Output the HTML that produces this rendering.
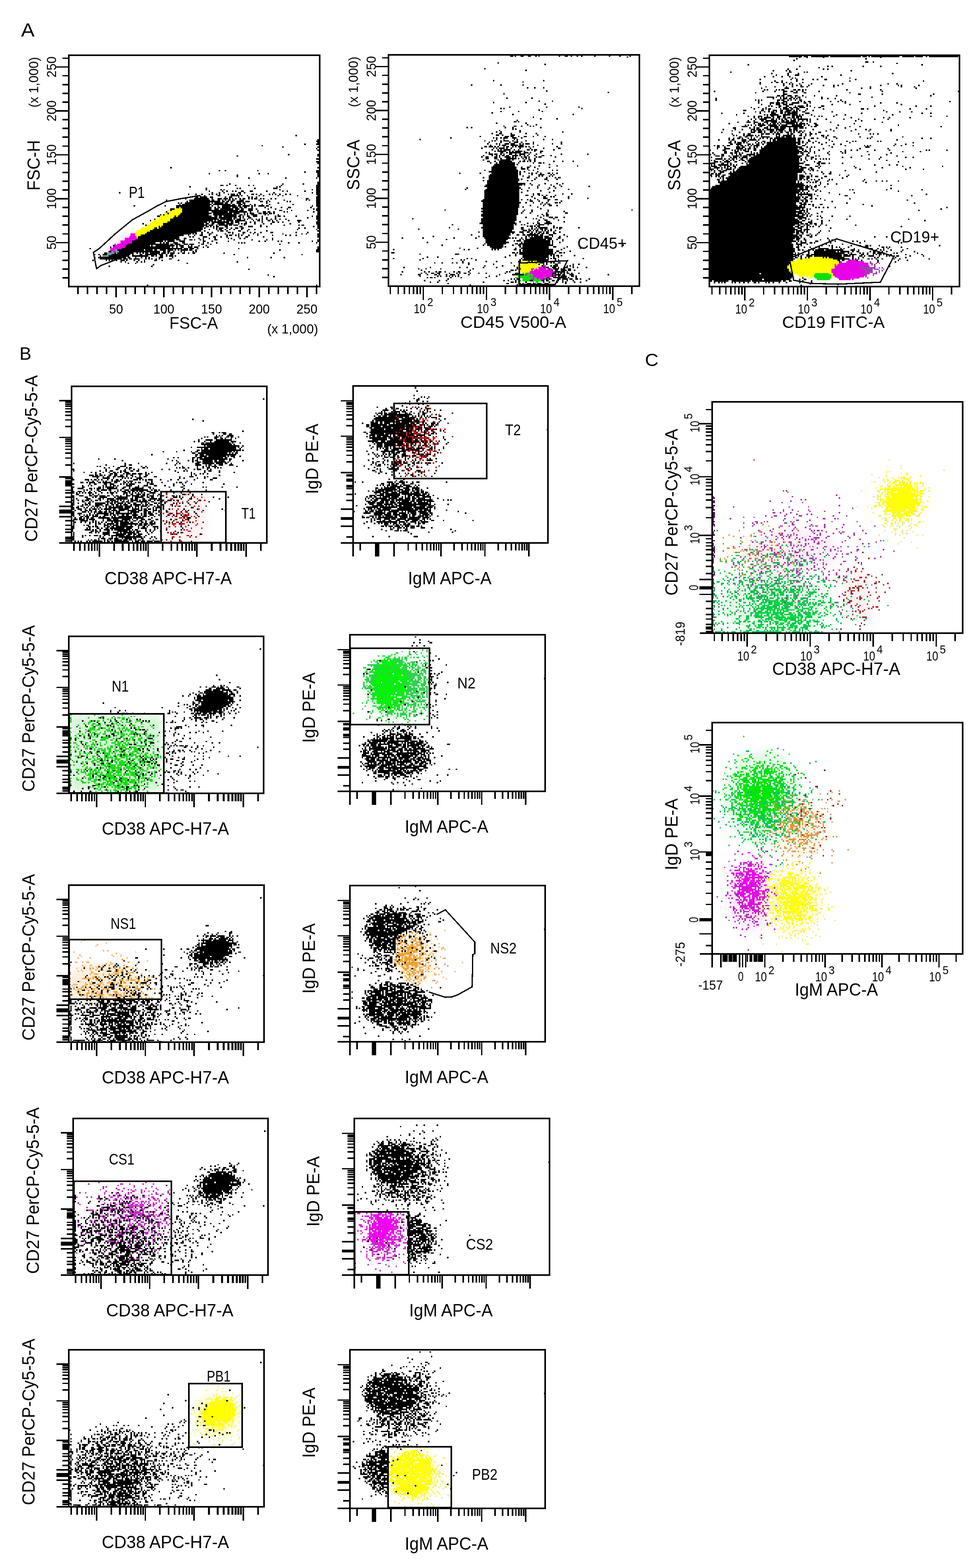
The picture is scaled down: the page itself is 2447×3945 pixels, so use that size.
<!DOCTYPE html>
<html><head><meta charset="utf-8"><style>
html,body{margin:0;padding:0;background:#fff;}
svg{display:block;}
text{font-family:'Liberation Sans', Arial, sans-serif;fill:#000;}
</style></head><body>
<svg width="2447" height="3945" viewBox="0 0 2447 3945" shape-rendering="crispEdges">
<defs><filter id="b6" x="-50%" y="-50%" width="200%" height="200%"><feGaussianBlur stdDeviation="6"/></filter><filter id="b8" x="-50%" y="-50%" width="200%" height="200%"><feGaussianBlur stdDeviation="8"/></filter><filter id="b10" x="-50%" y="-50%" width="200%" height="200%"><feGaussianBlur stdDeviation="10"/></filter></defs>
<rect width="2447" height="3945" fill="#fff"/>
<text x="53.0" y="92.0" font-size="48" textLength="34.0" lengthAdjust="spacingAndGlyphs">A</text>
<text x="49.0" y="905.0" font-size="45" textLength="30.0" lengthAdjust="spacingAndGlyphs">B</text>
<text x="1622.0" y="921.0" font-size="45" textLength="34.0" lengthAdjust="spacingAndGlyphs">C</text>
<ellipse cx="300" cy="610" rx="40" ry="14" fill="#fcecfc" opacity="1" filter="url(#b6)" transform="rotate(-35 300 610)"/>
<path transform="translate(173.00 140.85) scale(3.7)" d="M154 54h1m14 3h1m-2 1h2m-1 1h1m-10 1h1m7 0h2m-39 1h1m13 1h1m23 0h1m-2 1h1m0 1h1m-21 3h1m19 0h1m-56 1h1m54 0h1m-2 2h2m-2 2h2m-1 1h1m-101 3h1m99 0h1m-68 2h1m3 0h1m21 0h1m39 0h2m-10 1h1m7 0h2m-75 1h1m33 0h1m5 0h1m33 0h1m-56 1h1m54 0h1m-56 1h1m54 0h1m-48 1h1m24 0h1m20 0h1m0 3h1m-61 1h1m35 0h1m13 0h1m9 0h1m-67 1h2m2 0h1m5 0h1m8 0h1m2 0h1m18 0h1m23 0h2m-88 1h1m58 0h1m1 0h1m24 0h2m-77 1h1m20 0h1m1 0h1m9 0h1m12 0h3m26 0h2m-77 1h1m9 0h1m1 0h1m37 0h1m21 0h1m2 0h2m-75 1h1m8 0h1m2 0h1m3 0h1m1 0h1m3 0h2m4 0h2m9 0h1m10 0h1m2 0h1m11 0h1m7 0h2m-136 1h1m62 0h1m4 0h1m2 0h1m9 0h2m2 0h1m19 0h1m25 0h1m2 0h2m-89 1h1m4 0h1m3 0h1m4 0h1m1 0h1m2 0h1m1 0h1m5 0h1m1 0h3m1 0h1m1 0h1m7 0h2m1 0h1m2 0h1m5 0h1m1 0h1m1 0h1m2 0h1m3 0h1m2 0h1m17 0h2m-78 1h1m8 0h2m7 0h6m1 0h1m3 0h1m7 0h1m2 0h1m9 0h1m2 0h1m9 0h1m13 0h1m-84 1h2m1 0h5m2 0h2m8 0h1m2 0h2m4 0h1m6 0h1m1 0h1m2 0h1m40 0h2m-91 1h1m5 0h10m2 0h1m3 0h3m1 0h3m1 0h1m1 0h1m1 0h1m2 0h1m1 0h2m2 0h1m1 0h1m1 0h2m2 0h1m1 0h1m4 0h1m2 0h1m20 0h2m5 0h2m-104 1h1m15 0h14m1 0h2m2 0h2m1 0h1m1 0h1m1 0h2m1 0h2m3 0h3m10 0h1m5 0h1m10 0h1m14 0h1m1 0h1m4 0h2m-90 1h1m1 0h21m1 0h2m1 0h2m1 0h2m2 0h5m1 0h3m7 0h2m2 0h1m1 0h1m11 0h1m1 0h1m17 0h2m-96 1h1m1 0h1m2 0h17m1 0h1m1 0h6m1 0h2m2 0h1m3 0h3m1 0h2m14 0h1m7 0h1m25 0h2m-95 1h1m1 0h20m1 0h12m1 0h2m2 0h3m1 0h1m3 0h1m2 0h1m4 0h1m4 0h1m15 0h1m15 0h2m-126 1h1m20 0h1m7 0h23m1 0h1m3 0h1m2 0h10m1 0h2m1 0h5m1 0h1m1 0h1m2 0h4m1 0h2m29 0h1m2 0h2m-97 1h2m1 0h21m2 0h1m1 0h2m1 0h6m1 0h4m1 0h2m1 0h2m3 0h1m8 0h1m3 0h1m6 0h1m4 0h2m13 0h1m4 0h1m-101 1h3m5 0h20m2 0h3m1 0h9m1 0h3m1 0h2m3 0h3m2 0h1m7 0h1m4 0h1m7 0h1m17 0h1m1 0h2m-101 1h1m7 0h38m1 0h3m3 0h3m3 0h1m14 0h2m6 0h1m10 0h1m5 0h2m-104 1h1m10 0h18m2 0h11m1 0h12m2 0h1m4 0h1m3 0h2m1 0h2m2 0h1m6 0h1m1 0h1m17 0h1m2 0h1m-103 1h1m8 0h21m1 0h13m1 0h4m3 0h1m1 0h1m1 0h3m3 0h2m1 0h3m1 0h2m1 0h1m29 0h1m-108 1h1m1 0h1m10 0h20m3 0h16m2 0h2m1 0h1m1 0h1m2 0h4m5 0h1m1 0h1m6 0h1m26 0h1m-110 1h2m10 0h1m1 0h23m2 0h2m1 0h2m1 0h9m1 0h2m1 0h1m2 0h2m2 0h3m3 0h1m8 0h1m1 0h2m2 0h1m7 0h1m10 0h1m2 0h2m-99 1h30m1 0h9m1 0h2m2 0h1m1 0h1m3 0h2m7 0h1m2 0h1m5 0h1m21 0h1m5 0h2m-112 1h1m10 0h33m1 0h8m1 0h1m1 0h3m2 0h1m1 0h1m2 0h1m2 0h1m1 0h1m1 0h1m2 0h1m2 0h1m2 0h1m2 0h1m3 0h1m20 0h2m-115 1h1m13 0h29m1 0h1m1 0h3m1 0h1m1 0h5m1 0h7m5 0h1m2 0h2m1 0h1m3 0h2m1 0h1m2 0h1m7 0h1m5 0h3m11 0h1m-103 1h27m1 0h1m1 0h12m1 0h2m1 0h3m4 0h1m2 0h1m2 0h1m4 0h1m6 0h2m2 0h1m2 0h1m10 0h1m11 0h2m-120 1h1m13 0h28m1 0h2m2 0h2m2 0h5m1 0h5m3 0h1m1 0h1m1 0h2m5 0h1m5 0h1m4 0h1m12 0h1m17 0h2m-118 1h1m11 0h30m1 0h3m2 0h1m1 0h6m1 0h2m1 0h3m4 0h1m10 0h1m15 0h1m9 0h1m1 0h2m9 0h2m-110 1h1m1 0h29m1 0h2m1 0h1m1 0h1m1 0h2m4 0h2m8 0h2m4 0h3m5 0h1m3 0h1m31 0h1m2 0h1m-112 1h2m1 0h30m1 0h1m5 0h1m1 0h1m1 0h3m2 0h1m2 0h1m2 0h2m2 0h2m37 0h1m3 0h1m8 0h1m-113 1h34m4 0h1m4 0h1m1 0h2m2 0h1m2 0h1m2 0h1m4 0h1m4 0h1m3 0h1m28 0h1m12 0h1m-114 1h35m2 0h1m8 0h1m1 0h2m2 0h1m7 0h2m4 0h1m12 0h1m34 0h1m-117 1h34m3 0h1m3 0h1m2 0h1m10 0h2m1 0h1m6 0h2m3 0h1m2 0h1m3 0h1m6 0h2m15 0h1m7 0h1m-111 1h31m1 0h1m1 0h1m3 0h1m4 0h2m9 0h1m4 0h1m3 0h1m2 0h1m6 0h1m2 0h1m16 0h1m12 0h1m2 0h1m7 0h1m-121 1h29m3 0h1m3 0h1m3 0h2m4 0h1m4 0h1m6 0h1m1 0h2m2 0h1m1 0h1m1 0h1m4 0h1m5 0h1m9 0h1m8 0h1m2 0h1m3 0h1m14 0h1m-123 1h28m7 0h1m1 0h1m6 0h3m4 0h2m3 0h1m3 0h1m7 0h1m4 0h2m10 0h1m36 0h1m-123 1h28m3 0h2m8 0h1m2 0h1m3 0h1m3 0h1m8 0h1m1 0h1m5 0h1m2 0h1m18 0h1m-94 1h27m1 0h3m2 0h1m3 0h2m1 0h1m3 0h1m1 0h1m7 0h2m11 0h1m11 0h1m9 0h1m3 0h1m30 0h1m-127 1h21m1 0h1m1 0h5m3 0h4m12 0h2m4 0h1m10 0h1m20 0h1m3 0h1m8 0h1m1 0h1m20 0h1m3 0h1m-127 1h16m3 0h1m1 0h1m1 0h2m3 0h3m3 0h2m9 0h1m2 0h1m2 0h1m5 0h1m14 0h1m1 0h1m1 0h1m29 0h1m6 0h1m11 0h1m-129 1h28m1 0h2m1 0h4m2 0h3m1 0h3m5 0h2m4 0h1m46 0h1m-114 1h1m8 0h16m1 0h1m2 0h13m1 0h1m1 0h3m3 0h1m1 0h1m4 0h1m4 0h1m-66 1h1m9 0h31m1 0h1m2 0h1m2 0h2m3 0h3m1 0h3m3 0h1m2 0h1m74 0h1m-156 1h1m21 0h41m1 0h3m1 0h3m2 0h1m27 0h1m53 0h1m-137 1h18m1 0h5m1 0h2m2 0h4m1 0h4m1 0h1m1 0h1m1 0h5m1 0h2m2 0h1m56 0h1m24 0h2m-143 1h2m5 0h28m2 0h2m1 0h2m2 0h1m4 0h1m1 0h1m5 0h1m1 0h1m81 0h2m-146 1h2m5 0h1m1 0h11m2 0h1m1 0h1m1 0h1m1 0h2m1 0h7m1 0h3m1 0h1m1 0h3m2 0h1m2 0h2m2 0h1m2 0h2m19 0h1m33 0h1m-123 1h1m2 0h1m2 0h3m3 0h13m1 0h1m4 0h2m2 0h8m1 0h3m2 0h1m2 0h2m41 0h1m45 0h1m-138 1h1m5 0h14m2 0h11m2 0h2m1 0h1m2 0h2m2 0h1m1 0h3m1 0h1m-56 1h1m2 0h19m1 0h2m3 0h1m3 0h1m2 0h1m1 0h1m6 0h3m6 0h1m50 0h1m15 0h1m8 0h1m-126 1h15m1 0h3m1 0h2m1 0h4m4 0h1m1 0h1m1 0h1m2 0h1m1 0h1m6 0h2m-54 1h1m8 0h1m1 0h1m1 0h1m2 0h1m2 0h3m1 0h1m4 0h1m2 0h1m3 0h1m6 0h2m3 0h1m10 0h1m-40 1h1m2 0h1m7 0h1m2 0h1m1 0h1m62 0h1m-75 1h1m4 0h1m34 0h1m-24 1h1m-31 1h1m28 0h1m65 2h1m12 4h1m3 1h1m-87 6h1m114 0h1" stroke="#000" stroke-width="1" fill="none"/>
<path transform="translate(173.00 140.85) scale(3.7)" d="M75 103h1m-4 1h5m-10 1h2m1 0h7m-9 1h9m-12 1h2m1 0h8m-11 1h10m-13 1h10m1 0h1m-13 1h10m-11 1h9m-12 1h12m-13 1h11m-12 1h9m-11 1h11m-12 1h9m1 0h1m-14 1h9m2 0h1m-13 1h9m-11 1h9m-10 1h8m-8 1h7m-7 1h4m-3 1h1" stroke="#ffff00" stroke-width="1" fill="none"/>
<path transform="translate(173.00 140.85) scale(3.7)" d="M42 121h3m-3 1h3m-4 1h5m-8 1h9m-9 1h7m-10 1h8m-8 1h8m-12 1h1m1 0h7m-9 1h8m-9 1h8m-10 1h8m-8 1h3m-1 1h2" stroke="#e800e8" stroke-width="1" fill="none"/>
<path transform="translate(173.00 140.85) scale(3.7)" d="M31 132h2m-4 1h1m2 0h2m-8 1h5m1 0h1m-7 1h3m-6 1h4" stroke="#70a0a0" stroke-width="1" fill="none"/>
<rect x="173.0" y="139.0" width="631.0" height="582.0" fill="none" stroke="#000" stroke-width="3.7"/>
<path d="M173.0 698.9h-16.0M173.0 676.8h-16.0M173.0 654.7h-16.0M173.0 632.6h-16.0M173.0 588.4h-16.0M173.0 566.3h-16.0M173.0 544.2h-16.0M173.0 522.1h-16.0M173.0 477.9h-16.0M173.0 455.8h-16.0M173.0 433.7h-16.0M173.0 411.6h-16.0M173.0 367.4h-16.0M173.0 345.3h-16.0M173.0 323.2h-16.0M173.0 301.1h-16.0M173.0 256.9h-16.0M173.0 234.8h-16.0M173.0 212.7h-16.0M173.0 190.6h-16.0M173.0 146.4h-16.0" stroke="#000" stroke-width="3.7"/>
<path d="M173.0 610.5h-33.0M173.0 500.0h-33.0M173.0 389.5h-33.0M173.0 279.0h-33.0M173.0 168.5h-33.0" stroke="#000" stroke-width="3.7"/>
<text x="141.0" y="610.5" font-size="34" textLength="35.0" lengthAdjust="spacingAndGlyphs" transform="rotate(-90 141.0 610.5)" text-anchor="middle">50</text>
<text x="141.0" y="500.0" font-size="34" textLength="53.0" lengthAdjust="spacingAndGlyphs" transform="rotate(-90 141.0 500.0)" text-anchor="middle">100</text>
<text x="141.0" y="389.5" font-size="34" textLength="53.0" lengthAdjust="spacingAndGlyphs" transform="rotate(-90 141.0 389.5)" text-anchor="middle">150</text>
<text x="141.0" y="279.0" font-size="34" textLength="53.0" lengthAdjust="spacingAndGlyphs" transform="rotate(-90 141.0 279.0)" text-anchor="middle">200</text>
<text x="141.0" y="168.5" font-size="34" textLength="53.0" lengthAdjust="spacingAndGlyphs" transform="rotate(-90 141.0 168.5)" text-anchor="middle">250</text>
<text x="96.0" y="207.0" font-size="33" textLength="127.0" lengthAdjust="spacingAndGlyphs" transform="rotate(-90 96.0 207.0)" text-anchor="middle">(x 1,000)</text>
<text x="100.0" y="416.0" font-size="44" textLength="127.0" lengthAdjust="spacingAndGlyphs" transform="rotate(-90 100.0 416.0)" text-anchor="middle">FSC-H</text>
<path d="M196.0 721.0v19.0M220.0 721.0v19.0M244.0 721.0v19.0M268.0 721.0v19.0M316.0 721.0v19.0M340.0 721.0v19.0M364.0 721.0v19.0M388.0 721.0v19.0M436.0 721.0v19.0M460.0 721.0v19.0M484.0 721.0v19.0M508.0 721.0v19.0M556.0 721.0v19.0M580.0 721.0v19.0M604.0 721.0v19.0M628.0 721.0v19.0M676.0 721.0v19.0M700.0 721.0v19.0M724.0 721.0v19.0M748.0 721.0v19.0M796.0 721.0v19.0" stroke="#000" stroke-width="3.7"/>
<path d="M292.0 721.0v27.0M412.0 721.0v27.0M532.0 721.0v27.0M652.0 721.0v27.0M772.0 721.0v27.0" stroke="#000" stroke-width="3.7"/>
<text x="292.0" y="789.0" font-size="34" textLength="35.0" lengthAdjust="spacingAndGlyphs" text-anchor="middle">50</text>
<text x="412.0" y="789.0" font-size="34" textLength="53.0" lengthAdjust="spacingAndGlyphs" text-anchor="middle">100</text>
<text x="532.0" y="789.0" font-size="34" textLength="53.0" lengthAdjust="spacingAndGlyphs" text-anchor="middle">150</text>
<text x="652.0" y="789.0" font-size="34" textLength="53.0" lengthAdjust="spacingAndGlyphs" text-anchor="middle">200</text>
<text x="772.0" y="789.0" font-size="34" textLength="53.0" lengthAdjust="spacingAndGlyphs" text-anchor="middle">250</text>
<text x="426.0" y="827.0" font-size="42" textLength="122.0" lengthAdjust="spacingAndGlyphs">FSC-A</text>
<text x="672.0" y="839.0" font-size="33" textLength="128.0" lengthAdjust="spacingAndGlyphs">(x 1,000)</text>
<polygon points="235.0,635.0 250.0,625.0 289.0,589.0 333.0,553.0 373.0,531.0 395.0,518.0 418.0,507.0 434.0,504.0 454.0,500.0 478.0,496.0 502.0,492.0 510.0,499.0 470.0,560.0 300.0,650.0 254.0,668.0 243.0,676.0 241.0,667.0" fill="none" stroke="#000" stroke-width="3.2" stroke-linejoin="miter"/>
<text x="324.0" y="498.0" font-size="40" textLength="40.0" lengthAdjust="spacingAndGlyphs">P1</text>
<path transform="translate(977.00 139.85) scale(3.7)" d="M162 1h1m-89 4h1m31 1h1m-42 3h1m27 1h1m-23 7h1m33 0h1m-15 1h1m-36 2h1m19 0h1m14 0h1m2 2h1m4 0h1m5 0h1m1 2h1m41 1h1m-72 1h1m1 3h1m16 0h1m4 2h1m8 0h1m-41 1h1m21 0h1m12 1h1m-25 2h1m24 0h1m21 0h1m-54 1h1m1 0h1m52 0h1m-30 1h1m-27 1h1m11 0h1m15 0h1m-35 1h1m13 1h1m40 0h1m-28 2h1m4 1h1m10 0h1m-28 1h1m-3 1h2m1 0h1m-16 1h1m19 0h1m0 1h1m5 0h1m-23 1h1m6 0h2m3 0h1m5 0h1m1 0h1m-46 1h1m2 0h1m22 0h1m4 0h1m18 0h1m-20 1h1m1 0h1m-12 1h1m13 0h1m-17 1h1m2 0h1m12 0h1m28 0h1m-49 1h1m4 0h2m6 0h1m9 0h1m6 0h1m-28 1h2m2 0h1m5 0h3m15 0h1m-40 1h1m16 0h3m1 0h2m3 0h1m3 0h2m4 0h1m7 0h1m-65 1h1m28 0h1m1 0h1m2 0h1m1 0h3m3 0h3m3 0h1m-70 1h1m51 0h1m4 0h1m6 0h1m1 0h1m17 0h1m5 0h1m-47 1h1m4 0h1m1 0h1m3 0h1m1 0h4m2 0h1m2 0h1m5 0h1m-26 1h1m7 0h1m5 0h1m2 0h3m2 0h1m7 0h1m18 0h1m-51 1h1m5 0h1m1 0h1m3 0h3m1 0h3m3 0h1m1 0h1m1 0h3m2 0h1m12 0h1m5 0h1m-49 1h1m5 0h1m1 0h3m3 0h5m1 0h3m9 0h1m-37 1h2m1 0h3m1 0h1m1 0h1m3 0h1m1 0h2m2 0h1m1 0h1m1 0h4m1 0h1m1 0h1m2 0h1m15 0h1m-52 1h1m7 0h1m1 0h1m1 0h4m1 0h1m2 0h1m5 0h1m6 0h1m8 0h1m9 0h2m-47 1h1m3 0h1m1 0h1m1 0h5m2 0h1m2 0h1m5 0h2m1 0h1m1 0h2m11 0h1m-41 1h1m1 0h6m2 0h1m1 0h1m1 0h5m1 0h1m6 0h1m3 0h2m-39 1h1m1 0h1m7 0h2m2 0h1m1 0h8m2 0h3m1 0h1m6 0h1m-36 1h3m1 0h2m2 0h1m1 0h1m3 0h2m2 0h1m2 0h4m2 0h1m4 0h1m16 0h1m17 0h1m-72 1h1m5 0h1m2 0h1m1 0h1m1 0h2m1 0h2m2 0h4m1 0h1m2 0h1m1 0h1m4 0h1m4 0h2m4 0h1m-48 1h1m2 0h2m4 0h2m1 0h1m3 0h4m1 0h1m1 0h1m3 0h1m1 0h2m1 0h1m4 0h1m1 0h2m9 0h1m-48 1h2m4 0h2m2 0h1m3 0h7m1 0h1m2 0h1m1 0h1m1 0h1m3 0h1m-36 1h1m9 0h1m1 0h7m1 0h1m7 0h1m2 0h2m2 0h1m-33 1h2m3 0h1m2 0h9m5 0h1m1 0h2m1 0h1m1 0h1m2 0h1m12 0h1m5 0h1m6 0h1m-57 1h1m3 0h1m1 0h11m2 0h1m9 0h1m3 0h2m1 0h1m-34 1h14m1 0h1m21 0h1m-39 1h15m10 0h1m5 0h1m11 0h1m13 0h1m-59 1h17m3 0h1m3 0h2m3 0h1m9 0h1m-40 1h17m3 0h3m1 0h1m6 0h1m-37 1h1m4 0h18m7 0h1m2 0h1m12 0h1m2 0h1m-47 1h20m1 0h1m2 0h1m8 0h1m-54 1h1m13 0h1m7 0h18m1 0h1m5 0h1m1 0h1m2 0h1m2 0h1m4 0h2m1 0h1m2 0h1m-46 1h19m1 0h1m7 0h1m4 0h4m4 0h1m1 0h1m-45 1h20m3 0h1m3 0h1m6 0h1m1 0h1m4 0h1m1 0h1m-48 1h1m3 0h20m6 0h2m4 0h1m6 0h1m5 0h1m1 0h2m-49 1h21m1 0h1m8 0h1m6 0h2m6 0h1m-51 1h1m2 0h22m5 0h1m2 0h1m10 0h1m-42 1h21m-21 1h26m3 0h1m9 0h1m7 0h1m3 0h1m-53 1h25m1 0h1m4 0h1m4 0h1m7 0h1m5 0h1m-52 1h24m12 0h1m10 0h1m4 0h1m18 0h1m-84 1h1m13 0h23m5 0h1m5 0h1m7 0h1m3 0h1m-62 1h1m13 0h23m1 0h1m17 0h1m13 0h1m-58 1h24m5 0h1m8 0h1m8 0h1m-48 1h24m1 0h1m18 0h1m-45 1h24m9 0h1m2 0h2m15 0h1m5 0h1m-60 1h24m4 0h2m3 0h1m3 0h1m1 0h1m2 0h1m5 0h1m-49 1h24m8 0h1m7 0h2m3 0h1m1 0h1m9 0h1m-58 1h24m10 0h1m5 0h3m14 0h1m12 0h1m-72 1h25m1 0h1m3 0h1m1 0h1m4 0h1m6 0h2m3 0h2m-52 1h26m7 0h2m4 0h1m5 0h1m8 0h1m-54 1h26m3 0h1m4 0h1m5 0h1m2 0h1m5 0h2m1 0h1m-53 1h25m14 0h1m2 0h1m1 0h2m-46 1h25m7 0h1m8 0h1m3 0h2m3 0h1m-51 1h25m2 0h1m9 0h1m-39 1h25m15 0h1m-66 1h1m25 0h24m4 0h1m4 0h1m10 0h1m56 0h1m-103 1h25m3 0h1m5 0h1m10 0h1m10 0h1m-56 1h24m2 0h1m5 0h1m10 0h1m12 0h2m-59 1h25m16 0h1m2 0h2m-46 1h24m14 0h1m3 0h1m1 0h2m-45 1h23m6 0h1m9 0h1m5 0h3m1 0h2m4 0h1m-104 1h1m46 0h24m11 0h1m1 0h1m4 0h1m6 0h1m-50 1h24m15 0h1m3 0h2m7 0h1m-53 1h23m3 0h1m11 0h1m5 0h3m9 0h1m-58 1h25m7 0h1m3 0h1m2 0h2m3 0h5m-68 1h1m20 0h21m1 0h1m3 0h1m1 0h1m7 0h1m1 0h4m2 0h1m-45 1h21m9 0h1m1 0h2m1 0h1m1 0h2m9 0h1m-72 1h1m21 0h22m5 0h2m5 0h1m2 0h1m1 0h6m4 0h1m1 0h1m1 0h2m11 0h1m-110 1h1m26 0h1m16 0h21m5 0h2m3 0h1m1 0h1m1 0h1m1 0h1m1 0h2m1 0h2m2 0h1m5 0h1m-53 1h20m7 0h3m1 0h2m1 0h1m1 0h2m2 0h1m1 0h1m1 0h1m1 0h1m2 0h1m-53 1h1m2 0h22m3 0h3m2 0h2m1 0h1m2 0h1m1 0h2m1 0h1m1 0h2m3 0h1m3 0h1m-53 1h19m1 0h1m6 0h1m4 0h2m1 0h1m1 0h2m1 0h2m1 0h2m3 0h2m-58 1h1m7 0h19m4 0h2m2 0h2m1 0h8m1 0h2m4 0h3m7 0h1m-90 1h1m30 0h1m2 0h18m11 0h1m1 0h1m1 0h1m1 0h6m1 0h3m2 0h1m4 0h1m4 0h1m-113 1h1m13 0h1m20 0h1m14 0h1m5 0h18m1 0h1m1 0h1m3 0h1m2 0h1m2 0h9m1 0h5m4 0h2m-78 1h1m26 0h15m8 0h1m1 0h1m1 0h14m1 0h3m3 0h1m3 0h1m-53 1h14m5 0h1m1 0h3m2 0h18m1 0h1m6 0h1m-93 1h1m39 0h16m8 0h1m1 0h18m1 0h1m4 0h1m-52 1h1m1 0h13m6 0h2m1 0h21m1 0h1m-76 1h1m27 0h1m2 0h11m6 0h1m3 0h2m1 0h21m47 0h1m-91 1h9m1 0h1m9 0h1m1 0h18m3 0h2m7 0h1m-74 1h1m11 0h1m9 0h7m9 0h1m3 0h19m10 0h1m10 0h1m-128 1h1m47 0h1m2 0h1m15 0h1m1 0h1m1 0h1m10 0h2m2 0h1m1 0h21m5 0h1m-29 1h1m1 0h21m2 0h2m7 0h1m-122 1h2m80 0h2m1 0h1m1 0h23m1 0h1m2 0h2m1 0h1m-99 1h1m23 0h3m38 0h1m2 0h24m-31 1h1m3 0h1m4 0h18m1 0h1m1 0h1m1 0h2m1 0h1m8 0h1m-101 1h1m6 0h1m45 0h1m11 0h18m3 0h1m2 0h1m-113 1h1m19 0h1m19 0h1m9 0h1m2 0h1m33 0h1m1 0h15m1 0h1m1 0h1m1 0h2m18 0h1m-112 1h1m27 0h1m1 0h1m7 0h1m29 0h1m1 0h18m4 0h1m1 0h1m-66 1h1m15 0h1m6 0h1m14 0h2m5 0h1m1 0h1m3 0h7m3 0h2m-82 1h1m4 0h1m6 0h1m2 0h1m3 0h1m3 0h1m28 0h1m5 0h2m9 0h1m2 0h3m1 0h1m2 0h1m1 0h1m2 0h2m-63 1h1m16 0h1m30 0h1m2 0h1m1 0h1m5 0h2m10 0h1m3 0h1m-65 1h1m11 0h1m7 0h1m18 0h1m5 0h1m1 0h3m6 0h1m1 0h1m1 0h1m-116 1h1m17 0h1m19 0h1m4 0h1m10 0h1m8 0h1m13 0h1m17 0h1m1 0h2m2 0h3m1 0h1m3 0h3m3 0h1m2 0h1m5 0h1m-115 1h1m4 0h1m9 0h1m21 0h1m29 0h1m1 0h1m19 0h1m2 0h4m1 0h1m1 0h1m2 0h2m-102 1h1m32 0h1m27 0h2m1 0h1m24 0h1m1 0h2m2 0h4m1 0h2m2 0h1m-118 1h1m14 0h1m2 0h1m4 0h1m1 0h2m2 0h1m5 0h1m2 0h2m5 0h1m25 0h1m1 0h1m30 0h4m1 0h2m1 0h1m-100 1h1m2 0h1m3 0h2m2 0h2m6 0h1m4 0h1m1 0h1m2 0h2m2 0h1m5 0h1m4 0h1m12 0h1m6 0h2m23 0h3m1 0h1m1 0h1m1 0h1m1 0h2m1 0h1m4 0h1m-122 1h1m11 0h2m4 0h1m4 0h2m1 0h1m4 0h1m2 0h3m2 0h1m6 0h1m20 0h1m8 0h4m1 0h3m19 0h1m1 0h4m1 0h2m3 0h3m23 0h1m-129 1h1m11 0h1m1 0h1m3 0h1m1 0h1m1 0h1m1 0h1m1 0h1m20 0h1m4 0h1m37 0h1m1 0h1m1 0h1m1 0h4m3 0h2m1 0h1m-102 1h1m1 0h2m1 0h1m10 0h1m6 0h1m16 0h1m41 0h1m3 0h3m1 0h5m1 0h1m4 0h1m-88 1h1m42 0h1m1 0h1m1 0h2m16 0h1m1 0h1m1 0h1m5 0h2m1 0h4m1 0h2m2 0h2m1 0h1m5 0h1m-113 1h1m9 0h1m4 0h1m38 0h1m2 0h1m4 0h1m1 0h1m7 0h2m6 0h2m1 0h2m2 0h2m2 0h1m2 0h1m2 0h1m3 0h1m8 0h1m-107 1h1m4 0h1m30 0h1m18 0h2m1 0h1m6 0h1m11 0h1m3 0h1m4 0h1m3 0h1m1 0h1m5 0h1m3 0h1m-91 1h1m39 0h2m6 0h2m1 0h1m2 0h3m1 0h2m1 0h3m2 0h3m11 0h1m-66 1h1m31 0h1m5 0h2m2 0h1m2 0h1m2 0h1m3 0h1m2 0h1" stroke="#000" stroke-width="1" fill="none"/>
<path transform="translate(977.00 139.85) scale(3.7)" d="M90 140h1m2 0h2m1 0h1m1 0h3m-9 1h8m1 0h2m-14 1h1m1 0h11m2 0h1m-17 1h13m1 0h1m-15 1h14m-14 1h1m1 0h7m2 0h1m1 0h1m-14 1h9m1 0h1m-9 1h6m-4 1h1" stroke="#ffff00" stroke-width="1" fill="none"/>
<path transform="translate(977.00 139.85) scale(3.7)" d="M88 148h1m2 0h1m1 0h1m1 0h1m-8 1h1m3 0h1m1 0h4m-10 1h8m1 0h1m-12 1h2m1 0h9m1 0h1m5 0h2m-16 1h6m2 0h2m1 0h1m5 0h1m-20 1h1m1 0h5m2 0h6m-16 1h1m9 0h1m1 0h2" stroke="#10dd10" stroke-width="1" fill="none"/>
<path transform="translate(977.00 139.85) scale(3.7)" d="M105 143h2m-5 1h3m1 0h1m-10 1h2m1 0h1m1 0h5m1 0h1m1 0h1m-14 1h1m1 0h12m-15 1h17m-19 1h1m1 0h15m-18 1h1m4 0h13m1 0h1m-17 1h1m1 0h13m1 0h1m-15 1h1m1 0h5m2 0h1m1 0h1m-13 1h2m2 0h1m1 0h2m1 0h1m3 0h1" stroke="#e800e8" stroke-width="1" fill="none"/>
<rect x="977.0" y="138.0" width="631.0" height="582.0" fill="none" stroke="#000" stroke-width="3.7"/>
<path d="M977.0 697.9h-16.0M977.0 675.8h-16.0M977.0 653.7h-16.0M977.0 631.6h-16.0M977.0 587.4h-16.0M977.0 565.3h-16.0M977.0 543.2h-16.0M977.0 521.1h-16.0M977.0 476.9h-16.0M977.0 454.8h-16.0M977.0 432.7h-16.0M977.0 410.6h-16.0M977.0 366.4h-16.0M977.0 344.3h-16.0M977.0 322.2h-16.0M977.0 300.1h-16.0M977.0 255.9h-16.0M977.0 233.8h-16.0M977.0 211.7h-16.0M977.0 189.6h-16.0M977.0 145.4h-16.0" stroke="#000" stroke-width="3.7"/>
<path d="M977.0 609.5h-33.0M977.0 499.0h-33.0M977.0 388.5h-33.0M977.0 278.0h-33.0M977.0 167.5h-33.0" stroke="#000" stroke-width="3.7"/>
<text x="945.0" y="609.5" font-size="34" textLength="35.0" lengthAdjust="spacingAndGlyphs" transform="rotate(-90 945.0 609.5)" text-anchor="middle">50</text>
<text x="945.0" y="499.0" font-size="34" textLength="53.0" lengthAdjust="spacingAndGlyphs" transform="rotate(-90 945.0 499.0)" text-anchor="middle">100</text>
<text x="945.0" y="388.5" font-size="34" textLength="53.0" lengthAdjust="spacingAndGlyphs" transform="rotate(-90 945.0 388.5)" text-anchor="middle">150</text>
<text x="945.0" y="278.0" font-size="34" textLength="53.0" lengthAdjust="spacingAndGlyphs" transform="rotate(-90 945.0 278.0)" text-anchor="middle">200</text>
<text x="945.0" y="167.5" font-size="34" textLength="53.0" lengthAdjust="spacingAndGlyphs" transform="rotate(-90 945.0 167.5)" text-anchor="middle">250</text>
<text x="900.0" y="206.0" font-size="33" textLength="127.0" lengthAdjust="spacingAndGlyphs" transform="rotate(-90 900.0 206.0)" text-anchor="middle">(x 1,000)</text>
<text x="904.0" y="415.0" font-size="44" textLength="127.0" lengthAdjust="spacingAndGlyphs" transform="rotate(-90 904.0 415.0)" text-anchor="middle">SSC-A</text>
<path d="M981.6 720.0v20.0M1001.4 720.0v20.0M1016.8 720.0v20.0M1029.4 720.0v20.0M1040.0 720.0v20.0M1049.2 720.0v20.0M1057.3 720.0v20.0M1112.4 720.0v20.0M1140.4 720.0v20.0M1160.2 720.0v20.0M1175.6 720.0v20.0M1188.2 720.0v20.0M1198.8 720.0v20.0M1208.0 720.0v20.0M1216.1 720.0v20.0M1271.2 720.0v20.0M1299.2 720.0v20.0M1319.0 720.0v20.0M1334.4 720.0v20.0M1347.0 720.0v20.0M1357.6 720.0v20.0M1366.8 720.0v20.0M1374.9 720.0v20.0M1430.0 720.0v20.0M1458.0 720.0v20.0M1477.8 720.0v20.0M1493.2 720.0v20.0M1505.8 720.0v20.0M1516.4 720.0v20.0M1525.6 720.0v20.0M1533.7 720.0v20.0M1588.8 720.0v20.0" stroke="#000" stroke-width="3.7"/>
<path d="M1064.6 720.0v35.0M1223.4 720.0v35.0M1382.2 720.0v35.0M1541.0 720.0v35.0" stroke="#000" stroke-width="3.7"/>
<text x="1040.6" y="788.0" font-size="34" textLength="30.0" lengthAdjust="spacingAndGlyphs">10</text>
<text x="1074.6" y="770.0" font-size="30" textLength="15.0" lengthAdjust="spacingAndGlyphs">2</text>
<text x="1199.4" y="788.0" font-size="34" textLength="30.0" lengthAdjust="spacingAndGlyphs">10</text>
<text x="1233.4" y="770.0" font-size="30" textLength="15.0" lengthAdjust="spacingAndGlyphs">3</text>
<text x="1358.2" y="788.0" font-size="34" textLength="30.0" lengthAdjust="spacingAndGlyphs">10</text>
<text x="1392.2" y="770.0" font-size="30" textLength="15.0" lengthAdjust="spacingAndGlyphs">4</text>
<text x="1517.0" y="788.0" font-size="34" textLength="30.0" lengthAdjust="spacingAndGlyphs">10</text>
<text x="1551.0" y="770.0" font-size="30" textLength="15.0" lengthAdjust="spacingAndGlyphs">5</text>
<path d="M1283.3 141.2h7.4M1294.4 141.2h3.7M1309.2 141.2h7.4M1327.7 141.2h7.4M1346.2 141.2h3.7M1353.6 141.2h3.7M1405.4 141.2h3.7M1420.2 141.2h7.4M1435.0 141.2h3.7M1449.8 141.2h3.7M1460.9 141.2h3.7M1494.2 141.2h3.7M1531.2 141.2h3.7M1557.1 141.2h3.7M1583.0 141.2h3.7" stroke="#000" stroke-width="3.5"/>
<text x="1158.0" y="825.0" font-size="43" textLength="266.0" lengthAdjust="spacingAndGlyphs">CD45 V500-A</text>
<polygon points="1306.0,662.0 1427.0,656.0 1396.0,716.0 1306.0,716.0" fill="none" stroke="#000" stroke-width="3.2" stroke-linejoin="miter"/>
<text x="1452.0" y="626.0" font-size="40" textLength="124.0" lengthAdjust="spacingAndGlyphs">CD45+</text>
<path transform="translate(1784.00 140.85) scale(3.7)" d="M61 0h1m-1 1h1m4 0h1m10 0h1m38 0h1m-58 1h1m46 0h1m-50 1h1m48 1h2m3 0h1m15 1h1m-102 1h1m117 0h1m-84 1h1m18 0h1m2 0h1m20 0h1m11 0h1m-43 1h1m-22 1h1m5 0h1m17 0h1m2 0h1m-38 1h1m8 0h1m1 0h1m41 0h1m-83 1h1m39 0h2m8 0h1m1 0h1m-25 1h1m10 0h1m6 0h1m63 0h1m-80 1h1m7 0h1m4 0h3m28 0h1m-53 1h1m5 0h1m5 0h1m4 0h1m21 0h1m-21 1h1m1 0h1m36 0h1m-62 1h1m20 0h1m3 0h1m3 0h1m6 0h1m2 0h1m4 0h2m19 0h1m-56 1h1m4 0h1m9 0h1m35 0h1m49 0h1m-112 1h1m7 0h1m2 0h2m2 0h1m2 0h1m2 0h1m7 0h1m-30 1h1m15 0h1m3 0h1m1 0h1m4 0h1m7 0h1m20 0h1m30 0h1m5 0h1m-78 1h1m5 0h1m2 0h1m2 0h1m4 0h1m9 0h1m6 0h1m2 0h1m28 0h1m11 0h1m1 0h1m11 0h1m-105 1h1m5 0h1m7 0h1m3 0h1m5 0h2m2 0h1m17 0h1m24 0h1m20 0h1m8 0h1m-105 1h1m15 0h3m49 0h1m5 0h1m30 0h1m-104 1h1m1 0h1m5 0h1m1 0h1m1 0h2m6 0h2m1 0h2m1 0h1m1 0h1m27 0h1m22 0h1m-114 1h1m32 0h1m7 0h1m5 0h3m2 0h2m2 0h1m3 0h1m10 0h1m42 0h1m51 0h1m-139 1h1m18 0h1m6 0h3m4 0h2m29 0h1m-46 1h3m48 0h2m14 0h1m34 0h1m-107 1h2m1 0h2m2 0h3m2 0h2m3 0h1m7 0h1m14 0h1m63 0h1m-112 1h5m1 0h1m2 0h1m1 0h1m1 0h1m2 0h2m1 0h1m1 0h2m3 0h1m10 0h1m33 0h1m-107 1h1m38 0h1m4 0h1m1 0h3m1 0h2m1 0h1m1 0h1m1 0h1m14 0h1m3 0h1m4 0h1m-82 1h1m26 0h1m1 0h1m1 0h1m10 0h2m1 0h2m2 0h1m1 0h1m2 0h1m2 0h2m26 0h1m-57 1h1m12 0h1m3 0h3m7 0h1m1 0h1m1 0h1m2 0h2m13 0h1m4 0h1m2 0h1m1 0h1m9 0h1m60 0h1m-131 1h1m7 0h3m1 0h3m1 0h2m1 0h1m3 0h5m3 0h2m2 0h1m23 0h1m23 0h1m10 0h1m-93 1h1m5 0h1m3 0h3m2 0h3m1 0h3m9 0h1m16 0h1m11 0h1m34 0h1m-91 1h1m1 0h1m4 0h2m3 0h2m4 0h1m1 0h4m2 0h1m1 0h1m7 0h2m34 0h1m27 0h1m9 0h1m-123 1h1m4 0h1m4 0h1m6 0h1m1 0h1m2 0h3m1 0h2m1 0h3m1 0h4m6 0h1m2 0h2m-46 1h1m5 0h1m1 0h1m1 0h2m6 0h1m1 0h4m1 0h2m2 0h2m5 0h1m10 0h1m25 0h2m2 0h1m28 0h1m10 0h1m-125 1h2m10 0h2m3 0h1m2 0h3m2 0h2m2 0h4m1 0h1m1 0h1m1 0h1m3 0h1m4 0h1m47 0h1m-88 1h1m2 0h1m2 0h1m2 0h1m1 0h2m1 0h1m2 0h2m1 0h4m1 0h4m3 0h2m18 0h1m36 0h1m8 0h1m7 0h1m-130 1h1m14 0h1m10 0h1m7 0h3m3 0h2m1 0h1m1 0h7m5 0h3m35 0h1m40 0h1m5 0h1m-133 1h1m18 0h1m1 0h1m1 0h6m3 0h5m1 0h4m1 0h1m1 0h1m5 0h1m16 0h1m5 0h1m31 0h1m-99 1h1m3 0h1m2 0h3m3 0h1m2 0h2m2 0h3m1 0h2m4 0h2m1 0h4m8 0h1m2 0h1m1 0h1m7 0h1m65 0h1m10 0h1m-132 1h1m2 0h1m1 0h1m1 0h5m1 0h1m2 0h2m2 0h2m1 0h2m1 0h2m1 0h2m1 0h1m33 0h1m21 0h1m3 0h1m13 0h1m-109 1h1m2 0h1m2 0h5m3 0h2m1 0h1m1 0h1m1 0h1m1 0h2m2 0h1m1 0h2m1 0h7m1 0h1m4 0h1m5 0h1m11 0h1m9 0h1m10 0h1m8 0h1m-96 1h1m3 0h1m4 0h2m1 0h8m3 0h2m1 0h2m1 0h4m1 0h1m2 0h1m2 0h1m1 0h1m30 0h1m3 0h1m-85 1h1m5 0h3m2 0h3m4 0h3m2 0h4m1 0h1m1 0h11m2 0h1m5 0h1m13 0h1m34 0h1m-105 1h1m16 0h1m2 0h2m1 0h1m2 0h1m1 0h1m1 0h2m1 0h1m1 0h1m3 0h6m1 0h1m1 0h4m1 0h1m4 0h2m25 0h1m-75 1h1m1 0h1m1 0h1m2 0h1m1 0h5m2 0h6m1 0h1m1 0h4m3 0h7m1 0h1m2 0h1m4 0h2m13 0h1m40 0h1m-107 1h4m4 0h1m3 0h2m3 0h1m1 0h6m1 0h16m5 0h1m1 0h2m22 0h1m6 0h1m54 0h1m-142 1h2m9 0h1m2 0h1m1 0h2m3 0h3m1 0h1m2 0h3m1 0h4m2 0h1m2 0h3m1 0h3m1 0h1m20 0h1m5 0h1m-84 1h1m7 0h1m4 0h1m5 0h3m1 0h3m1 0h1m2 0h5m1 0h6m3 0h2m1 0h3m10 0h1m11 0h1m16 0h1m6 0h1m2 0h1m13 0h1m-109 1h1m12 0h1m1 0h2m1 0h3m1 0h1m3 0h3m1 0h1m1 0h3m1 0h1m2 0h2m1 0h1m1 0h1m1 0h2m1 0h1m14 0h1m4 0h1m11 0h1m11 0h1m14 0h1m-116 1h1m11 0h1m7 0h3m2 0h3m1 0h1m3 0h2m1 0h1m1 0h1m1 0h2m2 0h2m1 0h1m1 0h1m2 0h2m1 0h1m4 0h1m5 0h2m-61 1h1m7 0h1m2 0h2m7 0h2m1 0h3m2 0h1m1 0h3m5 0h1m1 0h2m5 0h1m2 0h1m2 0h2m2 0h1m28 0h1m7 0h1m1 0h1m2 0h1m-99 1h1m1 0h1m4 0h1m1 0h5m1 0h1m1 0h1m1 0h1m9 0h1m1 0h1m2 0h6m1 0h1m3 0h2m2 0h1m2 0h1m7 0h2m2 0h1m-61 1h2m2 0h2m2 0h1m3 0h1m2 0h6m4 0h3m1 0h2m1 0h4m1 0h1m6 0h1m12 0h1m1 0h1m4 0h2m16 0h1m7 0h1m20 0h1m-119 1h1m2 0h1m2 0h2m1 0h1m3 0h1m1 0h1m1 0h1m3 0h1m1 0h1m2 0h1m1 0h2m1 0h15m1 0h3m1 0h1m4 0h2m2 0h1m5 0h1m6 0h1m20 0h1m1 0h1m34 0h1m5 0h1m-145 1h1m6 0h1m1 0h2m5 0h3m2 0h5m1 0h1m7 0h1m1 0h2m1 0h13m1 0h2m5 0h1m13 0h1m45 0h1m-114 1h1m2 0h1m4 0h3m1 0h1m5 0h1m3 0h2m3 0h1m1 0h16m1 0h2m1 0h1m3 0h2m3 0h1m10 0h1m9 0h1m3 0h1m1 0h1m14 0h1m1 0h1m-104 1h2m2 0h1m1 0h3m1 0h1m1 0h1m5 0h1m1 0h1m1 0h1m1 0h1m1 0h23m1 0h1m2 0h1m3 0h1m3 0h1m4 0h1m15 0h1m42 0h1m-125 1h2m2 0h4m4 0h2m1 0h1m2 0h2m2 0h1m2 0h20m1 0h2m3 0h1m10 0h1m7 0h1m4 0h1m36 0h1m6 0h1m-131 1h1m1 0h2m2 0h1m2 0h2m5 0h1m1 0h2m1 0h1m1 0h1m1 0h1m1 0h4m4 0h22m3 0h2m16 0h1m10 0h1m12 0h1m1 0h1m1 0h1m15 0h1m4 0h1m7 0h1m-134 1h2m3 0h1m7 0h3m1 0h2m3 0h1m2 0h1m1 0h1m2 0h1m1 0h26m3 0h1m2 0h1m1 0h1m11 0h1m22 0h3m-104 1h1m4 0h4m4 0h5m1 0h1m1 0h2m2 0h2m3 0h25m1 0h3m4 0h1m8 0h1m24 0h1m18 0h1m-122 1h1m8 0h2m4 0h1m1 0h1m1 0h1m1 0h1m1 0h2m1 0h1m3 0h2m2 0h27m2 0h1m1 0h1m2 0h1m5 0h1m17 0h1m3 0h1m3 0h1m11 0h1m9 0h1m24 0h1m1 0h1m11 0h1m-152 1h2m5 0h3m4 0h3m1 0h1m5 0h29m1 0h3m1 0h1m2 0h1m9 0h1m7 0h1m2 0h1m14 0h1m23 0h1m11 0h1m-142 1h1m7 0h2m2 0h2m1 0h2m1 0h1m1 0h1m5 0h1m1 0h1m1 0h1m1 0h27m1 0h2m3 0h1m3 0h1m8 0h1m9 0h1m1 0h1m30 0h1m-124 1h1m2 0h1m4 0h2m5 0h1m2 0h1m1 0h2m3 0h6m1 0h28m3 0h1m2 0h1m14 0h1m26 0h1m11 0h1m-117 1h3m1 0h2m3 0h1m2 0h4m1 0h1m1 0h3m1 0h1m2 0h33m3 0h2m4 0h1m1 0h1m28 0h1m23 0h1m-127 1h1m6 0h1m5 0h1m1 0h3m1 0h1m1 0h4m2 0h34m3 0h1m3 0h2m19 0h1m5 0h1m19 0h1m16 0h1m4 0h1m-135 1h5m1 0h1m2 0h1m1 0h2m1 0h1m2 0h2m2 0h1m1 0h34m1 0h1m2 0h1m3 0h1m2 0h1m2 0h1m1 0h1m1 0h1m1 0h1m26 0h1m6 0h1m-115 1h1m1 0h1m5 0h1m1 0h2m1 0h1m1 0h1m3 0h1m1 0h2m2 0h35m1 0h1m3 0h1m53 0h1m-118 1h3m1 0h1m2 0h4m3 0h2m5 0h1m1 0h35m3 0h1m6 0h1m2 0h2m52 0h1m-129 1h4m4 0h2m2 0h1m1 0h1m7 0h1m2 0h1m1 0h37m9 0h2m1 0h3m2 0h1m8 0h1m-90 1h1m1 0h1m2 0h7m1 0h1m1 0h1m1 0h1m6 0h36m4 0h3m6 0h1m37 0h1m9 0h1m4 0h1m-127 1h4m2 0h1m2 0h1m1 0h2m2 0h2m3 0h42m9 0h2m1 0h1m22 0h1m32 0h1m26 0h1m-159 1h1m2 0h4m1 0h1m1 0h1m1 0h1m1 0h1m2 0h1m2 0h41m1 0h4m2 0h2m4 0h1m24 0h1m17 0h1m18 0h1m-137 1h3m2 0h1m2 0h1m2 0h4m1 0h1m2 0h45m3 0h1m1 0h2m31 0h1m30 0h1m11 0h1m-145 1h1m1 0h1m2 0h2m1 0h3m4 0h1m1 0h46m4 0h1m1 0h1m2 0h1m18 0h1m-90 1h1m3 0h3m4 0h1m1 0h47m1 0h1m11 0h1m5 0h1m30 0h1m-113 1h2m1 0h1m1 0h2m5 0h47m5 0h1m2 0h1m8 0h1m3 0h2m-83 1h2m2 0h3m2 0h2m3 0h46m1 0h3m5 0h1m18 0h1m5 0h1m-94 1h1m2 0h1m1 0h1m1 0h2m3 0h47m1 0h4m1 0h2m1 0h1m2 0h2m4 0h2m13 0h1m-87 1h1m1 0h1m1 0h49m1 0h3m2 0h2m8 0h1m13 0h1m-86 1h2m2 0h1m2 0h48m1 0h2m1 0h1m1 0h1m2 0h1m1 0h1m2 0h1m6 0h1m1 0h1m21 0h1m-100 1h1m1 0h51m1 0h1m6 0h1m4 0h2m6 0h1m23 0h1m8 0h1m3 0h1m2 0h1m7 0h1m-123 1h53m1 0h1m1 0h1m3 0h1m1 0h1m1 0h1m1 0h1m2 0h1m30 0h1m-100 1h57m11 0h1m4 0h1m5 0h1m-83 1h61m1 0h1m1 0h1m3 0h1m1 0h1m48 0h1m-122 1h62m1 0h3m1 0h1m1 0h2m5 0h1m-78 1h59m1 0h3m1 0h2m2 0h1m53 0h1m-124 1h67m3 0h1m2 0h1m21 0h1m1 0h1m22 0h1m23 0h1m-145 1h62m1 0h1m3 0h1m4 0h1m2 0h1m52 0h1m-129 1h61m1 0h1m1 0h1m1 0h1m14 0h1m16 0h1m-99 1h59m1 0h10m1 0h1m16 0h1m58 0h1m-148 1h59m1 0h1m1 0h1m4 0h3m3 0h1m18 0h2m43 0h1m-138 1h62m1 0h1m1 0h2m2 0h1m-70 1h62m2 0h2m2 0h2m2 0h1m2 0h1m19 0h1m-96 1h61m1 0h2m1 0h2m11 0h1m55 0h1m-135 1h61m2 0h1m1 0h2m2 0h1m13 0h1m-84 1h59m2 0h2m1 0h2m27 0h1m45 0h1m-140 1h59m3 0h4m1 0h2m1 0h1m4 0h2m27 0h1m-105 1h60m1 0h2m1 0h1m5 0h1m39 0h1m-111 1h65m7 0h1m1 0h1m2 0h1m2 0h1m4 0h1m75 0h1m-162 1h62m1 0h1m2 0h1m1 0h1m88 0h1m-158 1h59m2 0h4m1 0h1m75 0h1m-143 1h63m1 0h1m1 0h1m9 0h1m-77 1h59m1 0h4m1 0h1m1 0h1m5 0h1m-74 1h61m2 0h2m1 0h1m2 0h1m-70 1h64m2 0h1m1 0h1m4 0h1m1 0h1m7 0h1m11 0h1m-96 1h58m2 0h6m10 0h1m-77 1h60m1 0h2m2 0h1m1 0h1m5 0h1m19 0h1m41 0h1m-136 1h61m2 0h2m4 0h1m6 0h1m4 0h1m64 0h1m-147 1h63m4 0h3m6 0h1m-77 1h61m1 0h2m1 0h2m1 0h2m1 0h2m3 0h1m-77 1h58m2 0h2m2 0h1m1 0h2m4 0h1m2 0h1m3 0h1m19 0h1m-100 1h57m1 0h3m1 0h2m2 0h1m1 0h1m1 0h1m3 0h1m55 0h1m-131 1h58m2 0h3m3 0h1m15 0h1m-83 1h60m2 0h1m1 0h4m-68 1h58m1 0h4m1 0h1m1 0h1m8 0h1m5 0h1m-82 1h58m1 0h2m1 0h2m2 0h1m7 0h1m-75 1h57m2 0h2m2 0h1m4 0h1m4 0h1m-74 1h60m1 0h2m3 0h2m1 0h1m2 0h1m-73 1h61m1 0h1m5 0h2m42 0h1m7 0h1m-121 1h58m1 0h3m2 0h1m15 0h1m-81 1h57m2 0h2m3 0h2m9 0h1m5 0h1m1 0h1m-84 1h59m1 0h1m1 0h1m2 0h1m6 0h2m7 0h1m3 0h1m11 0h1m2 0h1m4 0h1m-106 1h56m3 0h1m2 0h4m2 0h2m1 0h1m10 0h1m19 0h1m25 0h1m1 0h1m-131 1h57m2 0h4m3 0h1m12 0h1m10 0h1m-91 1h57m3 0h1m1 0h1m13 0h1m4 0h1m1 0h1m12 0h1m5 0h1m3 0h2m1 0h1m5 0h1m40 0h1m-157 1h57m2 0h2m3 0h1m3 0h1m3 0h1m1 0h1m8 0h1m2 0h1m1 0h1m5 0h1m10 0h3m9 0h2m1 0h1m1 0h1m7 0h1m-131 1h58m2 0h1m8 0h3m2 0h7m2 0h1m5 0h1m1 0h1m6 0h1m10 0h2m3 0h1m3 0h1m2 0h1m12 0h1m-135 1h58m2 0h2m1 0h1m3 0h1m2 0h1m1 0h6m1 0h12m5 0h3m2 0h1m11 0h1m2 0h1m1 0h1m4 0h1m7 0h1m-132 1h58m6 0h1m2 0h1m3 0h15m1 0h1m1 0h6m2 0h1m2 0h2m7 0h1m1 0h2m4 0h1m2 0h1m9 0h1m8 0h1m-140 1h57m1 0h1m1 0h1m6 0h1m3 0h21m2 0h1m1 0h1m5 0h1m1 0h1m2 0h1m3 0h2m1 0h3m1 0h1m6 0h1m1 0h1m13 0h1m-142 1h59m1 0h1m2 0h1m2 0h2m1 0h21m1 0h3m1 0h5m3 0h2m2 0h1m3 0h1m1 0h1m1 0h2m1 0h1m1 0h1m2 0h1m9 0h1m10 0h1m-145 1h57m1 0h1m1 0h1m1 0h1m3 0h4m1 0h19m1 0h5m1 0h1m4 0h2m1 0h1m2 0h4m3 0h1m4 0h1m1 0h1m2 0h1m1 0h2m7 0h1m8 0h1m-146 1h57m1 0h2m2 0h1m2 0h1m1 0h1m9 0h1m1 0h1m1 0h11m5 0h1m3 0h1m2 0h1m7 0h1m1 0h1m11 0h1m6 0h1m-134 1h58m4 0h1m21 0h11m2 0h1m1 0h1m1 0h1m6 0h1m1 0h1m2 0h1m3 0h1m7 0h1m3 0h1m19 0h1m-150 1h57m30 0h2m1 0h2m3 0h1m4 0h1m2 0h1m10 0h1m13 0h1m5 0h1m-135 1h55m33 0h1m25 0h1m11 0h1m-127 1h55m-55 1h54m-54 1h53m69 0h1m-123 1h53m-53 1h54m-54 1h54m-54 1h55m-55 1h34m1 0h21m-56 1h57m-57 1h57m-57 1h56m7 0h1m-64 1h36m1 0h18m6 0h1m2 0h2m-66 1h2m1 0h10m2 0h13m1 0h20m1 0h2m2 0h2m5 0h1m1 0h1m5 0h1m-67 1h1m2 0h1m1 0h1m1 0h1m4 0h1m1 0h1m2 0h1m2 0h1m2 0h1m3 0h2m1 0h1m4 0h1m1 0h1m2 0h1m3 0h1m4 0h1m8 0h1m7 0h1m-2 1h1m8 0h1m-16 1h1" stroke="#000" stroke-width="1" fill="none"/>
<path transform="translate(1784.00 140.85) scale(3.7)" d="M68 137h2m1 0h6m1 0h1m1 0h1m-21 1h2m1 0h21m-25 1h28m-32 1h33m-33 1h33m-34 1h31m1 0h1m-34 1h32m-32 1h32m-31 1h29m-29 1h29m-28 1h28m-27 1h16m9 0h3m-24 1h11m12 0h1m-23 1h3m1 0h2m1 0h3m12 0h1m-17 1h1m1 0h1" stroke="#ffff00" stroke-width="1" fill="none"/>
<path transform="translate(1784.00 140.85) scale(3.7)" d="M94 139h1m1 0h4m-11 1h1m3 0h12m-17 1h19m-22 1h1m1 0h21m-23 1h18m2 0h3m-23 1h16m1 0h1m-20 1h19m1 0h1m-21 1h23m-23 1h22m2 0h1m-24 1h17m1 0h3m1 0h1m1 0h1m-25 1h23m-22 1h20m-18 1h15m-14 1h8m1 0h1" stroke="#e800e8" stroke-width="1" fill="none"/>
<path transform="translate(1784.00 140.85) scale(3.7)" d="M107 138h1m1 2h1m-3 1h1m1 0h2m2 0h1m1 0h1m-6 1h1m1 0h1m-10 1h2m3 0h1m3 0h1m-12 1h1m1 0h10m2 0h1m1 0h1m-16 1h1m1 0h7m1 0h3m3 0h1m-13 1h5m4 0h1m1 0h1m-13 1h2m1 0h3m2 0h1m1 0h1m-15 1h1m3 0h1m1 0h1m3 0h3m-3 1h1m-6 1h1m0 1h1" stroke="#a040b0" stroke-width="1" fill="none"/>
<path transform="translate(1784.00 140.85) scale(3.7)" d="M72 148h9m-10 1h12m-12 1h12m-11 1h11m-10 1h9" stroke="#10dd10" stroke-width="1" fill="none"/>
<rect x="1784.0" y="139.0" width="629.0" height="582.0" fill="none" stroke="#000" stroke-width="3.7"/>
<path d="M1784.0 698.9h-16.0M1784.0 676.8h-16.0M1784.0 654.7h-16.0M1784.0 632.6h-16.0M1784.0 588.4h-16.0M1784.0 566.3h-16.0M1784.0 544.2h-16.0M1784.0 522.1h-16.0M1784.0 477.9h-16.0M1784.0 455.8h-16.0M1784.0 433.7h-16.0M1784.0 411.6h-16.0M1784.0 367.4h-16.0M1784.0 345.3h-16.0M1784.0 323.2h-16.0M1784.0 301.1h-16.0M1784.0 256.9h-16.0M1784.0 234.8h-16.0M1784.0 212.7h-16.0M1784.0 190.6h-16.0M1784.0 146.4h-16.0" stroke="#000" stroke-width="3.7"/>
<path d="M1784.0 610.5h-33.0M1784.0 500.0h-33.0M1784.0 389.5h-33.0M1784.0 279.0h-33.0M1784.0 168.5h-33.0" stroke="#000" stroke-width="3.7"/>
<text x="1752.0" y="610.5" font-size="34" textLength="35.0" lengthAdjust="spacingAndGlyphs" transform="rotate(-90 1752.0 610.5)" text-anchor="middle">50</text>
<text x="1752.0" y="500.0" font-size="34" textLength="53.0" lengthAdjust="spacingAndGlyphs" transform="rotate(-90 1752.0 500.0)" text-anchor="middle">100</text>
<text x="1752.0" y="389.5" font-size="34" textLength="53.0" lengthAdjust="spacingAndGlyphs" transform="rotate(-90 1752.0 389.5)" text-anchor="middle">150</text>
<text x="1752.0" y="279.0" font-size="34" textLength="53.0" lengthAdjust="spacingAndGlyphs" transform="rotate(-90 1752.0 279.0)" text-anchor="middle">200</text>
<text x="1752.0" y="168.5" font-size="34" textLength="53.0" lengthAdjust="spacingAndGlyphs" transform="rotate(-90 1752.0 168.5)" text-anchor="middle">250</text>
<text x="1707.0" y="207.0" font-size="33" textLength="127.0" lengthAdjust="spacingAndGlyphs" transform="rotate(-90 1707.0 207.0)" text-anchor="middle">(x 1,000)</text>
<text x="1711.0" y="416.0" font-size="44" textLength="127.0" lengthAdjust="spacingAndGlyphs" transform="rotate(-90 1711.0 416.0)" text-anchor="middle">SSC-A</text>
<path d="M1790.6 721.0v20.0M1810.3 721.0v20.0M1825.6 721.0v20.0M1838.1 721.0v20.0M1848.6 721.0v20.0M1857.7 721.0v20.0M1865.8 721.0v20.0M1920.4 721.0v20.0M1948.1 721.0v20.0M1967.8 721.0v20.0M1983.1 721.0v20.0M1995.6 721.0v20.0M2006.1 721.0v20.0M2015.2 721.0v20.0M2023.3 721.0v20.0M2077.9 721.0v20.0M2105.6 721.0v20.0M2125.3 721.0v20.0M2140.6 721.0v20.0M2153.1 721.0v20.0M2163.6 721.0v20.0M2172.7 721.0v20.0M2180.8 721.0v20.0M2235.4 721.0v20.0M2263.1 721.0v20.0M2282.8 721.0v20.0M2298.1 721.0v20.0M2310.6 721.0v20.0M2321.1 721.0v20.0M2330.2 721.0v20.0M2338.3 721.0v20.0M2392.9 721.0v20.0" stroke="#000" stroke-width="3.7"/>
<path d="M1873.0 721.0v35.0M2030.5 721.0v35.0M2188.0 721.0v35.0M2345.5 721.0v35.0" stroke="#000" stroke-width="3.7"/>
<text x="1849.0" y="789.0" font-size="34" textLength="30.0" lengthAdjust="spacingAndGlyphs">10</text>
<text x="1883.0" y="771.0" font-size="30" textLength="15.0" lengthAdjust="spacingAndGlyphs">2</text>
<text x="2006.5" y="789.0" font-size="34" textLength="30.0" lengthAdjust="spacingAndGlyphs">10</text>
<text x="2040.5" y="771.0" font-size="30" textLength="15.0" lengthAdjust="spacingAndGlyphs">3</text>
<text x="2164.0" y="789.0" font-size="34" textLength="30.0" lengthAdjust="spacingAndGlyphs">10</text>
<text x="2198.0" y="771.0" font-size="30" textLength="15.0" lengthAdjust="spacingAndGlyphs">4</text>
<text x="2321.5" y="789.0" font-size="34" textLength="30.0" lengthAdjust="spacingAndGlyphs">10</text>
<text x="2355.5" y="771.0" font-size="30" textLength="15.0" lengthAdjust="spacingAndGlyphs">5</text>
<path d="M1984.0 142.2h33.3M2021.0 142.2h11.1M2039.5 142.2h44.4M2087.6 142.2h77.7M2169.0 142.2h11.1M2183.8 142.2h3.7M2191.2 142.2h70.3M2268.9 142.2h29.6M2302.2 142.2h18.5M2328.1 142.2h3.7M2335.5 142.2h74.0" stroke="#000" stroke-width="3.5"/>
<text x="1967.0" y="825.0" font-size="43" textLength="258.0" lengthAdjust="spacingAndGlyphs">CD19 FITC-A</text>
<polygon points="1985.0,650.0 2104.0,601.0 2248.0,645.0 2214.0,710.0 2108.0,715.0 2040.0,713.0 1996.0,705.0" fill="none" stroke="#000" stroke-width="3.2" stroke-linejoin="miter"/>
<text x="2239.0" y="610.0" font-size="40" textLength="123.0" lengthAdjust="spacingAndGlyphs">CD19+</text>
<rect x="410" y="1245" width="110" height="115" fill="#fef3f3" opacity="1" filter="url(#b8)"/>
<path transform="translate(180.00 973.85) scale(3.7)" d="M82 22h1m6 1h1m26 7h1m-22 1h2m3 0h1m1 0h3m-9 1h1m6 0h2m2 0h2m-11 1h1m1 0h1m1 0h1m3 0h4m-20 1h1m1 0h1m4 0h3m1 0h1m3 0h2m1 0h2m3 0h1m-26 1h1m8 0h2m2 0h2m1 0h1m3 0h1m2 0h1m-26 1h1m4 0h5m2 0h11m-26 1h1m2 0h1m3 0h1m3 0h1m2 0h10m1 0h4m-24 1h2m1 0h17m1 0h1m4 0h1m-27 1h21m1 0h1m-21 1h1m1 0h22m2 0h1m-36 1h1m3 0h27m1 0h1m1 0h1m-28 1h1m1 0h3m1 0h18m2 0h1m-39 1h1m8 0h2m1 0h27m1 0h1m-55 1h1m8 0h1m9 0h1m2 0h2m2 0h21m1 0h1m1 0h1m-31 1h2m2 0h20m1 0h1m1 0h1m1 0h2m-59 1h1m29 0h2m1 0h3m1 0h21m-28 1h1m2 0h5m1 0h12m1 0h1m1 0h3m3 0h1m-46 1h1m2 0h1m9 0h2m1 0h4m1 0h13m1 0h2m4 0h1m-93 1h1m10 0h1m35 0h1m16 0h1m2 0h1m1 0h19m1 0h2m-75 1h1m33 0h1m2 0h1m7 0h1m2 0h1m1 0h2m3 0h7m1 0h2m1 0h4m3 0h1m8 0h1m-45 1h1m9 0h1m2 0h3m1 0h7m1 0h8m1 0h1m-106 1h1m34 0h1m8 0h1m18 0h1m6 0h1m1 0h1m10 0h3m2 0h8m1 0h5m1 0h2m2 0h1m-86 1h1m12 0h1m2 0h2m29 0h1m13 0h4m3 0h1m1 0h2m2 0h1m2 0h3m4 0h3m-93 1h1m1 0h1m8 0h1m4 0h4m10 0h1m2 0h1m24 0h1m9 0h1m3 0h1m1 0h1m1 0h1m1 0h4m13 0h1m-91 1h1m2 0h1m5 0h2m4 0h1m1 0h2m7 0h2m1 0h1m19 0h1m1 0h1m1 0h2m2 0h1m5 0h1m3 0h1m2 0h2m3 0h1m1 0h1m1 0h1m-102 1h2m21 0h1m6 0h2m4 0h1m2 0h1m2 0h1m2 0h1m15 0h1m4 0h1m10 0h1m5 0h1m1 0h3m4 0h1m1 0h1m-94 1h1m17 0h1m3 0h1m2 0h2m5 0h1m1 0h2m3 0h2m2 0h2m24 0h1m5 0h1m1 0h1m11 0h1m2 0h2m5 0h1m-93 1h1m4 0h1m2 0h1m4 0h1m3 0h1m2 0h2m1 0h1m1 0h1m2 0h3m11 0h1m3 0h1m17 0h1m8 0h1m8 0h1m9 0h1m9 0h1m-95 1h1m2 0h1m6 0h2m1 0h2m4 0h1m1 0h3m1 0h3m1 0h3m2 0h1m1 0h1m28 0h1m1 0h1m3 0h1m1 0h1m2 0h1m-81 1h3m1 0h2m1 0h2m1 0h1m2 0h2m2 0h2m2 0h2m2 0h1m2 0h2m4 0h1m3 0h2m29 0h1m2 0h1m15 0h1m-87 1h5m2 0h1m2 0h2m2 0h2m1 0h5m1 0h1m3 0h1m1 0h1m2 0h1m2 0h2m5 0h2m15 0h1m6 0h3m7 0h1m1 0h1m-93 1h1m16 0h1m3 0h5m2 0h1m5 0h1m1 0h1m1 0h1m1 0h1m3 0h4m25 0h1m2 0h1m8 0h1m4 0h1m5 0h3m-99 1h2m7 0h3m1 0h1m1 0h2m1 0h1m1 0h1m3 0h1m2 0h1m2 0h2m1 0h1m8 0h3m1 0h1m1 0h1m1 0h1m1 0h3m5 0h1m6 0h1m4 0h1m10 0h1m10 0h2m-85 1h1m2 0h1m2 0h1m3 0h1m1 0h1m3 0h1m1 0h4m2 0h1m1 0h1m1 0h3m8 0h1m3 0h1m10 0h1m12 0h1m-73 1h2m2 0h1m1 0h4m2 0h2m1 0h6m2 0h2m4 0h2m1 0h1m1 0h1m2 0h1m1 0h2m4 0h2m1 0h1m6 0h1m9 0h1m1 0h2m2 0h1m11 0h1m-90 1h2m10 0h1m2 0h2m5 0h2m2 0h3m4 0h1m1 0h1m1 0h1m1 0h4m8 0h1m1 0h3m13 0h1m5 0h1m5 0h1m21 0h1m-97 1h1m3 0h1m1 0h1m7 0h1m1 0h1m2 0h1m1 0h2m1 0h1m5 0h4m4 0h1m3 0h3m4 0h2m5 0h1m5 0h1m6 0h1m-77 1h2m5 0h2m9 0h2m1 0h1m1 0h6m1 0h1m4 0h2m2 0h1m3 0h3m2 0h1m3 0h2m12 0h1m7 0h2m13 0h1m1 0h1m10 0h1m9 0h1m-113 1h1m3 0h4m4 0h2m1 0h1m1 0h3m1 0h1m2 0h7m3 0h2m3 0h1m1 0h8m4 0h1m1 0h1m20 0h1m-77 1h1m7 0h1m1 0h1m2 0h1m3 0h2m1 0h4m1 0h2m4 0h1m1 0h1m2 0h3m1 0h12m2 0h1m1 0h2m1 0h1m7 0h1m7 0h1m3 0h1m11 0h1m-92 1h2m2 0h3m1 0h1m3 0h1m2 0h1m2 0h2m6 0h1m2 0h1m1 0h1m2 0h3m1 0h2m1 0h2m1 0h1m1 0h3m2 0h3m2 0h3m5 0h1m1 0h2m9 0h1m-78 1h2m1 0h1m1 0h1m1 0h1m1 0h1m1 0h3m2 0h1m3 0h1m3 0h1m1 0h3m1 0h1m4 0h3m1 0h1m1 0h1m1 0h1m1 0h1m1 0h1m1 0h1m3 0h4m7 0h1m4 0h1m4 0h1m-72 1h2m7 0h1m1 0h1m3 0h1m8 0h1m7 0h1m1 0h1m2 0h2m2 0h3m1 0h2m1 0h2m2 0h1m3 0h1m15 0h2m2 0h1m2 0h1m5 0h1m-89 1h2m3 0h3m4 0h2m1 0h3m1 0h4m1 0h2m2 0h1m1 0h2m1 0h1m3 0h3m1 0h5m1 0h3m1 0h1m1 0h3m2 0h1m1 0h3m5 0h2m1 0h1m1 0h1m8 0h1m-83 1h2m7 0h2m3 0h1m1 0h1m2 0h5m5 0h1m1 0h7m3 0h1m1 0h6m2 0h2m1 0h2m4 0h1m3 0h1m4 0h3m1 0h1m1 0h1m5 0h1m14 0h1m9 0h1m-106 1h1m1 0h1m6 0h3m5 0h2m1 0h1m2 0h5m1 0h8m2 0h2m1 0h2m3 0h2m3 0h5m1 0h2m13 0h1m5 0h2m18 0h1m-101 1h2m2 0h1m2 0h1m1 0h3m1 0h1m2 0h2m1 0h1m4 0h1m1 0h4m1 0h1m1 0h1m1 0h1m2 0h1m1 0h5m1 0h1m1 0h3m1 0h2m2 0h1m1 0h2m1 0h2m2 0h3m1 0h1m2 0h1m14 0h1m-87 1h1m5 0h2m3 0h1m1 0h1m8 0h3m1 0h1m1 0h3m2 0h2m1 0h2m1 0h2m2 0h8m2 0h2m4 0h2m2 0h1m13 0h1m4 0h1m9 0h1m-94 1h2m2 0h1m4 0h1m1 0h2m3 0h7m1 0h1m1 0h2m1 0h1m1 0h4m1 0h1m1 0h2m2 0h2m3 0h1m2 0h1m1 0h1m3 0h2m1 0h1m3 0h1m5 0h1m1 0h1m3 0h1m3 0h1m4 0h1m-85 1h2m5 0h1m1 0h2m1 0h1m3 0h5m2 0h2m2 0h2m1 0h2m1 0h1m1 0h3m2 0h1m1 0h5m1 0h1m1 0h2m1 0h2m3 0h1m2 0h2m5 0h1m-69 1h1m3 0h1m1 0h2m3 0h1m2 0h1m1 0h3m2 0h1m1 0h1m1 0h2m1 0h1m1 0h5m1 0h5m2 0h3m1 0h4m1 0h1m3 0h1m1 0h2m2 0h1m5 0h1m1 0h1m2 0h1m17 0h1m-92 1h2m1 0h2m3 0h1m1 0h1m2 0h1m1 0h1m1 0h1m1 0h1m3 0h1m1 0h10m1 0h4m1 0h1m1 0h1m1 0h1m1 0h1m3 0h1m3 0h1m1 0h4m1 0h1m18 0h2m-83 1h2m2 0h3m2 0h1m2 0h1m1 0h3m1 0h1m1 0h1m1 0h5m1 0h2m2 0h7m2 0h5m1 0h1m1 0h2m1 0h2m1 0h1m1 0h1m2 0h1m1 0h1m3 0h1m9 0h1m8 0h1m16 0h1m-101 1h1m3 0h1m2 0h2m1 0h2m2 0h1m2 0h1m3 0h1m1 0h1m1 0h4m1 0h4m2 0h6m1 0h3m1 0h3m3 0h3m1 0h1m4 0h1m6 0h1m7 0h1m9 0h1m14 0h1m-105 1h2m5 0h3m1 0h1m1 0h1m1 0h2m1 0h3m1 0h2m1 0h2m1 0h1m1 0h3m5 0h1m1 0h6m3 0h2m1 0h2m1 0h1m3 0h1m4 0h1m9 0h1m3 0h1m4 0h1m-84 1h2m2 0h3m5 0h1m2 0h1m1 0h8m1 0h3m1 0h11m1 0h2m3 0h1m1 0h2m1 0h3m2 0h1m2 0h1m6 0h1m3 0h1m12 0h1m-85 1h2m3 0h1m2 0h1m1 0h1m1 0h1m1 0h1m1 0h2m4 0h3m1 0h1m1 0h2m1 0h1m2 0h2m1 0h2m2 0h4m2 0h1m1 0h2m2 0h3m3 0h1m5 0h1m3 0h1m4 0h1m2 0h1m-77 1h1m4 0h2m1 0h3m2 0h4m1 0h1m1 0h2m4 0h1m1 0h1m2 0h9m1 0h2m1 0h2m1 0h3m1 0h1m3 0h1m14 0h1m3 0h1m10 0h1m-85 1h1m2 0h2m1 0h1m1 0h2m1 0h2m3 0h8m1 0h14m1 0h7m5 0h1m21 0h1m2 0h2m-80 1h3m1 0h4m1 0h1m1 0h4m5 0h1m2 0h3m1 0h4m2 0h6m1 0h1m2 0h1m2 0h3m2 0h2m3 0h2m8 0h1m3 0h1m7 0h1m-80 1h2m4 0h5m3 0h1m1 0h1m4 0h1m2 0h11m1 0h2m1 0h1m2 0h2m2 0h2m2 0h1m3 0h2m6 0h1m6 0h1m5 0h1m-75 1h2m3 0h1m2 0h1m2 0h1m1 0h1m1 0h1m1 0h1m1 0h1m2 0h1m3 0h1m1 0h3m1 0h6m1 0h2m3 0h1m1 0h2m1 0h1m2 0h2m1 0h1m7 0h1m1 0h1m1 0h1m5 0h1m5 0h1m-80 1h1m10 0h1m3 0h1m1 0h2m2 0h1m1 0h5m1 0h2m1 0h12m1 0h2m1 0h3m1 0h4m16 0h1m-73 1h1m6 0h1m1 0h2m4 0h1m5 0h3m1 0h1m1 0h4m1 0h5m2 0h1m2 0h1m1 0h3m1 0h2m1 0h1m1 0h1m24 0h1m-80 1h2m9 0h2m1 0h1m1 0h2m4 0h1m1 0h2m1 0h2m1 0h12m3 0h1m2 0h2m1 0h1m3 0h4m7 0h1m7 0h1m-75 1h2m8 0h1m1 0h1m4 0h2m1 0h1m2 0h2m1 0h10m1 0h4m4 0h1m1 0h4m5 0h1m1 0h1m16 0h1m-76 1h1m8 0h4m1 0h1m1 0h1m2 0h1m2 0h4m1 0h1m1 0h11m1 0h1m1 0h2m5 0h1m2 0h1m2 0h1m7 0h1m9 0h1m-75 1h1m12 0h2m1 0h2m1 0h1m4 0h2m5 0h7m1 0h2m1 0h1m1 0h3m3 0h1m2 0h1m1 0h1m4 0h1m9 0h1m-70 1h1m10 0h2m2 0h1m1 0h1m2 0h5m2 0h4m1 0h1m1 0h8m1 0h2m5 0h1m2 0h1m10 0h1m6 0h1m1 0h1m-74 1h1m19 0h5m4 0h7m1 0h3m1 0h2m1 0h3m4 0h1m15 0h1m2 0h1m15 0h1m-87 1h1m5 0h1m1 0h1m2 0h1m2 0h3m1 0h1m2 0h1m2 0h1m1 0h9m1 0h3m2 0h1m1 0h3m3 0h1m30 0h1m-82 1h2m5 0h1m11 0h1m1 0h1m5 0h1m2 0h1m1 0h16m1 0h1m4 0h1m1 0h1m-57 1h2m16 0h1m1 0h3m2 0h3m1 0h3m2 0h1m1 0h5m1 0h2m3 0h2m4 0h1m3 0h1m10 0h1m-69 1h2m9 0h1m1 0h1m1 0h2m1 0h1m3 0h1m1 0h1m1 0h1m2 0h5m1 0h3m1 0h2m2 0h1m1 0h2m1 0h1m6 0h1m5 0h1m2 0h1m8 0h1m-72 1h1m1 0h1m1 0h1m3 0h1m1 0h1m1 0h7m1 0h1m1 0h2m1 0h1m1 0h10m2 0h1m1 0h3m1 0h3m1 0h4m1 0h4m21 0h1" stroke="#000" stroke-width="1" fill="none"/>
<path transform="translate(180.00 973.85) scale(3.7)" d="M80 72h1m-17 1h1m12 0h1m5 2h1m4 0h1m-22 1h2m16 0h1m-15 1h1m7 0h1m6 0h1m3 0h1m-28 1h1m8 0h1m2 0h1m9 0h1m-13 1h1m-7 1h1m3 0h1m8 0h1m-9 1h1m4 0h1m5 0h1m2 0h1m-19 2h1m3 0h1m13 0h1m-12 1h1m1 0h1m-13 1h1m5 0h1m5 0h1m10 0h1m-27 1h1m3 0h1m1 0h1m3 0h2m1 0h1m3 0h1m-14 1h1m4 0h1m4 0h1m1 0h2m5 0h1m-22 1h1m3 0h1m1 0h1m5 0h3m2 0h1m1 0h1m-11 1h2m3 0h1m5 0h1m-15 1h1m4 0h1m1 0h2m-15 1h1m11 0h1m2 0h1m4 0h1m-14 1h2m5 0h1m3 0h1m6 0h1m-27 1h1m2 0h1m1 0h3m3 0h3m8 0h1m-17 1h1m4 0h1m9 0h1m-15 1h1m6 0h1m-14 1h1m16 0h1m6 0h1m-13 1h1m1 0h1m0 1h2m-14 1h1m1 0h1m5 0h1m-9 1h1m1 0h2m17 0h1m-11 1h2m-12 1h2m3 0h1m6 0h1m3 0h1m-18 3h1m5 0h2" stroke="#cc1414" stroke-width="1" fill="none"/>
<rect x="180.0" y="972.0" width="491.0" height="394.0" fill="none" stroke="#000" stroke-width="3.7"/>
<path d="M180.0 1012.2h-16.0M180.0 1017.0h-16.0M180.0 1022.3h-16.0M180.0 1028.5h-16.0M180.0 1035.8h-16.0M180.0 1044.8h-16.0M180.0 1056.4h-16.0M180.0 1072.7h-16.0M180.0 1170.0h-16.0M180.0 1152.5h-16.0M180.0 1140.1h-16.0M180.0 1130.5h-16.0M180.0 1122.6h-16.0M180.0 1115.9h-16.0M180.0 1110.1h-16.0M180.0 1105.1h-16.0M180.0 1202.0h-16.0M180.0 1204.0h-16.0M180.0 1210.0h-16.0M180.0 1212.0h-16.0M180.0 1214.0h-16.0M180.0 1218.0h-16.0M180.0 1222.0h-16.0M180.0 1233.6h-16.0M180.0 1240.0h-16.0M180.0 1251.0h-16.0M180.0 1263.0h-16.0M180.0 1310.0h-16.0M180.0 1321.5h-16.0M180.0 1332.0h-16.0M180.0 1339.0h-16.0M180.0 1352.0h-16.0M180.0 1354.0h-16.0M180.0 1356.0h-16.0M180.0 1361.0h-16.0" stroke="#000" stroke-width="3.7"/>
<path d="M180.0 1008.0h-31.0M180.0 1100.5h-31.0M180.0 1200.0h-31.0M180.0 1274.0h-31.0M180.0 1284.0h-31.0M180.0 1287.0h-31.0M180.0 1290.0h-31.0M180.0 1300.0h-31.0" stroke="#000" stroke-width="3.7"/>
<line x1="149.0" y1="1366.0" x2="672.9" y2="1366.0" stroke="#000" stroke-width="3.7"/>
<path d="M185.7 1366.0v19.5M201.1 1366.0v19.5M213.0 1366.0v19.5M222.7 1366.0v19.5M230.9 1366.0v19.5M238.1 1366.0v19.5M244.4 1366.0v19.5M286.5 1366.0v19.5M287.0 1366.0v19.5M308.2 1366.0v19.5M308.7 1366.0v19.5M323.6 1366.0v19.5M324.1 1366.0v19.5M335.5 1366.0v19.5M336.0 1366.0v19.5M345.2 1366.0v19.5M345.7 1366.0v19.5M353.4 1366.0v19.5M353.9 1366.0v19.5M360.6 1366.0v19.5M361.1 1366.0v19.5M366.9 1366.0v19.5M367.4 1366.0v19.5M409.0 1366.0v19.5M409.5 1366.0v19.5M430.7 1366.0v19.5M431.2 1366.0v19.5M446.1 1366.0v19.5M446.6 1366.0v19.5M458.0 1366.0v19.5M458.5 1366.0v19.5M467.7 1366.0v19.5M468.2 1366.0v19.5M475.9 1366.0v19.5M476.4 1366.0v19.5M483.1 1366.0v19.5M483.6 1366.0v19.5M489.4 1366.0v19.5M489.9 1366.0v19.5M532.0 1366.0v19.5M533.0 1366.0v19.5M553.7 1366.0v19.5M554.7 1366.0v19.5M569.1 1366.0v19.5M570.1 1366.0v19.5M581.0 1366.0v19.5M582.0 1366.0v19.5M590.7 1366.0v19.5M591.7 1366.0v19.5M598.9 1366.0v19.5M599.9 1366.0v19.5M606.1 1366.0v19.5M607.1 1366.0v19.5M612.4 1366.0v19.5M613.4 1366.0v19.5M656.0 1366.0v19.5" stroke="#000" stroke-width="3.7"/>
<path d="M250.0 1366.0v34.5M372.5 1366.0v34.5M495.0 1366.0v34.5M619.0 1366.0v34.5" stroke="#000" stroke-width="3.7"/>
<text x="263.0" y="1470.0" font-size="44" textLength="320.0" lengthAdjust="spacingAndGlyphs">CD38 APC-H7-A</text>
<rect x="661.0" y="1002.0" width="3.7" height="3.7" fill="#000"/>
<text x="94.0" y="1153.5" font-size="45" textLength="419.0" lengthAdjust="spacingAndGlyphs" transform="rotate(-90 94.0 1153.5)" text-anchor="middle">CD27 PerCP-Cy5-5-A</text>
<rect x="405.0" y="1237.0" width="163.0" height="128.0" fill="none" stroke="#000" stroke-width="3.4"/>
<text x="607.0" y="1305.0" font-size="38" textLength="36.0" lengthAdjust="spacingAndGlyphs">T1</text>
<path transform="translate(888.00 972.85) scale(3.7)" d="M42 0h1m-1 1h1m0 2h1m-3 3h1m4 1h1m1 0h1m2 0h1m-11 1h1m2 0h1m5 0h1m-8 1h2m-7 1h1m4 0h1m3 0h1m2 0h1m-16 1h1m2 1h1m5 0h1m2 0h1m-15 1h1m16 0h1m-35 1h1m8 0h2m9 0h1m5 0h1m1 0h1m4 0h1m-28 1h1m3 0h1m2 0h2m8 0h1m3 0h1m2 0h1m3 0h2m-32 1h4m3 0h2m3 0h1m1 0h1m1 0h1m11 0h1m1 0h1m4 0h1m3 0h1m-41 1h1m1 0h1m4 0h1m1 0h4m1 0h3m3 0h1m5 0h1m1 0h1m2 0h1m1 0h1m-38 1h1m1 0h3m1 0h2m1 0h6m1 0h1m3 0h2m1 0h1m2 0h1m2 0h1m2 0h3m17 0h1m-52 1h1m2 0h1m1 0h19m4 0h1m2 0h2m7 0h1m-43 1h1m2 0h2m1 0h3m1 0h5m1 0h8m2 0h1m1 0h1m1 0h1m1 0h1m1 0h1m1 0h1m1 0h1m5 0h2m-45 1h15m1 0h3m1 0h3m1 0h3m4 0h1m2 0h1m1 0h1m1 0h4m-43 1h17m2 0h9m1 0h1m1 0h1m12 0h1m3 0h1m-50 1h1m1 0h13m1 0h11m1 0h4m3 0h1m10 0h1m-48 1h2m1 0h2m1 0h2m1 0h7m1 0h3m1 0h8m1 0h3m2 0h1m6 0h1m3 0h1m-53 1h1m5 0h5m1 0h2m1 0h4m2 0h1m1 0h9m1 0h3m1 0h2m2 0h1m1 0h1m3 0h3m1 0h1m-49 1h2m1 0h11m1 0h11m1 0h4m1 0h2m2 0h2m1 0h1m1 0h1m2 0h2m1 0h1m-48 1h2m1 0h7m1 0h15m1 0h5m1 0h1m1 0h1m3 0h1m2 0h3m1 0h1m-45 1h2m1 0h12m1 0h8m1 0h2m1 0h2m3 0h3m1 0h3m1 0h1m-41 1h9m1 0h10m1 0h5m1 0h2m2 0h2m1 0h1m2 0h3m2 0h1m1 0h1m-45 1h22m2 0h4m2 0h1m1 0h1m1 0h1m1 0h1m1 0h1m2 0h1m5 0h1m1 0h1m-55 1h2m2 0h18m1 0h1m1 0h4m1 0h1m1 0h1m3 0h1m4 0h2m1 0h1m2 0h2m-47 1h1m2 0h9m1 0h14m1 0h1m1 0h2m1 0h1m5 0h1m4 0h2m1 0h1m-46 1h4m1 0h8m1 0h1m1 0h1m2 0h6m1 0h4m2 0h6m2 0h2m-44 1h1m1 0h1m1 0h2m1 0h3m1 0h6m1 0h3m1 0h1m1 0h4m1 0h1m2 0h3m2 0h1m1 0h1m12 0h1m-51 1h12m1 0h3m1 0h4m1 0h2m1 0h4m1 0h1m2 0h1m5 0h1m10 0h1m-49 1h10m2 0h6m2 0h1m1 0h5m2 0h2m2 0h1m1 0h1m13 0h1m-53 1h7m2 0h3m1 0h11m1 0h5m1 0h4m1 0h2m1 0h1m2 0h2m4 0h1m-46 1h1m1 0h19m3 0h6m2 0h1m1 0h1m1 0h1m2 0h1m1 0h1m9 0h1m-51 1h1m1 0h4m1 0h8m1 0h4m2 0h1m2 0h2m1 0h1m2 0h1m2 0h2m5 0h1m1 0h1m5 0h1m-53 1h1m4 0h4m1 0h8m1 0h3m1 0h1m1 0h1m2 0h1m1 0h1m3 0h1m1 0h1m1 0h1m2 0h1m-40 1h1m2 0h4m1 0h3m1 0h1m1 0h2m4 0h1m2 0h1m3 0h1m3 0h1m1 0h1m4 0h1m1 0h1m1 0h1m5 0h1m-50 1h1m3 0h1m1 0h1m1 0h1m1 0h2m1 0h1m1 0h8m2 0h3m1 0h1m1 0h4m5 0h2m1 0h1m5 0h1m-46 1h1m4 0h3m2 0h5m2 0h2m1 0h2m1 0h6m2 0h1m3 0h1m1 0h1m4 0h1m-50 1h1m9 0h9m2 0h6m8 0h1m1 0h1m8 0h1m-43 1h1m6 0h2m2 0h1m1 0h2m1 0h3m2 0h1m5 0h2m2 0h1m3 0h1m8 0h1m-48 1h1m3 0h1m1 0h1m3 0h1m1 0h1m1 0h2m1 0h3m3 0h3m8 0h1m1 0h2m2 0h3m2 0h1m-41 1h1m1 0h1m1 0h1m1 0h1m2 0h1m2 0h2m1 0h1m2 0h4m3 0h3m3 0h1m1 0h1m1 0h1m-35 1h1m4 0h3m1 0h3m2 0h1m2 0h1m1 0h1m2 0h1m4 0h1m5 0h1m-37 1h1m6 0h1m6 0h2m6 0h1m1 0h1m7 0h1m6 0h1m3 0h1m-47 1h1m10 0h1m1 0h1m5 0h1m1 0h1m3 0h1m4 0h1m1 0h1m7 0h4m-41 1h1m2 0h2m2 0h1m2 0h1m2 0h1m1 0h1m1 0h3m1 0h1m6 0h1m2 0h1m11 0h1m-44 1h1m1 0h1m4 0h1m5 0h1m1 0h2m1 0h2m1 0h3m3 0h2m1 0h2m1 0h1m2 0h1m1 0h2m7 0h1m-49 1h1m2 0h1m1 0h2m2 0h1m1 0h1m2 0h2m1 0h2m2 0h1m3 0h2m2 0h1m8 0h1m-44 1h1m8 0h3m6 0h1m1 0h3m1 0h1m5 0h1m2 0h1m17 0h1m-45 1h1m8 0h1m2 0h2m2 0h1m4 0h1m2 0h1m4 0h1m2 0h1m-37 1h1m5 0h1m1 0h1m5 0h7m5 0h1m2 0h1m-27 1h2m3 0h1m8 0h3m3 0h1m3 0h1m5 0h3m10 0h1m-42 1h1m2 0h2m6 0h1m15 0h1m1 0h1m1 0h1m1 0h1m-32 1h1m4 0h1m8 0h1m3 0h1m1 0h1m8 0h1m8 0h1m-30 1h1m12 0h2m3 0h1m3 0h1m-21 1h1m3 0h1m2 0h1m4 0h1m1 0h1m10 0h1m-30 2h1m9 0h1m-6 1h1m2 0h2m-33 1h1m4 0h1m16 0h4m1 0h1m2 0h4m1 0h1m3 0h1m2 0h2m18 0h1m-45 1h2m3 0h1m1 0h2m1 0h2m2 0h2m4 0h2m-25 1h1m1 0h1m1 0h1m2 0h2m1 0h4m2 0h1m1 0h5m3 0h1m1 0h1m-24 1h1m1 0h1m1 0h9m2 0h4m1 0h1m1 0h1m-29 1h2m2 0h1m1 0h8m1 0h2m2 0h4m2 0h5m5 0h1m-36 1h1m1 0h13m1 0h3m1 0h4m1 0h1m1 0h3m1 0h1m-37 1h1m2 0h1m1 0h6m1 0h5m1 0h1m1 0h2m1 0h5m2 0h2m1 0h2m1 0h2m-34 1h5m1 0h4m2 0h4m1 0h7m1 0h1m1 0h4m1 0h2m1 0h2m-50 1h1m13 0h1m2 0h3m1 0h10m1 0h13m1 0h3m1 0h1m-41 1h4m1 0h5m1 0h10m3 0h1m1 0h3m1 0h8m1 0h2m2 0h1m-46 1h1m1 0h2m1 0h2m2 0h1m1 0h5m1 0h5m2 0h1m1 0h1m1 0h2m1 0h2m1 0h2m2 0h6m-45 1h1m1 0h1m2 0h1m1 0h8m1 0h6m1 0h3m1 0h4m1 0h3m1 0h5m3 0h1m4 0h1m-50 1h1m3 0h1m1 0h3m2 0h6m1 0h2m1 0h10m1 0h2m1 0h11m7 0h1m2 0h1m1 0h1m-58 1h3m1 0h3m2 0h3m1 0h2m1 0h3m1 0h1m1 0h1m1 0h5m1 0h3m1 0h4m1 0h1m1 0h5m-45 1h5m1 0h5m1 0h2m1 0h4m1 0h10m1 0h2m1 0h7m1 0h1m-45 1h1m2 0h3m2 0h4m1 0h6m1 0h2m1 0h22m2 0h1m8 0h1m-63 1h1m10 0h8m1 0h1m1 0h1m1 0h2m1 0h4m1 0h9m2 0h5m1 0h4m-46 1h8m1 0h12m1 0h9m1 0h8m1 0h4m1 0h1m-49 1h1m2 0h3m1 0h1m1 0h3m1 0h6m4 0h11m1 0h9m1 0h1m2 0h1m-48 1h1m1 0h1m1 0h2m1 0h1m1 0h8m1 0h18m1 0h2m1 0h5m10 0h1m-64 1h1m7 0h2m1 0h3m1 0h5m1 0h1m2 0h7m2 0h1m1 0h1m1 0h6m1 0h6m1 0h2m18 0h1m-65 1h5m2 0h8m1 0h3m1 0h3m1 0h5m1 0h1m1 0h4m2 0h6m1 0h2m22 0h1m-63 1h6m1 0h5m1 0h5m1 0h4m1 0h1m1 0h3m2 0h1m1 0h5m1 0h1m-48 1h1m4 0h3m1 0h1m1 0h2m1 0h1m1 0h5m1 0h2m1 0h6m1 0h1m1 0h2m2 0h4m1 0h2m1 0h1m4 0h1m-52 1h2m1 0h2m2 0h1m1 0h1m1 0h13m2 0h5m1 0h8m1 0h5m-40 1h1m1 0h1m1 0h3m2 0h4m1 0h3m1 0h6m1 0h8m2 0h2m1 0h1m1 0h1m-41 1h1m1 0h1m3 0h1m1 0h2m2 0h2m3 0h3m3 0h3m2 0h4m1 0h2m1 0h1m4 0h2m6 0h1m19 0h1m-73 1h1m2 0h1m3 0h14m1 0h4m1 0h1m2 0h4m1 0h1m1 0h5m-44 1h1m6 0h1m2 0h1m1 0h1m1 0h3m1 0h1m1 0h3m1 0h1m2 0h2m1 0h2m3 0h1m1 0h2m1 0h2m-28 1h3m3 0h1m1 0h2m1 0h1m1 0h5m5 0h1m-26 1h2m1 0h1m1 0h3m1 0h4m1 0h1m1 0h3m1 0h3m1 0h2m1 0h1m-37 1h1m14 0h1m1 0h1m2 0h3m1 0h1m1 0h1m2 0h3m4 0h3m4 0h1m-35 1h1m5 0h2m3 0h1m4 0h2m29 0h1m-45 1h1m5 0h3m1 0h1m1 0h3m32 0h1m-33 1h1m13 0h1m15 0h1m-29 1h1m-27 2h1m10 0h1m16 0h3m-15 4h1" stroke="#000" stroke-width="1" fill="none"/>
<path transform="translate(888.00 972.85) scale(3.7)" d="M51 13h1m-12 1h1m8 1h1m2 0h1m-8 1h1m7 3h1m4 0h1m-30 1h1m0 1h1m7 0h1m3 0h1m2 0h1m1 1h1m1 0h1m6 0h1m-10 1h1m2 0h1m-23 1h1m12 0h1m3 0h2m1 0h1m6 0h1m8 1h1m-30 1h1m4 0h1m6 0h1m9 0h1m-23 1h1m5 0h1m1 0h1m1 0h2m-9 1h1m3 0h2m7 0h1m-20 1h1m5 0h1m3 0h1m2 0h1m6 0h2m1 0h1m3 0h1m2 0h1m-23 1h2m7 0h1m4 0h1m-26 1h1m1 0h1m4 0h1m1 0h1m2 0h2m3 0h2m14 0h1m-27 1h1m1 0h1m2 0h1m1 0h3m3 0h3m-24 1h1m7 0h1m4 0h1m-12 1h1m1 0h1m4 0h1m1 0h2m4 0h1m3 0h1m4 0h1m1 0h1m10 0h1m-33 1h1m4 0h1m1 0h2m1 0h5m1 0h1m2 0h2m-25 1h2m1 0h1m5 0h1m4 0h1m3 0h1m1 0h2m1 0h1m-21 1h1m5 0h1m7 0h1m1 0h1m5 0h1m-22 1h2m6 0h2m3 0h1m1 0h1m6 0h1m-24 1h1m2 0h1m13 0h1m2 0h1m1 0h1m-28 1h1m3 0h1m1 0h1m1 0h1m4 0h1m1 0h1m3 0h1m1 0h1m4 0h1m-25 1h1m2 0h1m2 0h1m1 0h1m9 0h2m-15 1h1m3 0h1m6 0h2m-14 1h1m2 0h1m11 0h1m1 0h1m2 0h1m-19 1h2m1 0h1m1 0h2m1 0h1m3 0h1m2 0h1m1 0h1m1 0h1m-22 1h1m6 0h1m7 0h1m1 0h1m6 0h1m-19 1h1m1 0h1m1 0h1m3 0h1m-13 1h2m6 0h1m1 0h1m1 0h1m4 0h2m-25 1h1m8 0h1m3 0h1m1 0h3m-19 1h1m11 0h1m3 0h1m3 0h1m-19 1h1m12 0h1m1 0h1m-19 1h1m6 0h1m2 0h1m-10 1h1m19 0h1m3 0h1m-27 1h1m3 0h1m-1 1h1m2 0h1m7 0h1m0 1h1m11 0h1m-20 1h1m-4 1h1m3 0h1m9 0h1m2 0h1m-7 1h1m1 0h1m-8 1h1m-5 1h1m4 1h1m4 0h1m2 0h1" stroke="#cc1414" stroke-width="1" fill="none"/>
<rect x="888.0" y="971.0" width="490.0" height="395.0" fill="none" stroke="#000" stroke-width="3.7"/>
<path d="M888.0 1070.8h-17.0M888.0 1055.1h-17.0M888.0 1044.0h-17.0M888.0 1035.4h-17.0M888.0 1028.3h-17.0M888.0 1022.4h-17.0M888.0 1017.2h-17.0M888.0 1012.7h-17.0M888.0 1161.7h-17.0M888.0 1145.5h-17.0M888.0 1134.1h-17.0M888.0 1125.2h-17.0M888.0 1117.9h-17.0M888.0 1111.8h-17.0M888.0 1106.5h-17.0M888.0 1101.8h-17.0M888.0 1195.0h-17.0M888.0 1197.0h-17.0M888.0 1206.0h-17.0M888.0 1208.0h-17.0M888.0 1210.0h-17.0M888.0 1222.0h-17.0M888.0 1225.0h-17.0M888.0 1229.5h-17.0M888.0 1244.0h-17.0M888.0 1259.0h-17.0M888.0 1351.0h-17.0" stroke="#000" stroke-width="3.7"/>
<path d="M888.0 1008.6h-31.0M888.0 1097.6h-31.0M888.0 1189.3h-31.0M888.0 1281.0h-31.0M888.0 1302.5h-31.0M888.0 1304.5h-31.0M888.0 1306.5h-31.0M888.0 1324.0h-31.0" stroke="#000" stroke-width="3.7"/>
<line x1="857.0" y1="1366.0" x2="1379.8" y2="1366.0" stroke="#000" stroke-width="3.7"/>
<path d="M906.0 1366.0v19.0M1026.5 1366.0v19.0M1047.3 1366.0v19.0M1062.0 1366.0v19.0M1073.5 1366.0v19.0M1082.8 1366.0v19.0M1090.7 1366.0v19.0M1097.6 1366.0v19.0M1103.6 1366.0v19.0M1142.3 1366.0v19.0M1161.7 1366.0v19.0M1175.5 1366.0v19.0M1186.2 1366.0v19.0M1195.0 1366.0v19.0M1202.4 1366.0v19.0M1208.8 1366.0v19.0M1214.4 1366.0v19.0M1252.8 1366.0v19.0M1272.2 1366.0v19.0M1286.0 1366.0v19.0M1296.7 1366.0v19.0M1305.5 1366.0v19.0M1312.9 1366.0v19.0M1319.3 1366.0v19.0M1324.9 1366.0v19.0" stroke="#000" stroke-width="3.7"/>
<path d="M888.0 1366.0v34.0M945.0 1366.0v34.0M948.5 1366.0v34.0M952.0 1366.0v34.0M991.0 1366.0v34.0M1109.0 1366.0v34.0M1219.5 1366.0v34.0M1330.0 1366.0v34.0" stroke="#000" stroke-width="3.7"/>
<text x="1026.0" y="1470.0" font-size="44" textLength="210.0" lengthAdjust="spacingAndGlyphs">IgM APC-A</text>
<rect x="1375.0" y="1079.0" width="4" height="3.7" fill="#000"/>
<text x="800.0" y="1154.5" font-size="45" textLength="177.0" lengthAdjust="spacingAndGlyphs" transform="rotate(-90 800.0 1154.5)" text-anchor="middle">IgD PE-A</text>
<rect x="991.0" y="1015.0" width="233.0" height="189.0" fill="none" stroke="#000" stroke-width="3.4"/>
<text x="1270.0" y="1095.0" font-size="38" textLength="40.0" lengthAdjust="spacingAndGlyphs">T2</text>
<rect x="180" y="1803" width="225" height="187" fill="#d8f6d8" opacity="1" filter="url(#b6)"/>
<path transform="translate(173.00 1602.85) scale(3.7)" d="M100 26h1m1 3h1m6 2h1m-12 2h1m4 0h1m1 0h1m-17 1h1m3 0h1m3 0h3m1 0h1m1 0h2m2 0h1m6 0h2m-21 1h2m3 0h6m2 0h1m7 0h1m-24 1h4m1 0h5m1 0h6m2 0h2m-26 1h1m3 0h13m2 0h1m1 0h2m3 0h1m-31 1h1m4 0h2m1 0h16m2 0h2m2 0h1m-33 1h1m3 0h1m1 0h1m2 0h1m1 0h15m1 0h4m-36 1h1m3 0h1m5 0h3m1 0h19m2 0h1m3 0h1m-32 1h1m1 0h25m-27 1h1m1 0h25m-26 1h4m1 0h17m1 0h3m4 0h1m-33 1h1m3 0h25m-90 1h1m50 0h1m9 0h2m2 0h1m1 0h20m1 0h1m-34 1h1m1 0h1m3 0h1m1 0h2m2 0h19m1 0h1m3 0h1m-41 1h1m7 0h1m3 0h1m1 0h19m1 0h2m-79 1h1m31 0h1m16 0h1m3 0h2m1 0h18m2 0h1m3 0h1m4 0h1m-35 1h2m1 0h19m1 0h1m1 0h1m5 0h1m-86 1h1m5 0h1m3 0h1m29 0h1m14 0h1m1 0h16m1 0h2m1 0h1m4 0h1m1 0h1m-85 1h1m4 0h1m34 0h1m1 0h1m1 0h1m5 0h1m6 0h1m1 0h1m1 0h8m1 0h7m3 0h1m6 0h1m-83 1h1m2 0h2m1 0h1m3 0h1m7 0h1m15 0h2m4 0h1m9 0h2m1 0h4m1 0h3m1 0h5m2 0h2m1 0h1m3 0h1m3 0h1m-29 1h2m1 0h1m1 0h3m1 0h1m1 0h1m1 0h1m4 0h1m1 0h1m-34 1h1m11 0h1m1 0h1m7 0h1m1 0h1m3 0h2m1 0h1m-83 1h1m1 0h1m54 0h1m3 0h1m2 0h5m2 0h3m1 0h1m3 0h1m4 0h1m6 0h1m-82 1h1m7 0h1m6 0h1m1 0h1m29 0h1m4 0h1m2 0h1m2 0h2m2 0h1m10 0h1m-96 1h1m5 0h1m1 0h1m10 0h1m3 0h1m8 0h1m8 0h1m1 0h1m1 0h1m15 0h1m6 0h1m8 0h1m4 0h1m5 0h2m-80 1h1m4 0h1m8 0h1m15 0h1m16 0h1m2 0h2m1 0h1m17 0h1m2 0h1m6 0h1m-81 1h1m8 0h1m12 0h1m-32 1h1m14 0h1m1 0h1m7 0h1m4 0h1m15 0h1m21 0h1m6 0h1m3 0h2m18 0h1m-106 1h1m6 0h1m4 0h1m12 0h1m42 0h4m4 0h1m9 0h1m-70 1h1m19 0h1m1 0h1m24 0h1m2 0h3m1 0h1m-48 1h1m15 0h1m2 0h1m1 0h2m20 0h1m-73 1h1m6 0h1m5 0h1m17 0h1m3 0h1m16 0h1m12 0h1m2 0h1m19 0h1m5 0h1m9 0h1m-70 1h1m9 0h1m5 0h1m9 0h1m10 0h1m9 0h1m3 0h1m4 0h1m-92 1h1m12 0h1m3 0h1m11 0h2m13 0h1m1 0h1m4 0h1m19 0h1m2 0h1m-75 1h1m6 0h1m5 0h1m5 0h1m5 0h1m1 0h1m2 0h1m17 0h1m6 0h1m1 0h1m7 0h1m5 0h1m6 0h1m-69 1h1m3 0h1m7 0h1m4 0h1m7 0h1m60 0h1m-97 1h2m2 0h1m9 0h1m19 0h1m4 0h1m14 0h3m20 0h1m4 0h1m-83 1h1m3 0h1m27 0h1m11 0h1m7 0h1m20 0h1m-74 1h1m7 0h1m9 0h1m17 0h1m14 0h1m12 0h1m7 0h1m2 0h2m16 0h1m-94 1h1m7 0h1m40 0h1m5 0h3m8 0h1m3 0h1m14 0h1m11 0h1m4 0h1m-94 1h1m1 0h1m7 0h1m21 0h2m1 0h2m6 0h1m12 0h1m1 0h1m4 0h1m-73 1h1m53 0h1m14 0h1m1 0h1m1 0h1m1 0h3m1 0h2m6 0h1m3 0h1m-92 1h1m31 0h1m8 0h1m26 0h1m9 0h2m3 0h1m3 0h1m10 0h1m29 0h1m-129 1h1m13 0h2m19 0h1m11 0h1m2 0h1m2 0h1m6 0h1m6 0h1m18 0h1m3 0h1m-83 1h1m28 0h1m10 0h1m5 0h1m5 0h1m3 0h1m6 0h1m2 0h2m1 0h1m4 0h1m13 0h1m-97 1h1m3 0h1m5 0h1m3 0h1m4 0h2m9 0h1m5 0h1m13 0h1m17 0h1m1 0h2m3 0h1m2 0h1m4 0h1m1 0h1m7 0h1m8 0h1m-88 1h1m7 0h1m40 0h1m1 0h2m2 0h1m1 0h1m15 0h1m2 0h1m-92 1h2m17 0h1m15 0h1m1 0h1m3 0h1m18 0h1m3 0h1m3 0h1m-61 1h2m10 0h1m4 0h1m5 0h1m3 0h1m12 0h1m1 0h1m19 0h1m14 0h1m5 0h1m16 0h1m7 0h1m-117 1h1m5 0h1m5 0h1m36 0h1m6 0h1m8 0h1m8 0h1m3 0h1m16 0h1m-96 1h1m21 0h1m18 0h1m8 0h1m1 0h1m2 0h1m1 0h1m1 0h1m6 0h1m2 0h2m6 0h2m8 0h1m3 0h1m-71 1h2m3 0h1m2 0h1m13 0h1m6 0h1m5 0h1m9 0h1m6 0h2m10 0h1m-81 1h1m23 0h1m10 0h1m7 0h1m2 0h1m1 0h2m4 0h1m6 0h1m10 0h1m5 0h1m-76 1h1m3 0h1m4 0h1m4 0h2m3 0h1m13 0h1m14 0h1m1 0h1m10 0h1m6 0h1m-77 1h1m16 0h1m20 0h1m6 0h1m3 0h1m1 0h1m8 0h2m10 0h2m3 0h1m6 0h1m5 0h1m-91 1h1m26 0h1m16 0h1m31 0h1m-77 1h1m18 0h1m1 0h1m26 0h1m8 0h1m6 0h1m4 0h1m19 0h1m-90 1h1m10 0h1m3 0h1m19 0h1m39 0h1m6 0h1m3 0h1m-86 1h1m10 0h1m17 0h1m8 0h1m5 0h1m15 0h1m4 0h1m4 0h2m1 0h1m19 0h1m-95 1h2m3 0h1m20 0h1m11 0h1m8 0h1m6 0h1m4 0h1m4 0h2m1 0h2m2 0h1m2 0h1m1 0h1m7 0h1m2 0h1m-70 1h1m26 0h1m4 0h1m5 0h1m16 0h1m2 0h1m8 0h1m15 0h1m-102 1h1m2 0h1m12 0h1m6 0h1m22 0h1m3 0h1m4 0h1m6 0h1m11 0h1m4 0h1m2 0h1m8 0h1m-76 1h1m4 0h1m2 0h1m6 0h1m15 0h1m21 0h1m12 0h1m-74 1h1m13 0h1m3 0h1m7 0h1m11 0h1m4 0h1m11 0h1m5 0h1m10 0h1m-82 1h1m19 0h1m13 0h1m5 0h1m12 0h1m13 0h1m3 0h1m-72 1h1m31 0h1m2 0h1m37 0h1m8 0h1m2 0h1m-86 1h1m29 0h1m14 0h1m13 0h1m11 0h1m-72 1h1m19 0h1m30 0h1m11 0h1m-64 1h2m14 0h2m15 0h1m10 0h1m1 0h1m17 0h1m2 0h1m-68 1h1m12 0h1m10 0h1m11 0h1m2 0h2m6 0h1m23 0h1m10 0h1m5 0h1m-80 1h1m3 0h1m3 0h1m21 0h1m11 0h1m20 0h1m-48 1h1m13 0h1m7 0h1m19 0h1m5 0h1m2 0h2m-75 1h1m4 0h1m5 0h1m18 0h1m7 0h1m3 0h2m32 0h1m-77 1h1m2 0h1m4 0h1m6 0h3m2 0h2m3 0h2m2 0h3m1 0h4m7 0h1m1 0h2m2 0h1m12 0h1m13 0h2" stroke="#000" stroke-width="1" fill="none"/>
<path transform="translate(173.00 1602.85) scale(3.7)" d="M17 53h1m18 0h1m-15 1h2m6 0h1m11 0h1m1 0h1m-32 1h1m6 0h1m1 0h1m8 0h1m1 0h2m1 0h2m2 0h1m-18 1h1m2 0h1m1 0h1m7 0h2m3 0h1m-28 1h1m1 0h1m2 0h2m2 0h1m7 0h1m3 0h1m3 0h1m2 0h1m3 0h3m-36 1h2m12 0h1m1 0h1m6 0h1m2 0h3m3 0h1m7 0h2m-45 1h1m2 0h1m2 0h2m3 0h1m2 0h1m5 0h1m1 0h1m1 0h1m-29 1h1m8 0h2m1 0h4m3 0h1m1 0h1m2 0h1m2 0h1m1 0h1m2 0h1m4 0h2m10 0h1m-45 1h1m4 0h1m4 0h1m4 0h1m1 0h2m7 0h1m4 0h1m1 0h1m2 0h1m1 0h2m5 0h1m-50 1h1m6 0h4m2 0h2m1 0h2m2 0h1m5 0h2m1 0h2m1 0h1m5 0h1m1 0h1m9 0h1m-47 1h1m1 0h5m1 0h2m4 0h3m3 0h1m2 0h1m1 0h1m1 0h4m4 0h2m1 0h1m3 0h1m-42 1h1m1 0h1m3 0h1m5 0h1m1 0h4m7 0h2m4 0h1m-37 1h1m3 0h1m2 0h1m1 0h2m3 0h1m2 0h1m3 0h1m2 0h3m8 0h3m7 0h1m-47 1h1m2 0h1m8 0h3m2 0h2m8 0h1m1 0h3m1 0h1m1 0h3m3 0h1m4 0h1m2 0h1m-52 1h1m3 0h1m1 0h1m3 0h2m1 0h1m8 0h1m4 0h2m2 0h3m8 0h1m7 0h1m1 0h1m3 0h1m-56 1h1m10 0h1m1 0h1m4 0h3m2 0h1m13 0h3m4 0h1m3 0h2m2 0h1m-52 1h1m3 0h1m2 0h1m8 0h5m3 0h1m2 0h1m3 0h2m2 0h1m5 0h1m5 0h1m-38 1h1m5 0h3m3 0h2m7 0h1m1 0h1m3 0h1m4 0h1m2 0h1m5 0h1m-51 1h1m1 0h1m4 0h1m16 0h1m3 0h1m8 0h1m3 0h2m2 0h1m1 0h3m3 0h1m-58 1h2m6 0h2m5 0h1m2 0h1m8 0h2m1 0h2m2 0h1m6 0h1m1 0h1m4 0h2m-48 1h1m9 0h3m3 0h1m2 0h1m8 0h1m5 0h2m14 0h1m-55 1h1m4 0h1m3 0h1m1 0h2m1 0h1m1 0h1m3 0h2m5 0h2m3 0h2m1 0h2m1 0h1m6 0h1m1 0h4m-51 1h1m1 0h1m1 0h1m4 0h1m1 0h1m2 0h2m9 0h1m1 0h1m5 0h5m4 0h3m2 0h1m2 0h1m3 0h1m7 0h1m-58 1h1m4 0h2m4 0h1m2 0h3m1 0h1m1 0h1m1 0h1m7 0h1m2 0h2m1 0h1m1 0h1m1 0h1m1 0h1m8 0h1m-54 1h1m12 0h1m1 0h2m1 0h1m1 0h1m8 0h1m13 0h1m5 0h1m-47 1h1m7 0h1m7 0h1m4 0h1m8 0h1m2 0h1m2 0h4m14 0h1m-55 1h1m3 0h1m1 0h2m3 0h2m1 0h1m2 0h1m1 0h2m1 0h1m8 0h1m2 0h1m1 0h1m2 0h1m5 0h2m3 0h1m-51 1h1m4 0h1m12 0h1m8 0h1m4 0h1m3 0h3m2 0h1m6 0h1m2 0h1m-55 1h3m5 0h1m3 0h2m8 0h1m3 0h1m1 0h1m3 0h1m6 0h1m8 0h2m2 0h1m1 0h1m1 0h1m1 0h1m-56 1h2m7 0h1m7 0h2m1 0h2m3 0h1m3 0h2m3 0h1m3 0h2m1 0h1m2 0h1m2 0h1m7 0h1m-52 1h1m1 0h1m5 0h3m2 0h1m1 0h1m2 0h1m10 0h1m6 0h2m2 0h1m-50 1h1m2 0h1m11 0h1m5 0h1m1 0h1m7 0h1m1 0h2m10 0h2m4 0h1m1 0h1m2 0h1m-56 1h1m5 0h1m1 0h1m3 0h1m3 0h2m2 0h1m4 0h1m13 0h1m6 0h2m-42 1h1m6 0h1m8 0h2m1 0h1m5 0h2m1 0h1m4 0h3m3 0h1m5 0h1m-45 1h1m9 0h1m2 0h1m2 0h1m7 0h1m4 0h1m4 0h1m8 0h1m4 0h1m-50 1h1m2 0h1m8 0h1m4 0h1m2 0h2m8 0h1m1 0h1m8 0h1m3 0h2m1 0h2m2 0h1m-51 1h2m1 0h1m3 0h1m3 0h2m1 0h1m2 0h1m1 0h2m2 0h2m4 0h1m3 0h1m2 0h1m5 0h1m1 0h2m2 0h1m-55 1h2m1 0h1m1 0h1m2 0h1m6 0h1m3 0h1m4 0h1m1 0h1m2 0h1m2 0h1m2 0h1m3 0h1m4 0h2m2 0h1m8 0h1m-57 1h1m1 0h1m1 0h1m5 0h2m6 0h1m15 0h1m7 0h1m1 0h1m1 0h1m5 0h1m-51 1h4m2 0h1m4 0h2m7 0h1m14 0h2m4 0h1m8 0h1m-53 1h1m4 0h1m2 0h2m5 0h1m4 0h1m3 0h1m17 0h2m2 0h1m5 0h1m-47 1h3m5 0h3m3 0h2m1 0h1m4 0h1m4 0h1m8 0h1m2 0h2m5 0h1m-49 1h1m3 0h1m3 0h1m4 0h1m1 0h1m8 0h1m21 0h1m-52 1h1m5 0h1m1 0h1m1 0h2m1 0h1m2 0h1m2 0h1m9 0h1m4 0h1m1 0h1m7 0h2m2 0h2m6 0h1m-57 1h2m1 0h1m4 0h2m2 0h1m1 0h1m1 0h1m1 0h1m1 0h1m1 0h1m2 0h1m6 0h1m1 0h1m6 0h1m7 0h1m-47 1h1m6 0h1m2 0h1m8 0h1m1 0h1m1 0h1m9 0h1m1 0h1m3 0h1m1 0h1m1 0h1m3 0h1m-47 1h1m1 0h1m1 0h1m12 0h1m6 0h1m9 0h2m4 0h1m3 0h1m-35 1h1m3 0h1m4 0h2m7 0h2m5 0h2m-24 1h1m4 0h1m8 0h1m2 0h1m5 0h1m-32 1h1m1 0h1m3 0h1m5 0h1m7 0h1m7 0h1m2 0h1m6 0h2m-33 1h1m3 0h1m12 0h1m2 0h2m4 0h1m-27 1h1m2 0h1m1 0h1m1 0h1m6 0h3m2 0h1m-26 1h1m2 0h1m3 0h1m9 0h1m-6 1h1" stroke="#28d428" stroke-width="1" fill="none"/>
<path transform="translate(173.00 1602.85) scale(3.7)" d="M29 55h1m2 3h1m16 1h1m-20 3h1m9 2h1m1 0h1m-13 1h1m5 0h1m-22 1h1m29 0h1m2 0h1m1 0h1m-11 1h1m3 0h1m7 0h1m-34 1h1m6 0h1m9 0h1m-5 1h1m10 0h1m4 0h2m-33 1h1m3 0h1m18 0h2m5 0h1m-23 1h1m6 0h2m5 0h1m-24 1h1m8 0h1m3 0h1m5 0h1m2 0h1m1 0h1m-10 1h2m1 0h1m1 0h1m1 0h1m-8 1h1m15 0h1m4 0h1m4 0h1m-44 1h1m3 0h1m10 0h1m12 0h1m6 0h1m-23 1h1m3 0h1m2 0h1m3 0h1m6 0h1m-23 1h1m3 0h2m2 0h2m2 0h2m1 0h1m2 0h1m2 0h3m3 0h1m-27 1h1m2 0h1m4 0h1m1 0h2m21 0h1m-48 1h1m14 0h1m5 0h1m3 0h1m1 0h1m4 0h1m4 0h1m1 0h1m-26 1h1m1 0h2m3 0h1m1 0h1m2 0h1m1 0h1m3 0h1m8 0h2m6 0h1m-50 1h1m13 0h1m3 0h1m5 0h1m2 0h4m1 0h1m2 0h3m-29 1h1m1 0h1m4 0h1m2 0h1m1 0h1m3 0h1m3 0h1m12 0h2m1 0h1m3 0h2m-47 1h1m2 0h1m13 0h4m4 0h1m3 0h2m-29 1h1m1 0h1m5 0h1m5 0h2m7 0h1m2 0h1m6 0h1m1 0h1m-40 1h1m3 0h1m5 0h1m3 0h1m4 0h2m1 0h5m2 0h1m2 0h1m7 0h1m2 0h1m1 0h1m-37 1h1m10 0h1m3 0h1m2 0h2m4 0h2m3 0h2m7 0h1m-57 1h1m15 0h1m2 0h1m1 0h1m2 0h5m1 0h1m1 0h3m3 0h2m3 0h1m7 0h1m-31 1h2m2 0h1m2 0h1m1 0h1m1 0h1m2 0h1m1 0h1m2 0h1m2 0h2m-21 1h1m1 0h1m2 0h2m3 0h1m1 0h1m1 0h3m1 0h1m3 0h1m-36 1h1m2 0h2m2 0h1m4 0h2m2 0h1m2 0h1m4 0h1m3 0h2m2 0h1m1 0h1m-35 1h1m3 0h1m1 0h1m4 0h3m1 0h1m1 0h5m5 0h1m9 0h1m-36 1h1m1 0h1m3 0h1m4 0h1m1 0h1m2 0h4m5 0h2m2 0h2m6 0h1m2 0h1m-44 1h1m2 0h2m1 0h1m2 0h1m2 0h1m1 0h2m2 0h1m1 0h1m1 0h1m1 0h4m1 0h3m1 0h1m-28 1h1m4 0h2m2 0h1m1 0h1m1 0h2m1 0h1m1 0h1m2 0h1m1 0h4m1 0h1m-28 1h1m5 0h5m5 0h1m4 0h1m2 0h2m2 0h1m1 0h1m7 0h1m-45 1h1m10 0h1m2 0h5m3 0h3m6 0h1m5 0h1m-34 1h1m5 0h1m3 0h1m2 0h2m2 0h2m1 0h1m3 0h3m2 0h1m3 0h1m3 0h2m-48 1h1m6 0h2m3 0h1m3 0h2m1 0h1m4 0h1m2 0h1m1 0h3m1 0h1m1 0h2m4 0h1m5 0h1m-47 1h1m6 0h1m5 0h2m3 0h2m5 0h5m1 0h2m4 0h1m-30 1h1m2 0h2m2 0h3m2 0h1m2 0h3m3 0h2m5 0h1m6 0h1m-36 1h3m4 0h1m2 0h1m1 0h3m1 0h1m3 0h1m8 0h1m1 0h2m9 0h1m-39 1h2m5 0h1m1 0h3m1 0h1m1 0h1m5 0h2m-27 1h2m11 0h1m1 0h2m2 0h1m2 0h1m3 0h2m-26 1h1m9 0h3m12 0h1m4 0h1m-25 1h1m1 0h1m2 0h1m3 0h1m2 0h2m4 0h1m8 0h1m-14 1h2" stroke="#10e010" stroke-width="1" fill="none"/>
<path transform="translate(173.00 1602.85) scale(3.7)" d="M1 53h1m-2 2h2m-1 1h1m-2 1h2m-1 1h1m-2 4h2m-1 3h1m-2 3h2m-1 2h1m-1 2h1m-2 1h1m-1 4h2m-1 2h1m-1 2h1m-1 2h1m-2 1h1m-1 2h1m0 1h1m-1 3h1m-2 1h1m-1 2h1m0 1h1m-2 2h2m-1 2h1m-1 2h1m-2 3h1" stroke="#20cc20" stroke-width="1" fill="none"/>
<rect x="173.0" y="1601.0" width="490.0" height="395.0" fill="none" stroke="#000" stroke-width="3.7"/>
<path d="M173.0 1641.2h-16.0M173.0 1646.0h-16.0M173.0 1651.3h-16.0M173.0 1657.5h-16.0M173.0 1664.8h-16.0M173.0 1673.8h-16.0M173.0 1685.4h-16.0M173.0 1701.7h-16.0M173.0 1799.0h-16.0M173.0 1781.5h-16.0M173.0 1769.1h-16.0M173.0 1759.5h-16.0M173.0 1751.6h-16.0M173.0 1744.9h-16.0M173.0 1739.1h-16.0M173.0 1734.1h-16.0M173.0 1831.0h-16.0M173.0 1833.0h-16.0M173.0 1839.0h-16.0M173.0 1841.0h-16.0M173.0 1843.0h-16.0M173.0 1847.0h-16.0M173.0 1851.0h-16.0M173.0 1862.6h-16.0M173.0 1869.0h-16.0M173.0 1880.0h-16.0M173.0 1892.0h-16.0M173.0 1939.0h-16.0M173.0 1950.5h-16.0M173.0 1961.0h-16.0M173.0 1968.0h-16.0M173.0 1981.0h-16.0M173.0 1983.0h-16.0M173.0 1985.0h-16.0M173.0 1990.0h-16.0" stroke="#000" stroke-width="3.7"/>
<path d="M173.0 1637.0h-31.0M173.0 1729.5h-31.0M173.0 1829.0h-31.0M173.0 1903.0h-31.0M173.0 1913.0h-31.0M173.0 1916.0h-31.0M173.0 1919.0h-31.0M173.0 1929.0h-31.0" stroke="#000" stroke-width="3.7"/>
<line x1="142.0" y1="1996.0" x2="664.9" y2="1996.0" stroke="#000" stroke-width="3.7"/>
<path d="M178.7 1996.0v19.5M194.1 1996.0v19.5M206.0 1996.0v19.5M215.7 1996.0v19.5M223.9 1996.0v19.5M231.1 1996.0v19.5M237.4 1996.0v19.5M279.5 1996.0v19.5M280.0 1996.0v19.5M301.2 1996.0v19.5M301.7 1996.0v19.5M316.6 1996.0v19.5M317.1 1996.0v19.5M328.5 1996.0v19.5M329.0 1996.0v19.5M338.2 1996.0v19.5M338.7 1996.0v19.5M346.4 1996.0v19.5M346.9 1996.0v19.5M353.6 1996.0v19.5M354.1 1996.0v19.5M359.9 1996.0v19.5M360.4 1996.0v19.5M402.0 1996.0v19.5M402.5 1996.0v19.5M423.7 1996.0v19.5M424.2 1996.0v19.5M439.1 1996.0v19.5M439.6 1996.0v19.5M451.0 1996.0v19.5M451.5 1996.0v19.5M460.7 1996.0v19.5M461.2 1996.0v19.5M468.9 1996.0v19.5M469.4 1996.0v19.5M476.1 1996.0v19.5M476.6 1996.0v19.5M482.4 1996.0v19.5M482.9 1996.0v19.5M525.0 1996.0v19.5M526.0 1996.0v19.5M546.7 1996.0v19.5M547.7 1996.0v19.5M562.1 1996.0v19.5M563.1 1996.0v19.5M574.0 1996.0v19.5M575.0 1996.0v19.5M583.7 1996.0v19.5M584.7 1996.0v19.5M591.9 1996.0v19.5M592.9 1996.0v19.5M599.1 1996.0v19.5M600.1 1996.0v19.5M605.4 1996.0v19.5M606.4 1996.0v19.5M649.0 1996.0v19.5" stroke="#000" stroke-width="3.7"/>
<path d="M243.0 1996.0v34.5M365.5 1996.0v34.5M488.0 1996.0v34.5M612.0 1996.0v34.5" stroke="#000" stroke-width="3.7"/>
<text x="256.0" y="2100.0" font-size="44" textLength="320.0" lengthAdjust="spacingAndGlyphs">CD38 APC-H7-A</text>
<rect x="653.0" y="1631.0" width="3.7" height="3.7" fill="#000"/>
<text x="87.0" y="1782.5" font-size="45" textLength="419.0" lengthAdjust="spacingAndGlyphs" transform="rotate(-90 87.0 1782.5)" text-anchor="middle">CD27 PerCP-Cy5-5-A</text>
<rect x="174.0" y="1796.0" width="238.0" height="199.0" fill="none" stroke="#000" stroke-width="3.4"/>
<text x="281.0" y="1740.0" font-size="38" textLength="43.0" lengthAdjust="spacingAndGlyphs">N1</text>
<ellipse cx="995" cy="1730" rx="80" ry="80" fill="#d8f8d8" opacity="1" filter="url(#b8)"/>
<path transform="translate(880.00 1598.85) scale(3.7)" d="M44 1h1m2 2h1m5 1h1m-11 1h1m3 0h1m6 0h2m-14 2h1m2 0h1m4 0h1m-11 2h1m2 2h1m10 1h1m3 2h1m1 2h1m-41 1h1m33 0h1m1 0h1m-12 1h1m5 2h1m2 0h1m10 0h1m-14 2h1m1 0h2m-44 1h2m40 1h2m-10 1h1m15 0h1m-54 1h1m1 0h1m42 0h2m1 0h1m2 0h1m-7 1h1m4 0h1m-6 1h3m-2 1h1m3 0h1m-6 1h2m-1 1h1m-3 1h2m1 0h1m9 0h1m-12 1h1m2 0h1m-2 1h2m-22 1h1m19 0h1m-4 1h2m1 0h1m-44 1h1m39 0h1m-10 1h1m4 1h1m3 0h1m2 0h1m-46 1h1m41 0h1m3 0h2m5 0h1m-20 2h1m17 1h1m-7 1h1m-25 1h1m7 0h1m15 0h1m-22 2h1m14 0h1m1 0h1m3 0h1m-3 1h1m-31 1h1m27 0h1m1 2h1m-45 1h1m11 0h1m34 0h1m-12 1h1m5 0h1m-10 1h1m10 0h1m2 0h1m-3 1h1m-3 1h1m3 0h1m-42 1h1m7 0h1m-9 1h1m2 0h1m-3 3h1m17 0h1m2 0h1m-11 1h1m2 0h1m5 0h1m1 0h1m2 0h1m10 0h1m-27 1h1m2 0h2m6 0h1m3 0h1m10 0h1m3 0h1m-37 1h1m2 0h1m1 0h1m3 0h1m2 0h2m2 0h1m-18 1h1m1 0h2m1 0h1m1 0h1m4 0h4m4 0h1m17 0h1m-47 1h1m8 0h1m3 0h1m4 0h1m3 0h1m1 0h1m1 0h1m11 0h1m-35 1h1m3 0h1m4 0h4m1 0h3m2 0h2m1 0h3m4 0h1m-32 1h1m1 0h1m1 0h1m2 0h1m1 0h3m1 0h1m1 0h2m1 0h2m1 0h4m1 0h1m-34 1h1m8 0h2m2 0h2m1 0h1m1 0h3m1 0h1m2 0h8m1 0h2m3 0h2m6 0h1m-41 1h1m1 0h1m1 0h1m1 0h8m1 0h11m1 0h2m1 0h1m-35 1h1m1 0h12m1 0h3m2 0h1m4 0h5m5 0h1m-36 1h2m1 0h10m1 0h14m1 0h5m1 0h3m1 0h1m-42 1h1m2 0h6m1 0h1m2 0h1m1 0h8m2 0h1m1 0h1m1 0h5m1 0h5m2 0h1m-45 1h3m1 0h1m1 0h4m1 0h8m1 0h1m1 0h5m1 0h2m1 0h1m1 0h8m1 0h2m14 0h2m-62 1h1m2 0h1m1 0h2m1 0h4m1 0h2m5 0h3m2 0h4m1 0h2m1 0h8m1 0h3m2 0h1m-44 1h1m2 0h1m1 0h8m1 0h1m1 0h7m2 0h3m1 0h1m2 0h3m1 0h2m1 0h1m2 0h2m1 0h1m-48 1h1m1 0h1m2 0h12m1 0h1m1 0h3m2 0h3m1 0h2m1 0h2m1 0h8m3 0h3m-48 1h3m1 0h1m2 0h8m1 0h6m1 0h4m1 0h9m2 0h6m-47 1h1m1 0h2m1 0h1m2 0h4m2 0h1m1 0h4m2 0h4m1 0h2m3 0h1m1 0h1m1 0h4m1 0h4m1 0h1m-45 1h4m1 0h1m1 0h8m1 0h4m3 0h13m1 0h3m1 0h1m1 0h1m1 0h1m1 0h1m-49 1h3m3 0h6m2 0h8m1 0h9m1 0h6m1 0h3m2 0h1m-46 1h6m1 0h1m1 0h3m3 0h2m1 0h1m1 0h3m1 0h2m1 0h8m1 0h2m2 0h1m1 0h2m1 0h1m8 0h1m-55 1h1m2 0h7m1 0h9m2 0h2m1 0h8m2 0h2m1 0h4m1 0h1m1 0h1m3 0h1m-48 1h3m1 0h3m1 0h2m2 0h2m1 0h1m1 0h5m1 0h3m1 0h3m1 0h3m1 0h3m1 0h5m-43 1h6m1 0h8m1 0h6m1 0h1m1 0h6m1 0h2m1 0h3m1 0h1m1 0h3m-48 1h1m4 0h6m2 0h3m1 0h4m1 0h2m1 0h10m2 0h3m1 0h4m2 0h1m-47 1h1m1 0h3m1 0h1m1 0h2m1 0h2m1 0h1m1 0h7m1 0h1m1 0h3m1 0h1m2 0h2m1 0h2m1 0h3m1 0h2m1 0h1m2 0h1m-49 1h1m2 0h8m1 0h8m1 0h1m1 0h6m2 0h4m3 0h2m1 0h2m3 0h1m-49 1h1m2 0h8m2 0h5m1 0h1m1 0h4m2 0h1m2 0h5m1 0h9m-41 1h1m1 0h4m2 0h4m1 0h23m3 0h3m-44 1h1m2 0h2m1 0h1m2 0h1m1 0h3m3 0h2m1 0h4m1 0h3m1 0h1m4 0h2m1 0h4m17 0h1m4 0h1m-62 1h1m3 0h1m1 0h1m1 0h12m1 0h3m1 0h2m1 0h1m1 0h5m1 0h2m2 0h1m-36 1h2m1 0h8m2 0h7m1 0h6m2 0h2m-31 1h2m5 0h4m1 0h9m1 0h3m1 0h1m3 0h1m1 0h1m-37 1h1m6 0h3m1 0h1m2 0h1m1 0h1m1 0h2m2 0h4m3 0h1m17 0h1m6 0h1m-51 1h1m2 0h4m1 0h3m2 0h1m2 0h2m3 0h3m1 0h1m3 0h1m-29 1h1m6 0h2m3 0h2m5 0h1m6 0h1m-21 1h1m6 0h1m7 0h1m7 0h2m-31 1h1m22 0h1m13 0h1m6 0h1m-54 1h1m19 0h1m3 0h1m3 0h1m22 0h1m-31 1h1m12 0h1m-6 1h1m10 2h1m-20 1h1" stroke="#000" stroke-width="1" fill="none"/>
<path transform="translate(880.00 1598.85) scale(3.7)" d="M49 10h1m2 0h1m-18 1h1m4 0h1m4 0h1m6 0h1m-22 1h2m7 0h1m3 0h1m3 0h1m-19 1h1m9 0h2m3 0h1m-27 1h1m2 0h2m2 0h2m11 0h1m9 0h1m2 0h1m-29 1h1m1 0h1m3 0h1m2 0h1m1 0h1m1 0h2m2 0h1m1 0h1m1 0h2m3 0h1m-26 1h2m3 0h4m1 0h1m1 0h2m-23 1h1m1 0h2m8 0h4m2 0h2m2 0h1m8 0h1m2 0h1m-37 1h1m2 0h2m2 0h1m3 0h1m6 0h1m1 0h3m4 0h4m6 0h1m-34 1h2m9 0h3m1 0h2m2 0h1m1 0h2m1 0h2m1 0h1m2 0h1m1 0h3m-41 1h6m3 0h3m4 0h1m2 0h2m2 0h2m1 0h1m1 0h1m1 0h4m3 0h1m-36 1h1m1 0h2m1 0h1m4 0h1m3 0h1m3 0h3m1 0h4m1 0h2m1 0h1m1 0h1m2 0h3m1 0h1m-45 1h2m6 0h4m1 0h1m1 0h1m2 0h3m3 0h1m3 0h2m1 0h1m1 0h2m2 0h2m3 0h1m-41 1h1m3 0h3m9 0h1m2 0h1m3 0h5m3 0h1m1 0h3m2 0h2m-40 1h1m2 0h1m15 0h1m1 0h1m2 0h1m5 0h1m1 0h1m1 0h2m1 0h4m-42 1h2m1 0h1m1 0h2m4 0h1m1 0h1m6 0h1m4 0h1m2 0h2m1 0h1m2 0h1m3 0h1m1 0h2m-40 1h1m4 0h1m2 0h1m3 0h1m2 0h1m9 0h9m1 0h3m1 0h1m-43 1h1m3 0h1m1 0h2m4 0h1m11 0h1m5 0h9m1 0h1m-41 1h1m1 0h1m1 0h2m1 0h1m1 0h2m17 0h1m1 0h5m2 0h2m2 0h2m-41 1h2m1 0h1m1 0h1m1 0h1m7 0h1m1 0h1m9 0h2m1 0h3m2 0h3m1 0h2m1 0h1m-43 1h2m1 0h2m12 0h1m10 0h4m1 0h1m1 0h2m2 0h1m1 0h1m-42 1h5m10 0h1m3 0h1m3 0h1m3 0h1m1 0h7m1 0h1m1 0h2m1 0h1m-45 1h1m1 0h1m1 0h3m19 0h1m4 0h1m2 0h5m2 0h2m-43 1h1m12 0h1m4 0h1m6 0h1m2 0h1m3 0h5m2 0h4m1 0h1m-45 1h1m1 0h1m1 0h1m3 0h1m1 0h1m1 0h1m2 0h1m3 0h3m7 0h1m3 0h5m1 0h3m-42 1h2m1 0h2m5 0h1m9 0h1m4 0h1m3 0h4m1 0h1m2 0h1m2 0h1m1 0h2m-45 1h1m2 0h2m1 0h1m1 0h3m10 0h1m3 0h1m5 0h7m1 0h4m1 0h1m-35 1h1m12 0h2m6 0h7m1 0h4m1 0h1m-41 1h1m1 0h1m8 0h1m7 0h1m1 0h1m4 0h4m1 0h2m1 0h1m3 0h3m-40 1h1m1 0h2m2 0h1m10 0h1m8 0h1m1 0h6m1 0h2m2 0h1m-39 1h1m6 0h1m6 0h2m1 0h1m2 0h1m1 0h1m1 0h5m2 0h1m2 0h2m2 0h1m-32 1h1m5 0h1m7 0h1m1 0h1m3 0h7m1 0h1m2 0h1m-41 1h1m2 0h2m1 0h1m1 0h1m2 0h1m2 0h1m8 0h1m1 0h1m1 0h2m1 0h2m1 0h1m1 0h1m1 0h2m1 0h1m-39 1h1m2 0h2m10 0h1m5 0h1m1 0h1m2 0h1m2 0h1m2 0h1m1 0h1m-37 1h1m2 0h1m17 0h1m5 0h1m1 0h2m1 0h2m1 0h1m1 0h3m-41 1h1m3 0h1m19 0h2m6 0h1m1 0h6m-43 1h1m2 0h1m4 0h1m5 0h1m7 0h1m1 0h1m3 0h4m3 0h2m3 0h1m2 0h1m1 0h1m-24 1h2m4 0h1m2 0h6m1 0h1m1 0h1m1 0h1m-41 1h1m4 0h3m7 0h2m4 0h3m1 0h1m3 0h1m1 0h1m1 0h2m1 0h1m4 0h2m-35 1h2m1 0h1m2 0h1m3 0h1m6 0h1m2 0h1m2 0h1m1 0h1m3 0h1m1 0h2m1 0h1m-45 1h1m10 0h1m2 0h1m3 0h1m5 0h2m1 0h1m1 0h2m4 0h1m1 0h1m4 0h1m-36 1h1m6 0h2m5 0h1m3 0h3m1 0h1m2 0h1m2 0h2m3 0h1m2 0h1m-39 1h1m1 0h1m4 0h1m6 0h3m6 0h1m1 0h1m3 0h3m3 0h1m-47 1h1m11 0h1m6 0h1m3 0h4m1 0h1m1 0h1m1 0h4m2 0h2m5 0h1m1 0h1m-26 1h2m2 0h1m3 0h1m1 0h5m1 0h1m2 0h2m3 0h1m-36 1h1m8 0h1m2 0h1m6 0h1m1 0h1m3 0h1m1 0h1m2 0h2m7 0h1m-40 1h1m5 0h2m10 0h1m4 0h1m1 0h1m-28 1h1m9 0h1m3 0h1m11 0h1m1 0h1m10 0h1m-27 1h1m15 0h1m3 0h1m-19 1h1m2 0h1m9 0h1m-5 1h1" stroke="#30d050" stroke-width="1" fill="none"/>
<path transform="translate(880.00 1598.85) scale(3.7)" d="M28 13h1m-4 2h1m-3 1h1m3 0h1m1 0h1m-9 1h5m1 0h1m4 0h2m-14 1h1m1 0h3m1 0h6m1 0h1m-12 1h7m6 0h1m-18 1h3m3 0h4m1 0h2m2 0h2m2 0h1m-20 1h1m1 0h4m1 0h3m1 0h3m-16 1h1m4 0h1m1 0h1m1 0h2m3 0h3m2 0h2m-19 1h9m1 0h2m1 0h3m-19 1h1m1 0h13m1 0h1m1 0h2m1 0h4m-26 1h1m2 0h4m1 0h1m1 0h6m1 0h4m1 0h2m2 0h1m-25 1h1m1 0h2m1 0h3m1 0h2m1 0h1m1 0h7m-23 1h1m2 0h4m1 0h11m1 0h1m1 0h3m-24 1h1m1 0h1m2 0h17m1 0h1m-24 1h1m1 0h1m1 0h7m1 0h1m1 0h9m2 0h1m-31 1h1m5 0h12m1 0h10m-23 1h10m1 0h3m1 0h2m2 0h3m-22 1h5m1 0h12m2 0h4m2 0h1m-29 1h8m1 0h4m1 0h2m1 0h3m1 0h2m1 0h3m-26 1h2m1 0h1m1 0h1m1 0h2m1 0h3m3 0h7m1 0h1m-26 1h1m1 0h3m1 0h9m1 0h4m1 0h2m-27 1h1m2 0h1m1 0h1m3 0h10m1 0h3m1 0h4m-23 1h3m1 0h12m2 0h6m-22 1h6m1 0h7m1 0h1m1 0h4m-21 1h2m1 0h10m2 0h5m1 0h1m-24 1h6m1 0h6m2 0h1m1 0h2m1 0h1m-21 1h6m1 0h5m2 0h1m1 0h4m1 0h1m1 0h1m-20 1h1m1 0h2m1 0h2m1 0h5m4 0h1m1 0h1m-24 1h2m2 0h10m2 0h4m1 0h1m-19 1h3m1 0h11m1 0h1m1 0h1m-19 1h10m1 0h5m-16 1h4m1 0h5m1 0h1m1 0h1m2 0h2m-15 1h2m1 0h6m2 0h3m-15 1h2m1 0h2m2 0h2m1 0h1m-11 1h1m1 0h2m1 0h1m1 0h1m1 0h2m1 0h2m-14 1h1m3 0h1m2 0h1m2 0h1m-10 1h1m3 0h1m1 0h2m2 0h1m-7 1h2" stroke="#00f400" stroke-width="1" fill="none"/>
<rect x="880.0" y="1597.0" width="491.0" height="394.0" fill="none" stroke="#000" stroke-width="3.7"/>
<path d="M880.0 1696.8h-17.0M880.0 1681.1h-17.0M880.0 1670.0h-17.0M880.0 1661.4h-17.0M880.0 1654.3h-17.0M880.0 1648.4h-17.0M880.0 1643.2h-17.0M880.0 1638.7h-17.0M880.0 1787.7h-17.0M880.0 1771.5h-17.0M880.0 1760.1h-17.0M880.0 1751.2h-17.0M880.0 1743.9h-17.0M880.0 1737.8h-17.0M880.0 1732.5h-17.0M880.0 1727.8h-17.0M880.0 1821.0h-17.0M880.0 1823.0h-17.0M880.0 1832.0h-17.0M880.0 1834.0h-17.0M880.0 1836.0h-17.0M880.0 1848.0h-17.0M880.0 1851.0h-17.0M880.0 1855.5h-17.0M880.0 1870.0h-17.0M880.0 1885.0h-17.0M880.0 1977.0h-17.0" stroke="#000" stroke-width="3.7"/>
<path d="M880.0 1634.6h-31.0M880.0 1723.6h-31.0M880.0 1815.3h-31.0M880.0 1907.0h-31.0M880.0 1928.5h-31.0M880.0 1930.5h-31.0M880.0 1932.5h-31.0M880.0 1950.0h-31.0" stroke="#000" stroke-width="3.7"/>
<line x1="849.0" y1="1991.0" x2="1372.8" y2="1991.0" stroke="#000" stroke-width="3.7"/>
<path d="M898.0 1991.0v19.0M1018.5 1991.0v19.0M1039.3 1991.0v19.0M1054.0 1991.0v19.0M1065.5 1991.0v19.0M1074.8 1991.0v19.0M1082.7 1991.0v19.0M1089.6 1991.0v19.0M1095.6 1991.0v19.0M1134.3 1991.0v19.0M1153.7 1991.0v19.0M1167.5 1991.0v19.0M1178.2 1991.0v19.0M1187.0 1991.0v19.0M1194.4 1991.0v19.0M1200.8 1991.0v19.0M1206.4 1991.0v19.0M1244.8 1991.0v19.0M1264.2 1991.0v19.0M1278.0 1991.0v19.0M1288.7 1991.0v19.0M1297.5 1991.0v19.0M1304.9 1991.0v19.0M1311.3 1991.0v19.0M1316.9 1991.0v19.0" stroke="#000" stroke-width="3.7"/>
<path d="M880.0 1991.0v34.0M937.0 1991.0v34.0M940.5 1991.0v34.0M944.0 1991.0v34.0M983.0 1991.0v34.0M1101.0 1991.0v34.0M1211.5 1991.0v34.0M1322.0 1991.0v34.0" stroke="#000" stroke-width="3.7"/>
<text x="1018.0" y="2095.0" font-size="44" textLength="210.0" lengthAdjust="spacingAndGlyphs">IgM APC-A</text>
<rect x="1368.0" y="1705.0" width="4" height="3.7" fill="#000"/>
<text x="792.0" y="1780.5" font-size="45" textLength="177.0" lengthAdjust="spacingAndGlyphs" transform="rotate(-90 792.0 1780.5)" text-anchor="middle">IgD PE-A</text>
<rect x="881.0" y="1631.0" width="199.0" height="192.0" fill="none" stroke="#000" stroke-width="3.4"/>
<text x="1150.0" y="1732.0" font-size="38" textLength="46.0" lengthAdjust="spacingAndGlyphs">N2</text>
<ellipse cx="260" cy="2475" rx="100" ry="50" fill="#fdefdc" opacity="1" filter="url(#b10)"/>
<path transform="translate(173.00 2228.85) scale(3.7)" d="M93 27h2m11 4h1m3 0h1m-17 1h1m6 0h1m7 0h2m-19 1h1m4 0h1m2 0h1m8 0h1m-23 1h1m3 0h1m1 0h2m1 0h4m1 0h5m3 0h1m1 0h1m2 0h1m-22 1h1m2 0h1m3 0h2m1 0h3m1 0h2m1 0h1m-20 1h1m3 0h3m1 0h1m2 0h6m1 0h1m1 0h1m-24 1h1m1 0h7m1 0h9m1 0h4m-21 1h1m1 0h16m2 0h1m2 0h1m-27 1h1m1 0h24m-27 1h2m1 0h1m2 0h18m1 0h2m1 0h1m-30 1h1m1 0h1m1 0h21m-27 1h1m2 0h22m1 0h1m3 0h2m-64 1h1m11 0h1m11 0h1m3 0h2m4 0h24m1 0h2m-30 1h1m1 0h2m2 0h19m1 0h2m1 0h1m-35 1h1m3 0h1m1 0h1m2 0h4m1 0h19m4 0h2m-37 1h1m2 0h1m1 0h3m1 0h22m2 0h1m-50 1h1m17 0h2m1 0h24m-28 1h1m1 0h1m1 0h11m1 0h9m3 0h2m-66 1h2m29 0h1m4 0h1m2 0h21m1 0h1m12 0h1m-38 1h1m2 0h2m1 0h5m1 0h14m-71 1h1m47 0h3m1 0h4m1 0h2m1 0h1m1 0h2m1 0h1m1 0h2m1 0h1m-107 1h1m45 0h1m40 0h7m1 0h2m1 0h3m1 0h2m1 0h1m2 0h1m-78 1h1m30 0h1m18 0h2m1 0h2m4 0h4m1 0h2m2 0h1m1 0h1m2 0h1m-106 1h1m23 0h1m6 0h1m1 0h1m11 0h1m36 0h1m4 0h1m3 0h2m3 0h1m1 0h1m2 0h1m1 0h1m-84 1h1m2 0h1m6 0h1m1 0h1m6 0h1m32 0h2m11 0h1m1 0h1m1 0h2m1 0h2m2 0h2m1 0h3m5 0h1m-98 1h1m11 0h1m4 0h1m9 0h1m42 0h1m2 0h1m2 0h1m1 0h3m3 0h1m-73 1h1m9 0h1m9 0h1m2 0h1m6 0h1m12 0h2m16 0h1m1 0h1m2 0h1m7 0h2m9 0h1m-88 1h1m5 0h3m3 0h1m6 0h1m4 0h1m25 0h1m6 0h1m10 0h1m1 0h1m11 0h1m12 0h1m-116 1h1m35 0h1m9 0h1m16 0h1m27 0h1m16 0h1m-109 1h1m35 0h1m2 0h1m22 0h1m6 0h2m15 0h1m4 0h1m4 0h1m7 0h1m-93 1h1m15 0h1m1 0h1m2 0h1m1 0h2m4 0h1m7 0h1m4 0h1m2 0h1m3 0h1m8 0h1m61 0h1m-122 1h1m6 0h1m5 0h1m1 0h1m2 0h1m2 0h1m4 0h1m2 0h1m6 0h1m3 0h1m5 0h1m7 0h1m2 0h1m16 0h1m1 0h1m2 0h1m-91 1h1m18 0h1m7 0h1m3 0h1m4 0h1m3 0h1m6 0h1m11 0h1m6 0h1m5 0h1m2 0h1m2 0h1m-66 1h1m6 0h1m1 0h1m7 0h2m19 0h1m2 0h2m6 0h1m17 0h1m1 0h1m10 0h1m3 0h1m9 0h1m-108 1h1m5 0h1m14 0h1m13 0h1m17 0h1m51 0h1m-90 1h2m11 0h1m5 0h1m6 0h1m3 0h1m2 0h4m2 0h1m2 0h2m15 0h1m7 0h2m11 0h1m5 0h1m-103 1h1m27 0h3m1 0h1m26 0h1m21 0h2m9 0h1m-73 1h1m9 0h1m3 0h2m17 0h1m9 0h1m3 0h1m7 0h1m2 0h1m15 0h1m-95 1h1m4 0h1m5 0h1m2 0h1m4 0h1m4 0h2m1 0h4m10 0h1m1 0h2m4 0h2m3 0h1m8 0h1m5 0h1m1 0h1m1 0h1m2 0h1m26 0h1m-103 1h1m13 0h1m4 0h1m8 0h2m3 0h1m2 0h1m15 0h1m1 0h1m6 0h1m6 0h1m7 0h1m6 0h1m1 0h1m1 0h1m-80 1h2m11 0h1m3 0h1m8 0h1m1 0h1m1 0h1m2 0h1m1 0h1m2 0h1m21 0h1m-70 1h2m4 0h1m9 0h1m5 0h1m3 0h1m13 0h1m4 0h1m17 0h1m6 0h1m7 0h1m4 0h1m-66 1h1m3 0h1m16 0h1m2 0h1m1 0h2m1 0h2m9 0h1m2 0h2m13 0h1m2 0h1m8 0h1m1 0h1m-90 1h1m5 0h1m1 0h1m20 0h1m1 0h1m10 0h2m1 0h2m4 0h1m11 0h1m1 0h1m1 0h1m7 0h2m1 0h1m7 0h1m-88 1h1m13 0h1m2 0h1m3 0h1m10 0h1m5 0h2m1 0h1m5 0h2m14 0h1m8 0h1m1 0h1m1 0h1m4 0h2m7 0h1m6 0h1m-98 1h1m14 0h1m5 0h1m11 0h2m2 0h1m9 0h1m20 0h1m7 0h1m10 0h1m-87 1h4m3 0h2m1 0h2m2 0h3m1 0h4m1 0h1m4 0h1m2 0h1m2 0h2m1 0h2m1 0h2m1 0h4m1 0h1m1 0h3m1 0h4m2 0h1m4 0h1m6 0h2m1 0h1m1 0h1m-79 1h2m4 0h1m5 0h1m1 0h1m4 0h2m1 0h2m2 0h2m2 0h8m1 0h6m2 0h1m2 0h1m1 0h3m1 0h1m3 0h1m1 0h1m2 0h1m2 0h1m9 0h4m-82 1h2m2 0h1m3 0h1m11 0h4m2 0h2m3 0h1m2 0h5m2 0h2m1 0h3m2 0h3m1 0h2m5 0h2m12 0h1m5 0h1m2 0h1m16 0h1m-101 1h4m1 0h1m1 0h1m3 0h2m1 0h2m1 0h1m1 0h1m1 0h6m1 0h6m1 0h1m1 0h6m3 0h1m3 0h2m1 0h1m2 0h1m2 0h1m8 0h2m2 0h1m2 0h1m10 0h1m-78 1h1m3 0h1m1 0h1m2 0h2m1 0h1m1 0h3m1 0h2m1 0h3m1 0h3m2 0h1m1 0h1m3 0h1m2 0h2m2 0h2m1 0h3m2 0h1m1 0h1m7 0h1m5 0h1m3 0h1m-80 1h1m2 0h1m5 0h1m8 0h1m1 0h1m1 0h4m1 0h1m2 0h1m2 0h3m3 0h2m1 0h3m1 0h1m2 0h1m3 0h2m1 0h3m2 0h1m17 0h3m-82 1h1m4 0h1m1 0h3m3 0h5m1 0h6m3 0h3m1 0h7m2 0h4m6 0h5m2 0h1m2 0h1m7 0h2m3 0h1m5 0h1m33 0h1m-115 1h1m2 0h4m4 0h2m4 0h2m2 0h3m2 0h6m2 0h1m1 0h9m4 0h1m2 0h8m1 0h1m5 0h1m7 0h4m1 0h1m25 0h1m-108 1h2m3 0h1m2 0h1m3 0h1m1 0h1m2 0h3m2 0h1m1 0h4m1 0h4m1 0h1m1 0h1m1 0h1m1 0h1m1 0h7m2 0h1m3 0h1m2 0h1m6 0h4m7 0h1m3 0h1m6 0h1m-88 1h1m7 0h1m1 0h1m1 0h5m1 0h1m2 0h1m2 0h1m1 0h1m4 0h10m1 0h3m2 0h1m2 0h1m2 0h3m1 0h2m7 0h1m5 0h1m4 0h2m3 0h1m-83 1h2m2 0h1m1 0h1m2 0h1m4 0h1m1 0h1m4 0h4m1 0h6m1 0h8m2 0h1m1 0h1m1 0h1m2 0h1m1 0h1m3 0h2m2 0h1m1 0h1m4 0h2m3 0h1m2 0h1m2 0h1m7 0h1m2 0h1m-90 1h3m5 0h6m2 0h5m2 0h1m1 0h2m1 0h7m1 0h6m1 0h1m2 0h1m1 0h3m1 0h1m1 0h1m1 0h3m2 0h1m5 0h1m-67 1h1m9 0h1m2 0h3m5 0h7m4 0h4m1 0h5m1 0h2m2 0h2m7 0h2m1 0h1m11 0h1m-73 1h2m3 0h1m1 0h1m2 0h3m5 0h2m2 0h2m1 0h1m1 0h1m1 0h1m1 0h5m1 0h3m2 0h1m1 0h1m3 0h3m2 0h3m1 0h1m15 0h1m4 0h1m2 0h2m-82 1h1m2 0h1m4 0h1m1 0h2m1 0h2m1 0h1m2 0h1m1 0h3m1 0h7m1 0h5m4 0h2m2 0h3m1 0h1m1 0h5m1 0h1m1 0h1m3 0h1m1 0h1m11 0h1m-80 1h2m6 0h1m1 0h1m3 0h2m1 0h1m1 0h2m1 0h22m1 0h1m1 0h2m1 0h2m7 0h1m10 0h2m-72 1h2m9 0h1m2 0h2m1 0h1m1 0h1m1 0h2m1 0h1m2 0h3m1 0h3m1 0h3m1 0h5m1 0h2m1 0h2m3 0h1m2 0h1m5 0h1m11 0h1m15 0h1m-91 1h2m6 0h2m1 0h6m1 0h1m2 0h5m1 0h1m1 0h1m1 0h1m1 0h3m1 0h2m2 0h3m2 0h1m1 0h1m1 0h1m1 0h3m1 0h1m1 0h2m2 0h1m1 0h1m5 0h1m8 0h1m-80 1h1m12 0h1m1 0h3m4 0h2m3 0h3m2 0h13m3 0h1m1 0h3m1 0h2m9 0h1m2 0h1m7 0h1m2 0h1m1 0h1m-81 1h1m5 0h1m6 0h1m3 0h2m3 0h1m1 0h2m1 0h4m1 0h9m1 0h1m1 0h5m2 0h1m2 0h1m10 0h1m7 0h1m-74 1h1m6 0h1m1 0h1m1 0h2m1 0h1m3 0h1m1 0h5m1 0h9m1 0h1m1 0h3m1 0h1m2 0h2m1 0h1m2 0h2m1 0h1m7 0h1m1 0h1m9 0h1m-75 1h1m11 0h5m1 0h7m2 0h4m2 0h5m1 0h3m1 0h2m2 0h1m1 0h1m7 0h1m7 0h1m11 0h1m-79 1h1m9 0h1m1 0h1m3 0h3m3 0h1m2 0h1m1 0h1m2 0h16m4 0h3m2 0h1m21 0h1m16 0h1m-95 1h2m9 0h1m1 0h1m2 0h1m1 0h2m1 0h5m2 0h7m1 0h3m2 0h3m1 0h2m2 0h2m25 0h1m-77 1h1m7 0h1m2 0h1m3 0h1m1 0h1m1 0h1m3 0h5m3 0h2m1 0h1m2 0h1m1 0h1m1 0h1m7 0h1m2 0h1m5 0h1m4 0h1m16 0h1m4 0h1m-86 1h1m13 0h1m1 0h1m3 0h2m1 0h3m2 0h2m1 0h9m2 0h1m1 0h2m1 0h1m1 0h1m2 0h1m1 0h1m-54 1h1m9 0h1m4 0h1m5 0h1m3 0h3m2 0h9m1 0h1m2 0h1m1 0h1m3 0h2m22 0h1m4 0h1m-79 1h1m10 0h1m2 0h1m1 0h1m2 0h2m1 0h2m2 0h1m2 0h1m1 0h6m2 0h3m1 0h3m1 0h1m4 0h1m17 0h1m3 0h1m4 0h1m-80 1h1m1 0h8m2 0h1m2 0h2m1 0h4m3 0h1m1 0h4m1 0h9m1 0h1m2 0h1m2 0h1m1 0h1m1 0h5m2 0h1m8 0h1m-68 1h1m3 0h1m9 0h3m1 0h1m2 0h2m2 0h5m4 0h3m4 0h2m2 0h1m1 0h1m1 0h2m8 0h2" stroke="#000" stroke-width="1" fill="none"/>
<path transform="translate(173.00 2228.85) scale(3.7)" d="M36 50h1m3 2h1m-16 1h1m1 1h1m9 0h1m-28 1h1m23 0h1m5 0h1m-27 1h1m1 0h1m11 0h1m2 0h1m2 0h1m3 0h1m4 0h1m-26 1h1m2 0h1m5 0h1m5 0h1m2 0h1m1 0h1m-6 1h1m1 0h2m-22 1h1m19 0h1m3 0h2m2 0h1m-26 1h1m8 0h1m3 0h3m4 0h1m2 0h1m7 0h1m-23 1h1m14 0h1m-26 1h1m2 0h1m4 0h1m8 0h1m10 0h1m3 0h1m4 0h1m1 0h1m-47 1h2m1 0h1m2 0h1m1 0h1m2 0h1m20 0h1m3 0h1m4 0h1m-18 1h3m3 0h1m1 0h3m2 0h1m5 0h1m-39 1h1m6 0h1m8 0h1m13 0h3m3 0h2m-25 1h1m1 0h1m2 0h1m3 0h2m6 0h1m2 0h1m-37 1h1m6 0h2m13 0h2m12 0h1m1 0h1m1 0h1m1 0h1m-38 1h1m7 0h2m1 0h2m6 0h1m2 0h1m1 0h1m4 0h1m-38 1h1m12 0h1m13 0h1m1 0h1m7 0h1m-44 1h1m4 0h1m1 0h1m5 0h1m2 0h1m3 0h1m1 0h2m11 0h2m5 0h4m7 0h1m1 0h1m-46 1h1m13 0h1m13 0h1m-27 1h1m3 0h1m11 0h2m5 0h1m3 0h2m5 0h1m-44 1h1m5 0h2m7 0h1m9 0h2m4 0h1m12 0h1m-49 1h1m5 0h1m1 0h1m1 0h1m7 0h3m4 0h2m5 0h2m5 0h1m6 0h1m2 0h1m1 0h1m8 0h1m-55 1h1m6 0h1m2 0h1m3 0h1m7 0h1m4 0h1m6 0h1m1 0h1m-33 1h1m3 0h1m6 0h1m8 0h1m9 0h1m3 0h1m2 0h1m2 0h1" stroke="#f0a030" stroke-width="1" fill="none"/>
<path transform="translate(173.00 2228.85) scale(3.7)" d="M10 37h1m-3 1h1m16 1h1m-7 1h1m-2 1h1m4 3h1m2 0h1m-24 1h1m41 0h1m-14 1h1m-26 1h1m21 0h1m5 0h1m-28 1h1m21 0h1m4 0h1m-30 1h1m7 0h1m24 0h1m13 2h1m-50 1h2m3 0h1m2 0h2m14 0h1m-1 1h2m16 0h1m-38 1h1m4 0h2m4 0h1m2 0h1m-6 1h1m2 0h1m-17 1h1m13 0h1m10 0h1m15 0h1m-39 1h1m5 0h1m8 0h1m-18 1h1m2 0h1m5 0h1m9 0h1m5 0h1m22 0h1m-39 1h1m13 0h4m8 0h1m-29 1h1m2 0h1m1 0h1m3 0h1m5 0h1m-7 1h1m-8 1h1m21 0h1m2 0h1m-33 1h1m2 0h1m1 0h1m13 0h1m24 0h1m-36 1h2m9 0h1m9 0h1m-33 1h1m5 0h1m13 0h1m8 0h2m-27 1h1m2 0h1m6 0h2m3 0h2m13 0h1m-39 1h3m5 0h1m2 0h3m4 0h1m1 0h1m-22 1h1m6 0h3m9 0h1m-19 1h1m4 0h1m4 0h1m4 0h1m-13 1h2m4 0h1m4 0h1m6 0h1m6 0h1m8 0h1m-37 1h1m1 0h1m9 0h2m5 0h1m29 0h1m-47 1h1m5 0h1m7 0h1m3 0h1m4 0h1m-24 1h1m7 0h3m2 0h1m5 0h1m6 0h1m9 0h1m-29 1h1m3 0h1m3 0h1m5 0h1m3 0h1m3 0h1m-26 1h1m3 0h1m2 0h1m9 0h1m6 0h2m2 0h1m-21 1h1m1 0h1m2 0h1m17 0h1m10 0h1m1 0h1" stroke="#f8b870" stroke-width="1" fill="none"/>
<rect x="173.0" y="2227.0" width="491.0" height="395.0" fill="none" stroke="#000" stroke-width="3.7"/>
<path d="M173.0 2267.2h-16.0M173.0 2272.0h-16.0M173.0 2277.3h-16.0M173.0 2283.5h-16.0M173.0 2290.8h-16.0M173.0 2299.8h-16.0M173.0 2311.4h-16.0M173.0 2327.7h-16.0M173.0 2425.0h-16.0M173.0 2407.5h-16.0M173.0 2395.1h-16.0M173.0 2385.5h-16.0M173.0 2377.6h-16.0M173.0 2370.9h-16.0M173.0 2365.1h-16.0M173.0 2360.1h-16.0M173.0 2457.0h-16.0M173.0 2459.0h-16.0M173.0 2465.0h-16.0M173.0 2467.0h-16.0M173.0 2469.0h-16.0M173.0 2473.0h-16.0M173.0 2477.0h-16.0M173.0 2488.6h-16.0M173.0 2495.0h-16.0M173.0 2506.0h-16.0M173.0 2518.0h-16.0M173.0 2565.0h-16.0M173.0 2576.5h-16.0M173.0 2587.0h-16.0M173.0 2594.0h-16.0M173.0 2607.0h-16.0M173.0 2609.0h-16.0M173.0 2611.0h-16.0M173.0 2616.0h-16.0" stroke="#000" stroke-width="3.7"/>
<path d="M173.0 2263.0h-31.0M173.0 2355.5h-31.0M173.0 2455.0h-31.0M173.0 2529.0h-31.0M173.0 2539.0h-31.0M173.0 2542.0h-31.0M173.0 2545.0h-31.0M173.0 2555.0h-31.0" stroke="#000" stroke-width="3.7"/>
<line x1="142.0" y1="2622.0" x2="665.9" y2="2622.0" stroke="#000" stroke-width="3.7"/>
<path d="M178.7 2622.0v19.5M194.1 2622.0v19.5M206.0 2622.0v19.5M215.7 2622.0v19.5M223.9 2622.0v19.5M231.1 2622.0v19.5M237.4 2622.0v19.5M279.5 2622.0v19.5M280.0 2622.0v19.5M301.2 2622.0v19.5M301.7 2622.0v19.5M316.6 2622.0v19.5M317.1 2622.0v19.5M328.5 2622.0v19.5M329.0 2622.0v19.5M338.2 2622.0v19.5M338.7 2622.0v19.5M346.4 2622.0v19.5M346.9 2622.0v19.5M353.6 2622.0v19.5M354.1 2622.0v19.5M359.9 2622.0v19.5M360.4 2622.0v19.5M402.0 2622.0v19.5M402.5 2622.0v19.5M423.7 2622.0v19.5M424.2 2622.0v19.5M439.1 2622.0v19.5M439.6 2622.0v19.5M451.0 2622.0v19.5M451.5 2622.0v19.5M460.7 2622.0v19.5M461.2 2622.0v19.5M468.9 2622.0v19.5M469.4 2622.0v19.5M476.1 2622.0v19.5M476.6 2622.0v19.5M482.4 2622.0v19.5M482.9 2622.0v19.5M525.0 2622.0v19.5M526.0 2622.0v19.5M546.7 2622.0v19.5M547.7 2622.0v19.5M562.1 2622.0v19.5M563.1 2622.0v19.5M574.0 2622.0v19.5M575.0 2622.0v19.5M583.7 2622.0v19.5M584.7 2622.0v19.5M591.9 2622.0v19.5M592.9 2622.0v19.5M599.1 2622.0v19.5M600.1 2622.0v19.5M605.4 2622.0v19.5M606.4 2622.0v19.5M649.0 2622.0v19.5" stroke="#000" stroke-width="3.7"/>
<path d="M243.0 2622.0v34.5M365.5 2622.0v34.5M488.0 2622.0v34.5M612.0 2622.0v34.5" stroke="#000" stroke-width="3.7"/>
<text x="256.0" y="2726.0" font-size="44" textLength="320.0" lengthAdjust="spacingAndGlyphs">CD38 APC-H7-A</text>
<rect x="654.0" y="2257.0" width="3.7" height="3.7" fill="#000"/>
<text x="87.0" y="2408.5" font-size="45" textLength="419.0" lengthAdjust="spacingAndGlyphs" transform="rotate(-90 87.0 2408.5)" text-anchor="middle">CD27 PerCP-Cy5-5-A</text>
<rect x="174.0" y="2364.0" width="232.0" height="150.0" fill="none" stroke="#000" stroke-width="3.4"/>
<text x="278.0" y="2337.0" font-size="38" textLength="64.0" lengthAdjust="spacingAndGlyphs">NS1</text>
<ellipse cx="1045" cy="2415" rx="50" ry="60" fill="#fdf2e0" opacity="1" filter="url(#b8)"/>
<path transform="translate(880.00 2229.85) scale(3.7)" d="M44 0h1m-12 1h1m13 2h1m-11 5h1m6 0h1m7 0h1m-10 1h1m2 0h1m-8 2h1m11 0h1m2 0h1m-38 1h1m16 0h1m13 0h1m1 0h1m2 0h1m-30 1h1m3 0h1m-6 1h2m2 0h1m1 0h1m6 0h1m8 0h2m1 0h1m-32 1h1m5 0h3m1 0h2m3 0h1m1 0h1m1 0h2m2 0h2m4 0h1m3 0h2m-32 1h2m1 0h1m1 0h4m3 0h1m1 0h3m1 0h2m5 0h2m3 0h1m8 0h1m-42 1h2m2 0h2m1 0h1m1 0h3m1 0h1m10 0h4m1 0h1m-31 1h3m3 0h4m2 0h3m1 0h5m3 0h1m11 0h1m2 0h1m-43 1h2m2 0h1m1 0h4m1 0h10m1 0h3m1 0h1m3 0h4m9 0h1m-47 1h1m1 0h1m2 0h5m1 0h1m1 0h5m1 0h5m1 0h2m2 0h3m2 0h3m1 0h2m3 0h1m-43 1h1m1 0h20m2 0h2m2 0h1m1 0h1m2 0h4m3 0h1m-44 1h1m3 0h3m1 0h10m1 0h1m1 0h9m2 0h1m1 0h1m2 0h1m1 0h1m12 0h1m-50 1h2m1 0h8m1 0h13m1 0h2m2 0h1m1 0h3m2 0h1m1 0h1m11 0h1m-53 1h3m2 0h1m1 0h10m1 0h12m1 0h3m1 0h4m10 0h2m-48 1h10m1 0h5m1 0h7m1 0h6m1 0h2m-37 1h1m1 0h1m1 0h8m1 0h2m3 0h3m1 0h3m1 0h2m1 0h1m2 0h3m4 0h1m2 0h1m-44 1h2m4 0h2m1 0h5m1 0h10m1 0h1m1 0h6m2 0h1m1 0h1m-39 1h1m1 0h12m1 0h1m1 0h1m1 0h1m1 0h6m1 0h5m2 0h1m2 0h2m-42 1h1m1 0h1m1 0h16m1 0h2m1 0h9m1 0h1m1 0h1m2 0h2m-38 1h8m1 0h3m1 0h5m1 0h9m4 0h2m3 0h1m1 0h1m-44 1h1m2 0h15m1 0h11m1 0h1m1 0h2m2 0h1m1 0h2m3 0h1m-42 1h2m1 0h22m3 0h1m8 0h1m1 0h1m-41 1h1m1 0h22m3 0h1m15 0h1m-41 1h1m1 0h4m1 0h7m1 0h2m1 0h2m1 0h2m5 0h2m1 0h1m6 0h1m7 0h1m-48 1h2m1 0h2m1 0h4m2 0h4m2 0h5m6 0h1m6 0h1m3 0h1m-41 1h1m1 0h2m1 0h1m1 0h6m1 0h6m1 0h1m14 0h1m2 0h1m-41 1h1m2 0h2m1 0h12m1 0h2m2 0h1m1 0h1m1 0h2m13 0h2m-41 1h2m1 0h6m1 0h8m6 0h1m4 0h1m5 0h1m3 0h1m-38 1h6m1 0h4m1 0h4m2 0h1m4 0h1m9 0h2m-37 1h3m1 0h8m1 0h2m1 0h2m26 0h1m-44 1h1m3 0h3m1 0h3m2 0h4m6 0h1m-24 1h1m1 0h4m1 0h6m1 0h3m4 0h1m6 0h1m6 0h1m4 0h1m-39 1h2m1 0h3m1 0h2m1 0h5m14 0h1m-30 1h2m2 0h1m2 0h1m1 0h1m1 0h1m2 0h1m4 0h1m1 0h1m9 0h1m4 0h1m4 0h2m-43 1h1m1 0h1m4 0h6m1 0h1m1 0h1m8 0h1m-37 1h1m13 0h2m8 0h1m19 0h1m-42 1h1m7 0h1m1 0h1m2 0h1m1 0h4m5 0h1m-16 1h4m3 0h1m2 0h2m2 0h1m1 0h1m21 0h1m-49 1h1m2 0h1m2 0h3m3 0h1m1 0h1m1 0h1m3 0h2m24 0h1m3 0h1m-46 1h1m5 0h1m1 0h2m2 0h1m1 0h3m4 0h1m10 0h1m7 0h1m-38 1h1m2 0h1m6 0h4m3 0h1m-23 1h1m4 0h2m3 0h1m1 0h4m1 0h2m8 0h1m-21 1h1m3 0h1m2 0h3m3 0h1m4 0h1m13 0h1m8 0h1m-46 1h1m1 0h1m1 0h3m5 0h1m1 0h2m1 0h1m-30 1h1m23 0h1m2 0h2m-25 1h1m12 0h2m1 0h1m2 0h3m4 0h1m10 0h1m-38 1h1m3 0h1m14 0h1m1 0h3m-12 1h1m7 0h2m1 0h1m4 0h1m-20 1h1m20 0h1m-13 1h1m24 0h2m-47 1h1m15 0h2m6 1h1m6 0h2m8 0h1m-18 1h1m4 0h1m-14 1h1m4 1h3m-10 1h1m3 0h1m2 0h2m1 0h2m4 0h5m1 0h1m4 0h1m-32 1h1m6 0h2m1 0h3m1 0h4m1 0h1m1 0h1m3 0h2m1 0h2m-29 1h2m4 0h2m3 0h3m1 0h8m3 0h1m2 0h2m-31 1h3m3 0h6m1 0h2m1 0h1m1 0h5m1 0h4m2 0h3m14 0h1m-46 1h3m1 0h6m1 0h4m3 0h2m1 0h3m3 0h2m1 0h1m1 0h1m-39 1h1m1 0h3m1 0h7m1 0h5m1 0h1m1 0h5m3 0h6m2 0h2m2 0h1m-52 1h1m8 0h1m1 0h1m1 0h7m1 0h1m1 0h2m2 0h13m3 0h7m-41 1h1m2 0h2m2 0h4m1 0h1m1 0h9m1 0h2m1 0h1m1 0h3m1 0h3m-35 1h1m2 0h9m1 0h7m1 0h4m1 0h1m1 0h1m1 0h8m1 0h1m5 0h1m-45 1h6m1 0h6m1 0h7m2 0h1m1 0h1m1 0h6m2 0h2m1 0h2m-51 1h1m6 0h2m1 0h3m1 0h3m1 0h7m1 0h1m1 0h9m1 0h2m1 0h5m1 0h5m-42 1h11m1 0h3m1 0h4m1 0h4m1 0h2m2 0h1m1 0h1m2 0h4m1 0h1m1 0h3m-48 1h3m1 0h2m1 0h3m2 0h1m1 0h1m1 0h6m1 0h8m1 0h1m2 0h5m1 0h7m-47 1h3m1 0h7m2 0h6m1 0h2m1 0h4m1 0h1m1 0h6m1 0h1m1 0h4m3 0h1m-47 1h3m1 0h5m2 0h2m1 0h2m1 0h17m1 0h2m1 0h1m1 0h2m1 0h1m1 0h1m-45 1h8m3 0h14m1 0h4m1 0h5m2 0h3m2 0h2m-51 1h1m3 0h2m2 0h10m1 0h6m2 0h3m1 0h1m3 0h13m2 0h1m-51 1h1m1 0h1m2 0h1m1 0h6m2 0h5m2 0h4m1 0h2m1 0h3m1 0h1m1 0h1m1 0h2m1 0h1m1 0h8m-47 1h4m1 0h9m1 0h3m1 0h11m1 0h3m1 0h3m1 0h1m2 0h1m-42 1h1m1 0h1m1 0h8m1 0h3m1 0h1m1 0h5m1 0h2m1 0h12m1 0h2m-39 1h4m1 0h4m1 0h1m1 0h7m1 0h5m1 0h2m1 0h6m2 0h1m1 0h1m4 0h1m-49 1h1m1 0h12m2 0h5m1 0h3m1 0h14m-39 1h2m1 0h4m1 0h5m1 0h1m1 0h4m1 0h2m1 0h6m1 0h5m1 0h1m2 0h1m1 0h1m-47 1h1m3 0h1m1 0h1m3 0h4m1 0h8m2 0h1m1 0h8m2 0h4m1 0h1m1 0h1m1 0h2m1 0h1m-45 1h1m2 0h4m1 0h20m1 0h2m1 0h3m1 0h2m1 0h1m-39 1h1m1 0h3m1 0h2m1 0h4m1 0h5m1 0h7m1 0h1m1 0h1m1 0h1m1 0h1m1 0h1m1 0h1m2 0h1m-48 1h1m7 0h1m1 0h6m1 0h2m1 0h1m1 0h1m2 0h1m1 0h2m1 0h1m1 0h3m2 0h3m2 0h2m-47 1h1m11 0h1m2 0h2m3 0h2m1 0h4m2 0h9m3 0h1m-27 1h4m5 0h3m3 0h2m1 0h2m1 0h2m1 0h3m1 0h1m-27 1h5m3 0h4m6 0h1m2 0h2m-34 1h1m6 0h1m7 0h3m2 0h2m1 0h1m1 0h2m2 0h1m3 0h1m-21 1h1m7 0h3m3 0h3m14 0h1m-32 1h1m4 0h1m2 0h1m1 0h1m4 0h1m-9 1h1m3 0h1m1 0h1m3 0h1m-30 1h1m18 0h1m4 0h1m-16 2h1m27 0h1m-19 2h1m5 0h1m4 0h1m-4 1h1" stroke="#000" stroke-width="1" fill="none"/>
<path transform="translate(880.00 2229.85) scale(3.7)" d="M42 32h1m2 0h1m-12 1h1m3 0h1m1 0h1m3 0h1m9 0h1m-23 1h1m2 0h3m-3 1h1m5 0h1m2 0h2m2 0h1m-18 1h1m2 0h1m2 0h1m4 0h1m1 0h1m1 0h1m-15 1h1m10 0h2m2 0h1m-14 1h3m1 0h1m2 0h1m3 0h3m-17 1h2m1 0h1m2 0h1m4 0h1m2 0h1m1 0h1m-16 1h1m2 0h1m3 0h1m1 0h2m2 0h4m-15 1h1m3 0h1m1 0h5m3 0h2m-18 1h1m1 0h1m1 0h1m1 0h4m1 0h2m3 0h1m-17 1h2m1 0h3m1 0h2m1 0h1m1 0h1m1 0h1m2 0h1m-11 1h1m1 0h5m5 0h1m-19 1h1m1 0h1m1 0h4m2 0h1m5 0h1m-19 1h1m1 0h10m4 0h1m3 0h1m-21 1h1m1 0h4m3 0h2m1 0h1m4 0h1m4 0h1m-22 1h1m2 0h1m1 0h2m1 0h1m2 0h2m2 0h1m-17 1h1m1 0h1m1 0h1m1 0h5m1 0h5m3 0h2m-23 1h2m2 0h2m1 0h7m1 0h1m-15 1h1m2 0h5m1 0h1m1 0h1m6 0h1m-20 1h1m1 0h2m1 0h1m3 0h7m1 0h1m-17 1h1m1 0h1m2 0h10m1 0h2m-18 1h1m3 0h1m3 0h1m2 0h1m1 0h2m5 0h1m-17 1h2m2 0h1m4 0h2m1 0h2m-12 1h3m1 0h1m1 0h1m9 0h1m-17 1h2m2 0h1m1 0h2m2 0h1m1 0h1m-15 1h1m3 0h1m2 0h1m2 0h2m4 0h1m-14 1h1m1 0h1m1 0h1m3 0h1m2 0h1m-11 1h3m1 0h1m-7 1h1m4 0h1m2 0h1m2 0h1m-11 1h1m1 0h1m5 0h1m4 0h1m-13 1h1m4 0h2m-8 1h1m4 0h1m4 0h1m-3 1h1" stroke="#f0a030" stroke-width="1" fill="none"/>
<path transform="translate(880.00 2229.85) scale(3.7)" d="M51 30h1m12 0h1m-20 1h1m8 1h1m-6 1h1m-3 1h1m0 2h1m10 0h1m-26 1h1m6 0h1m6 0h1m5 0h1m-5 2h1m4 0h1m4 0h1m-18 1h1m8 0h1m-8 1h1m5 0h1m8 0h1m-16 1h1m5 0h1m4 0h1m5 0h1m-32 1h1m9 0h1m20 0h1m1 0h1m-31 1h1m5 0h1m7 0h1m10 0h1m-16 1h2m2 0h1m1 0h1m4 0h1m2 0h1m-11 1h1m1 0h1m3 0h1m1 0h1m-20 1h1m4 0h1m4 0h1m1 0h1m6 0h1m-18 1h1m1 0h1m-6 1h1m5 0h1m5 0h2m13 0h1m-17 1h1m3 0h1m1 0h1m-21 1h1m24 0h1m-21 1h1m13 0h1m23 0h1m-31 1h1m-13 1h1m2 0h1m5 0h1m2 0h1m2 0h1m3 0h1m-16 1h1m1 0h1m8 0h1m2 0h2m4 0h2m-16 1h1m6 0h1m-12 1h1m7 0h1m3 0h1m-19 1h1m1 0h1m4 0h1m1 0h1m3 0h1m7 0h1m-20 1h1m20 0h1m-1 1h1m2 0h1m-15 1h1m2 0h1m1 0h1m11 1h1m-18 1h1m1 0h1m16 0h1m-19 1h1m-6 2h2m1 1h1m2 2h1m13 0h1" stroke="#f8c888" stroke-width="1" fill="none"/>
<path transform="translate(880.00 2229.85) scale(3.7)" d="M49 34h1m-6 5h1m18 3h1m-16 1h1m7 1h1m-12 3h1m11 1h1m3 0h1m2 1h1m-7 1h1m-16 1h1m4 0h1m2 0h1m3 0h1m-10 1h1m6 0h1m-3 1h1m12 0h1m-27 1h1m11 0h1m3 0h1m11 0h1m-31 2h1m10 0h1m9 0h1m2 0h1m-13 2h2m3 0h1m8 0h1m8 0h1m-29 1h2m3 0h1m9 1h1m-19 1h1m3 0h1m2 0h1m2 1h1m-10 1h1m8 0h1m-11 1h1m15 0h2m1 1h1m-13 1h1m10 0h1m-13 1h1m8 2h1" stroke="#d8a878" stroke-width="1" fill="none"/>
<rect x="880.0" y="2228.0" width="491.0" height="393.0" fill="none" stroke="#000" stroke-width="3.7"/>
<path d="M880.0 2327.8h-17.0M880.0 2312.1h-17.0M880.0 2301.0h-17.0M880.0 2292.4h-17.0M880.0 2285.3h-17.0M880.0 2279.4h-17.0M880.0 2274.2h-17.0M880.0 2269.7h-17.0M880.0 2418.7h-17.0M880.0 2402.5h-17.0M880.0 2391.1h-17.0M880.0 2382.2h-17.0M880.0 2374.9h-17.0M880.0 2368.8h-17.0M880.0 2363.5h-17.0M880.0 2358.8h-17.0M880.0 2452.0h-17.0M880.0 2454.0h-17.0M880.0 2463.0h-17.0M880.0 2465.0h-17.0M880.0 2467.0h-17.0M880.0 2479.0h-17.0M880.0 2482.0h-17.0M880.0 2486.5h-17.0M880.0 2501.0h-17.0M880.0 2516.0h-17.0M880.0 2608.0h-17.0" stroke="#000" stroke-width="3.7"/>
<path d="M880.0 2265.6h-31.0M880.0 2354.6h-31.0M880.0 2446.3h-31.0M880.0 2538.0h-31.0M880.0 2559.5h-31.0M880.0 2561.5h-31.0M880.0 2563.5h-31.0M880.0 2581.0h-31.0" stroke="#000" stroke-width="3.7"/>
<line x1="849.0" y1="2621.0" x2="1372.8" y2="2621.0" stroke="#000" stroke-width="3.7"/>
<path d="M898.0 2621.0v19.0M1018.5 2621.0v19.0M1039.3 2621.0v19.0M1054.0 2621.0v19.0M1065.5 2621.0v19.0M1074.8 2621.0v19.0M1082.7 2621.0v19.0M1089.6 2621.0v19.0M1095.6 2621.0v19.0M1134.3 2621.0v19.0M1153.7 2621.0v19.0M1167.5 2621.0v19.0M1178.2 2621.0v19.0M1187.0 2621.0v19.0M1194.4 2621.0v19.0M1200.8 2621.0v19.0M1206.4 2621.0v19.0M1244.8 2621.0v19.0M1264.2 2621.0v19.0M1278.0 2621.0v19.0M1288.7 2621.0v19.0M1297.5 2621.0v19.0M1304.9 2621.0v19.0M1311.3 2621.0v19.0M1316.9 2621.0v19.0" stroke="#000" stroke-width="3.7"/>
<path d="M880.0 2621.0v34.0M937.0 2621.0v34.0M940.5 2621.0v34.0M944.0 2621.0v34.0M983.0 2621.0v34.0M1101.0 2621.0v34.0M1211.5 2621.0v34.0M1322.0 2621.0v34.0" stroke="#000" stroke-width="3.7"/>
<text x="1018.0" y="2725.0" font-size="44" textLength="210.0" lengthAdjust="spacingAndGlyphs">IgM APC-A</text>
<rect x="1368.0" y="2336.0" width="4" height="3.7" fill="#000"/>
<text x="792.0" y="2411.5" font-size="45" textLength="177.0" lengthAdjust="spacingAndGlyphs" transform="rotate(-90 792.0 2411.5)" text-anchor="middle">IgD PE-A</text>
<polyline points="1098.0,2301.0 1120.0,2289.0 1194.0,2370.0 1194.0,2399.0 1189.0,2402.0 1188.0,2456.0 1187.0,2483.0 1151.0,2503.0 1137.0,2508.0 1120.0,2509.0 1104.0,2504.0 1079.0,2496.0" fill="none" stroke="#000" stroke-width="3.2" stroke-linejoin="miter"/>
<text x="1233.0" y="2399.0" font-size="38" textLength="66.0" lengthAdjust="spacingAndGlyphs">NS2</text>
<ellipse cx="330" cy="3060" rx="100" ry="70" fill="#fcf0fc" opacity="1" filter="url(#b10)"/>
<path transform="translate(184.00 2815.85) scale(3.7)" d="M106 30h1m5 0h1m-15 1h1m8 0h1m3 0h1m-19 1h1m2 0h1m9 0h2m1 0h1m-23 1h1m11 0h1m2 0h2m4 0h2m-24 1h1m2 0h1m3 0h1m2 0h3m2 0h2m1 0h2m3 0h2m-17 1h1m1 0h1m1 0h1m2 0h1m6 0h3m4 0h1m-25 1h2m4 0h7m1 0h3m1 0h2m-18 1h8m1 0h4m1 0h1m-21 1h2m3 0h16m1 0h1m-27 1h1m2 0h1m1 0h1m1 0h1m1 0h18m-21 1h4m1 0h16m1 0h1m1 0h1m-31 1h1m2 0h1m1 0h23m1 0h1m3 0h1m-35 1h1m1 0h1m3 0h25m3 0h1m-31 1h10m1 0h10m1 0h1m2 0h3m1 0h1m-30 1h1m1 0h2m1 0h23m5 0h1m-57 1h1m13 0h1m6 0h3m1 0h18m1 0h5m1 0h1m-33 1h1m2 0h1m1 0h1m1 0h20m4 0h1m-37 1h1m5 0h1m2 0h1m1 0h21m3 0h1m-38 1h1m3 0h1m4 0h1m4 0h19m1 0h1m1 0h1m10 0h1m-44 1h1m3 0h1m2 0h2m1 0h13m1 0h4m1 0h1m-82 1h1m3 0h1m37 0h1m16 0h3m1 0h13m1 0h5m2 0h1m4 0h1m-51 1h1m19 0h2m1 0h1m1 0h3m1 0h3m1 0h4m3 0h1m1 0h1m-108 1h2m25 0h1m3 0h1m3 0h1m4 0h1m6 0h1m11 0h1m17 0h1m1 0h1m1 0h1m2 0h1m1 0h3m1 0h2m1 0h7m1 0h1m1 0h2m-104 1h1m15 0h1m3 0h1m14 0h1m2 0h1m1 0h1m1 0h1m36 0h1m2 0h1m1 0h1m2 0h11m2 0h1m4 0h2m6 0h1m-114 1h1m16 0h2m2 0h1m12 0h1m3 0h1m11 0h1m20 0h1m5 0h1m2 0h1m1 0h1m6 0h1m1 0h2m1 0h2m1 0h3m1 0h2m-83 1h1m2 0h1m4 0h1m32 0h1m18 0h1m5 0h1m2 0h1m1 0h3m1 0h1m3 0h1m1 0h1m-102 1h1m9 0h1m5 0h1m13 0h1m2 0h1m1 0h1m1 0h1m39 0h1m2 0h2m1 0h1m2 0h1m3 0h1m5 0h4m-101 1h1m9 0h1m16 0h1m5 0h1m1 0h1m1 0h1m26 0h1m2 0h1m3 0h1m5 0h1m9 0h1m2 0h1m2 0h2m4 0h2m5 0h1m-87 1h1m2 0h1m1 0h1m6 0h2m34 0h1m6 0h1m5 0h1m3 0h1m5 0h2m1 0h1m1 0h1m11 0h1m-93 1h2m7 0h4m4 0h1m17 0h1m12 0h1m6 0h3m15 0h1m1 0h1m6 0h1m17 0h1m12 0h1m-110 1h5m6 0h1m2 0h1m1 0h2m4 0h1m3 0h1m2 0h2m7 0h1m3 0h1m14 0h1m15 0h1m6 0h2m-84 1h1m4 0h1m3 0h1m1 0h1m1 0h1m1 0h1m64 0h1m-90 1h1m6 0h1m1 0h2m1 0h3m2 0h2m2 0h1m1 0h1m6 0h1m5 0h2m24 0h1m22 0h1m-94 1h1m11 0h1m4 0h2m6 0h1m1 0h1m1 0h2m1 0h1m3 0h1m2 0h1m9 0h1m1 0h1m1 0h1m9 0h1m9 0h1m2 0h1m15 0h1m7 0h1m10 0h1m-101 1h2m1 0h2m1 0h1m2 0h1m8 0h1m2 0h1m25 0h2m19 0h2m1 0h1m2 0h1m-87 1h1m2 0h1m9 0h5m4 0h1m2 0h1m1 0h1m3 0h1m8 0h1m3 0h1m2 0h1m5 0h1m4 0h1m5 0h1m15 0h1m19 0h1m4 0h1m2 0h1m-108 1h1m9 0h1m1 0h1m3 0h1m2 0h1m11 0h1m4 0h3m8 0h1m1 0h1m1 0h1m17 0h2m7 0h1m3 0h1m5 0h1m16 0h1m-107 1h1m6 0h1m2 0h1m2 0h1m1 0h1m1 0h1m4 0h1m10 0h2m8 0h3m1 0h1m2 0h1m12 0h1m6 0h1m8 0h1m2 0h1m7 0h1m-91 1h1m8 0h1m11 0h1m3 0h1m5 0h1m6 0h1m12 0h1m1 0h1m8 0h1m3 0h1m3 0h1m1 0h1m8 0h1m-82 1h2m1 0h1m4 0h1m6 0h2m2 0h1m1 0h1m1 0h1m1 0h1m1 0h3m1 0h1m2 0h1m1 0h1m1 0h1m5 0h1m4 0h1m1 0h1m1 0h2m18 0h1m6 0h1m1 0h1m19 0h1m-103 1h2m6 0h1m3 0h1m1 0h1m4 0h2m2 0h1m5 0h1m1 0h2m10 0h1m7 0h1m1 0h1m2 0h2m11 0h1m2 0h1m2 0h1m5 0h1m1 0h1m1 0h1m3 0h1m-90 1h2m3 0h1m3 0h1m5 0h1m10 0h1m2 0h1m21 0h1m3 0h1m11 0h1m5 0h1m1 0h1m3 0h1m5 0h1m7 0h1m5 0h1m-99 1h1m1 0h2m6 0h1m1 0h1m1 0h3m2 0h1m3 0h1m1 0h1m4 0h1m2 0h1m6 0h1m31 0h1m15 0h1m-89 1h1m3 0h1m2 0h1m5 0h1m2 0h1m3 0h1m1 0h1m2 0h2m3 0h3m3 0h1m2 0h3m3 0h1m4 0h1m3 0h1m18 0h1m3 0h1m7 0h1m8 0h1m9 0h1m-106 1h2m3 0h1m4 0h3m2 0h1m1 0h1m1 0h3m1 0h1m3 0h1m1 0h1m2 0h3m3 0h3m2 0h1m6 0h1m2 0h2m3 0h1m1 0h1m11 0h1m4 0h1m26 0h1m-105 1h2m4 0h5m7 0h1m4 0h1m1 0h2m1 0h2m2 0h3m1 0h1m3 0h1m1 0h1m5 0h1m2 0h1m1 0h1m11 0h1m4 0h1m10 0h1m2 0h1m13 0h1m-98 1h1m4 0h2m1 0h1m1 0h2m1 0h5m2 0h1m1 0h2m1 0h1m6 0h1m5 0h1m5 0h3m7 0h1m5 0h1m6 0h1m2 0h1m2 0h1m2 0h1m7 0h1m11 0h1m-98 1h1m4 0h1m3 0h2m1 0h1m2 0h1m8 0h3m1 0h2m1 0h1m1 0h2m1 0h2m1 0h2m1 0h1m1 0h1m1 0h2m7 0h2m12 0h1m1 0h1m1 0h1m26 0h1m-101 1h2m3 0h1m2 0h1m3 0h1m5 0h2m2 0h1m10 0h1m2 0h1m1 0h2m3 0h1m3 0h1m10 0h1m2 0h1m16 0h1m2 0h1m10 0h1m-93 1h3m2 0h3m2 0h1m1 0h2m4 0h5m1 0h3m1 0h1m1 0h3m5 0h1m1 0h1m1 0h1m4 0h1m5 0h2m4 0h1m9 0h1m2 0h1m3 0h2m9 0h1m1 0h1m-90 1h1m3 0h1m5 0h2m3 0h4m2 0h1m2 0h2m3 0h1m1 0h3m2 0h1m3 0h2m1 0h3m2 0h1m3 0h1m7 0h1m1 0h2m5 0h1m4 0h1m1 0h1m9 0h1m9 0h1m-97 1h2m4 0h1m1 0h1m1 0h1m2 0h7m3 0h1m2 0h1m1 0h1m2 0h1m1 0h1m2 0h2m2 0h1m1 0h3m2 0h3m1 0h2m4 0h2m8 0h1m4 0h2m5 0h1m1 0h1m4 0h3m3 0h1m-92 1h2m4 0h1m4 0h2m2 0h5m4 0h5m3 0h1m1 0h2m1 0h1m1 0h1m4 0h1m2 0h1m5 0h1m2 0h1m1 0h1m2 0h1m1 0h1m5 0h1m5 0h1m1 0h1m13 0h1m-93 1h3m2 0h2m1 0h1m3 0h2m3 0h2m3 0h1m5 0h1m3 0h2m4 0h1m1 0h1m3 0h1m1 0h2m1 0h1m1 0h1m3 0h1m18 0h1m4 0h1m3 0h1m-84 1h3m5 0h5m2 0h1m1 0h1m3 0h1m1 0h1m1 0h4m1 0h3m1 0h2m1 0h2m1 0h1m2 0h3m1 0h1m3 0h2m3 0h1m5 0h2m2 0h1m2 0h2m2 0h2m6 0h1m2 0h1m-85 1h2m1 0h1m3 0h1m4 0h1m2 0h1m9 0h3m1 0h1m1 0h2m1 0h1m4 0h1m2 0h2m2 0h2m3 0h2m1 0h1m2 0h1m3 0h1m1 0h1m2 0h1m3 0h1m22 0h1m-94 1h1m2 0h1m1 0h2m5 0h1m2 0h2m1 0h3m2 0h2m1 0h1m2 0h1m1 0h5m1 0h1m1 0h1m2 0h5m4 0h1m9 0h1m5 0h1m7 0h2m7 0h1m-84 1h3m10 0h1m4 0h1m1 0h2m7 0h7m1 0h2m2 0h4m2 0h1m3 0h1m1 0h1m4 0h1m6 0h1m5 0h1m6 0h1m11 0h1m-92 1h2m7 0h1m8 0h1m2 0h1m2 0h2m3 0h2m1 0h3m2 0h1m1 0h3m2 0h3m2 0h2m1 0h3m2 0h3m2 0h1m3 0h1m-65 1h1m1 0h1m3 0h2m3 0h1m1 0h2m1 0h1m3 0h1m2 0h1m2 0h2m1 0h8m3 0h2m3 0h3m3 0h1m12 0h1m4 0h1m4 0h1m3 0h1m-80 1h1m2 0h1m1 0h1m6 0h1m3 0h2m2 0h1m4 0h4m2 0h3m1 0h7m2 0h2m1 0h1m1 0h1m1 0h2m1 0h1m6 0h1m6 0h1m2 0h1m7 0h2m12 0h1m-84 1h1m1 0h3m1 0h1m1 0h1m4 0h3m2 0h2m1 0h1m3 0h3m1 0h1m2 0h1m2 0h1m1 0h2m2 0h1m1 0h1m21 0h1m10 0h1m-81 1h1m6 0h2m4 0h1m3 0h5m6 0h3m6 0h2m1 0h4m1 0h1m1 0h2m10 0h2m12 0h1m6 0h1m-82 1h2m9 0h3m1 0h3m2 0h1m2 0h1m2 0h6m1 0h1m4 0h1m8 0h3m2 0h2m2 0h1m4 0h1m1 0h1m6 0h1m3 0h1m-80 1h1m5 0h1m3 0h2m3 0h1m2 0h2m2 0h2m1 0h1m3 0h5m1 0h1m1 0h3m2 0h2m1 0h1m4 0h1m6 0h1m3 0h1m17 0h1m2 0h1m-84 1h1m12 0h1m3 0h1m4 0h2m4 0h1m2 0h4m1 0h2m1 0h2m11 0h2m1 0h1m3 0h1m13 0h1m-74 1h2m3 0h1m3 0h1m3 0h2m1 0h1m1 0h1m5 0h1m3 0h2m1 0h3m1 0h2m1 0h7m2 0h1m1 0h2m3 0h1m14 0h3m2 0h1m4 0h1m-74 1h1m2 0h3m3 0h2m1 0h2m3 0h3m1 0h4m2 0h6m2 0h1m3 0h1m7 0h1m6 0h2m5 0h1m6 0h1m3 0h1m-79 1h2m2 0h1m6 0h3m1 0h1m2 0h3m1 0h1m3 0h4m1 0h5m1 0h1m2 0h2m1 0h2m1 0h4m2 0h2m10 0h1m-65 1h2m5 0h1m5 0h1m1 0h1m2 0h3m1 0h1m2 0h1m1 0h1m1 0h2m1 0h6m1 0h1m1 0h2m1 0h4m4 0h1m13 0h1m11 0h1m9 0h1m-89 1h1m12 0h1m7 0h1m1 0h2m2 0h1m1 0h4m3 0h1m2 0h2m1 0h1m2 0h2m1 0h1m1 0h1m24 0h1m2 0h1m-79 1h2m12 0h1m1 0h1m1 0h1m2 0h3m1 0h1m2 0h1m1 0h2m1 0h3m1 0h1m3 0h3m5 0h2m23 0h1m-75 1h2m16 0h2m5 0h1m1 0h5m2 0h1m3 0h1m1 0h1m1 0h4m2 0h1m1 0h1m1 0h1m18 0h2m3 0h1m13 0h1m-91 1h1m12 0h1m1 0h2m2 0h1m2 0h1m5 0h5m3 0h2m1 0h3m1 0h4m2 0h1m2 0h2m24 0h1m9 0h1m-88 1h1m12 0h1m2 0h2m2 0h2m3 0h1m3 0h3m1 0h1m1 0h1m1 0h2m1 0h2m5 0h1m1 0h1m3 0h1m2 0h1m1 0h1m16 0h1m3 0h1m-74 1h1m2 0h1m1 0h2m4 0h1m2 0h1m2 0h1m1 0h1m1 0h1m2 0h2m1 0h5m3 0h1m5 0h1m4 0h1m1 0h1m4 0h1m1 0h1m13 0h1" stroke="#000" stroke-width="1" fill="none"/>
<path transform="translate(184.00 2815.85) scale(3.7)" d="M17 43h1m-8 1h1m21 0h1m5 0h1m-9 1h1m10 0h1m-22 1h1m1 0h1m18 0h1m-22 1h1m8 0h1m4 0h1m14 0h1m-32 1h1m11 0h2m5 0h1m1 0h1m2 0h1m-21 1h1m10 0h1m6 0h1m5 0h1m1 0h1m-45 1h1m3 0h1m12 0h1m15 0h1m1 0h1m6 0h1m9 0h1m7 0h1m-34 1h1m3 0h1m1 0h1m15 0h1m2 0h2m2 0h1m-44 1h1m6 0h1m3 0h1m1 0h1m1 0h1m8 0h1m6 0h1m-47 1h1m6 0h1m2 0h1m17 0h1m3 0h1m13 0h1m-33 1h2m5 0h1m21 0h1m8 0h1m2 0h1m-40 1h1m8 0h1m27 0h1m2 0h1m-20 1h1m3 0h1m3 0h1m1 0h1m1 0h1m6 0h1m4 0h1m-61 1h1m17 0h1m6 0h1m7 0h1m1 0h1m1 0h1m7 0h1m7 0h1m-53 1h1m14 0h1m8 0h1m2 0h1m3 0h1m4 0h1m2 0h1m1 0h1m1 0h1m2 0h1m1 0h1m1 0h1m-32 1h1m10 0h1m3 0h2m1 0h2m9 0h1m6 0h1m3 0h1m-55 1h1m16 0h1m2 0h1m8 0h3m4 0h1m-27 1h2m3 0h1m1 0h1m5 0h1m8 0h1m1 0h1m4 0h1m15 0h1m-55 1h4m6 0h1m4 0h1m7 0h2m1 0h1m5 0h1m13 0h1m4 0h1m1 0h2m-50 1h1m9 0h1m8 0h2m2 0h1m3 0h2m3 0h1m1 0h1m3 0h1m1 0h1m4 0h1m-42 1h1m3 0h1m4 0h1m9 0h2m2 0h1m4 0h1m3 0h1m2 0h1m7 0h1m-40 1h1m2 0h1m1 0h1m6 0h2m2 0h1m1 0h1m4 0h1m1 0h1m5 0h1m4 0h2m2 0h1m-46 1h1m2 0h1m1 0h1m3 0h1m7 0h1m6 0h2m1 0h2m2 0h1m1 0h1m2 0h2m2 0h1m6 0h1m-61 1h1m14 0h2m8 0h1m1 0h1m4 0h1m26 0h1m-48 1h1m10 0h2m4 0h1m1 0h1m3 0h1m1 0h1m2 0h1m1 0h1m1 0h2m5 0h1m2 0h1m5 0h1m-55 1h2m1 0h1m3 0h1m3 0h1m14 0h1m3 0h1m3 0h1m16 0h1m-60 1h1m20 0h2m2 0h1m17 0h2m4 0h1m5 0h2m3 0h1m-56 1h1m4 0h1m3 0h1m2 0h1m4 0h1m1 0h2m2 0h1m3 0h1m4 0h1m1 0h1m5 0h2m3 0h1m4 0h1m1 0h1m2 0h1m1 0h1m-45 1h1m3 0h1m1 0h1m2 0h1m6 0h2m5 0h2m2 0h1m5 0h1m2 0h2m5 0h1m-62 1h1m2 0h1m6 0h1m8 0h1m6 0h1m9 0h1m3 0h1m3 0h1m6 0h1m2 0h2m3 0h1m-38 1h1m10 0h1m4 0h2m4 0h2m6 0h1m6 0h1m-51 1h1m3 0h1m2 0h1m4 0h1m6 0h1m6 0h1m2 0h1m1 0h1m5 0h1m-20 1h2m3 0h2m3 0h2m9 0h1m1 0h2m3 0h1m-53 1h1m4 0h1m5 0h1m3 0h1m10 0h1m2 0h1m2 0h1m2 0h1m6 0h3m2 0h1m10 0h1m-48 1h1m7 0h1m4 0h3m1 0h1m14 0h2m4 0h1m1 0h1m1 0h1m-27 1h1m7 0h1m1 0h1m11 0h1m1 0h1m-28 1h1m18 0h1m4 0h1m10 0h1m-27 1h1m1 0h1m11 0h1m1 0h1m4 0h1m-37 1h1m7 0h1m10 0h1m2 0h1m2 0h1m5 0h1m-49 1h1m15 0h5m2 0h1m3 0h1m2 0h1m1 0h1m2 0h1m11 0h1m-26 1h1m24 0h1m5 0h1m-23 1h1m5 0h1m4 0h2m-47 1h1m36 0h1m7 0h1m-24 1h1m10 0h1m-15 1h1m12 0h1m5 0h2m17 0h1m-57 1h1m6 0h1m7 0h1m23 0h1m10 0h2m1 0h1m-12 1h1m3 0h1m-50 1h1m17 0h1m36 0h1m-20 1h2m-10 1h1m-9 1h1m18 1h1m1 0h2m-11 1h1m2 0h1" stroke="#b830b8" stroke-width="1" fill="none"/>
<path transform="translate(184.00 2815.85) scale(3.7)" d="M49 43h1m-17 1h1m13 0h1m6 0h1m-2 2h1m2 1h1m-11 1h1m10 0h1m7 0h1m-25 1h1m9 0h1m2 0h1m9 0h1m-36 1h1m-9 1h1m7 0h1m31 0h1m-11 1h1m-27 1h2m10 0h1m4 0h1m4 0h1m5 0h2m-27 1h2m2 0h1m3 0h2m4 0h2m11 0h1m7 0h1m-36 1h1m2 0h1m1 0h1m5 0h2m11 0h1m3 0h1m-15 1h1m3 0h1m-22 1h1m5 0h2m1 0h1m6 0h1m2 0h1m1 0h1m4 0h1m2 0h1m5 0h1m-32 1h1m7 0h1m1 0h1m2 0h1m3 0h1m8 0h1m-19 1h1m2 0h1m2 0h5m6 0h1m-36 1h1m15 0h1m12 0h1m10 0h1m-35 1h1m2 0h1m6 0h1m2 0h2m6 0h2m7 0h1m3 0h1m-32 1h1m2 0h1m5 0h1m2 0h1m6 0h1m-9 1h1m1 0h1m2 0h2m-6 1h2m1 0h4m-15 1h1m9 0h1m2 0h1m5 0h2m3 0h1m-38 1h1m13 0h1m2 0h1m3 0h2m5 0h1m9 0h1m-23 1h1m5 0h1m7 0h1m1 0h1m3 0h1m6 0h1m-26 1h1m1 0h1m17 0h1m-26 1h1m2 0h1m6 0h1m9 0h1m8 0h1m-24 1h1m-1 1h1m5 0h2m11 0h1m-19 1h1m6 0h1m-10 3h1m7 3h1m-17 1h1" stroke="#d830d8" stroke-width="1" fill="none"/>
<rect x="184.0" y="2814.0" width="490.0" height="394.0" fill="none" stroke="#000" stroke-width="3.7"/>
<path d="M184.0 2854.2h-16.0M184.0 2859.0h-16.0M184.0 2864.3h-16.0M184.0 2870.5h-16.0M184.0 2877.8h-16.0M184.0 2886.8h-16.0M184.0 2898.4h-16.0M184.0 2914.7h-16.0M184.0 3012.0h-16.0M184.0 2994.5h-16.0M184.0 2982.1h-16.0M184.0 2972.5h-16.0M184.0 2964.6h-16.0M184.0 2957.9h-16.0M184.0 2952.1h-16.0M184.0 2947.1h-16.0M184.0 3044.0h-16.0M184.0 3046.0h-16.0M184.0 3052.0h-16.0M184.0 3054.0h-16.0M184.0 3056.0h-16.0M184.0 3060.0h-16.0M184.0 3064.0h-16.0M184.0 3075.6h-16.0M184.0 3082.0h-16.0M184.0 3093.0h-16.0M184.0 3105.0h-16.0M184.0 3152.0h-16.0M184.0 3163.5h-16.0M184.0 3174.0h-16.0M184.0 3181.0h-16.0M184.0 3194.0h-16.0M184.0 3196.0h-16.0M184.0 3198.0h-16.0M184.0 3203.0h-16.0" stroke="#000" stroke-width="3.7"/>
<path d="M184.0 2850.0h-31.0M184.0 2942.5h-31.0M184.0 3042.0h-31.0M184.0 3116.0h-31.0M184.0 3126.0h-31.0M184.0 3129.0h-31.0M184.0 3132.0h-31.0M184.0 3142.0h-31.0" stroke="#000" stroke-width="3.7"/>
<line x1="153.0" y1="3208.0" x2="675.9" y2="3208.0" stroke="#000" stroke-width="3.7"/>
<path d="M189.7 3208.0v19.5M205.1 3208.0v19.5M217.0 3208.0v19.5M226.7 3208.0v19.5M234.9 3208.0v19.5M242.1 3208.0v19.5M248.4 3208.0v19.5M290.5 3208.0v19.5M291.0 3208.0v19.5M312.2 3208.0v19.5M312.7 3208.0v19.5M327.6 3208.0v19.5M328.1 3208.0v19.5M339.5 3208.0v19.5M340.0 3208.0v19.5M349.2 3208.0v19.5M349.7 3208.0v19.5M357.4 3208.0v19.5M357.9 3208.0v19.5M364.6 3208.0v19.5M365.1 3208.0v19.5M370.9 3208.0v19.5M371.4 3208.0v19.5M413.0 3208.0v19.5M413.5 3208.0v19.5M434.7 3208.0v19.5M435.2 3208.0v19.5M450.1 3208.0v19.5M450.6 3208.0v19.5M462.0 3208.0v19.5M462.5 3208.0v19.5M471.7 3208.0v19.5M472.2 3208.0v19.5M479.9 3208.0v19.5M480.4 3208.0v19.5M487.1 3208.0v19.5M487.6 3208.0v19.5M493.4 3208.0v19.5M493.9 3208.0v19.5M536.0 3208.0v19.5M537.0 3208.0v19.5M557.7 3208.0v19.5M558.7 3208.0v19.5M573.1 3208.0v19.5M574.1 3208.0v19.5M585.0 3208.0v19.5M586.0 3208.0v19.5M594.7 3208.0v19.5M595.7 3208.0v19.5M602.9 3208.0v19.5M603.9 3208.0v19.5M610.1 3208.0v19.5M611.1 3208.0v19.5M616.4 3208.0v19.5M617.4 3208.0v19.5M660.0 3208.0v19.5" stroke="#000" stroke-width="3.7"/>
<path d="M254.0 3208.0v34.5M376.5 3208.0v34.5M499.0 3208.0v34.5M623.0 3208.0v34.5" stroke="#000" stroke-width="3.7"/>
<text x="267.0" y="3312.0" font-size="44" textLength="320.0" lengthAdjust="spacingAndGlyphs">CD38 APC-H7-A</text>
<rect x="664.0" y="2844.0" width="3.7" height="3.7" fill="#000"/>
<text x="98.0" y="2995.5" font-size="45" textLength="419.0" lengthAdjust="spacingAndGlyphs" transform="rotate(-90 98.0 2995.5)" text-anchor="middle">CD27 PerCP-Cy5-5-A</text>
<rect x="184.5" y="2986" width="3.5" height="172" fill="#a030a8"/>
<rect x="186.0" y="2972.0" width="245.0" height="235.0" fill="none" stroke="#000" stroke-width="3.4"/>
<text x="274.0" y="2930.0" font-size="38" textLength="64.0" lengthAdjust="spacingAndGlyphs">CS1</text>
<ellipse cx="965" cy="3110" rx="45" ry="60" fill="#fbe6fb" opacity="1" filter="url(#b8)"/>
<path transform="translate(891.00 2815.85) scale(3.7)" d="M42 4h1m4 0h1m8 0h1m-26 1h1m8 3h1m5 0h1m6 0h1m-7 1h1m-11 1h1m6 0h1m-14 1h1m5 0h1m-16 1h1m35 0h1m-19 1h1m6 0h1m7 0h1m-34 1h1m1 0h1m2 0h1m2 0h1m4 0h1m17 0h1m2 0h1m-42 1h1m3 0h1m3 0h1m4 0h1m2 0h1m6 0h1m1 0h1m11 0h1m1 0h1m-39 1h1m1 0h2m3 0h3m2 0h1m2 0h1m1 0h2m7 0h1m1 0h1m7 0h1m-40 1h1m3 0h3m3 0h1m1 0h3m2 0h1m1 0h6m1 0h1m7 0h2m3 0h2m1 0h1m-40 1h10m1 0h3m1 0h5m1 0h2m1 0h1m3 0h2m4 0h2m4 0h1m-45 1h1m3 0h1m1 0h5m2 0h6m1 0h2m2 0h1m7 0h2m1 0h1m6 0h1m1 0h1m-42 1h1m1 0h1m1 0h5m1 0h9m1 0h6m1 0h3m2 0h2m4 0h1m-40 1h3m1 0h3m1 0h5m1 0h7m3 0h3m3 0h1m4 0h1m3 0h1m5 0h1m-48 1h2m1 0h22m2 0h3m3 0h6m4 0h1m-46 1h1m2 0h3m1 0h5m1 0h1m1 0h9m1 0h5m4 0h1m4 0h1m3 0h1m8 0h1m-55 1h1m1 0h2m2 0h25m1 0h1m2 0h1m2 0h3m3 0h2m1 0h1m2 0h1m-51 1h1m2 0h3m1 0h2m1 0h1m1 0h20m1 0h3m1 0h3m1 0h2m5 0h1m1 0h1m-46 1h10m2 0h6m1 0h2m1 0h1m1 0h3m1 0h3m1 0h2m2 0h1m3 0h1m-44 1h4m1 0h10m1 0h1m1 0h3m2 0h1m1 0h3m1 0h2m2 0h2m1 0h2m2 0h1m3 0h1m9 0h1m-57 1h1m1 0h2m1 0h6m2 0h18m1 0h6m1 0h1m2 0h2m1 0h2m1 0h2m3 0h1m-54 1h1m1 0h2m1 0h6m2 0h20m1 0h2m1 0h1m1 0h1m2 0h2m3 0h1m-46 1h2m1 0h5m1 0h3m1 0h1m2 0h2m1 0h11m1 0h7m1 0h3m4 0h1m4 0h1m-52 1h2m1 0h2m1 0h2m1 0h1m1 0h2m1 0h2m1 0h2m1 0h14m1 0h4m1 0h1m1 0h1m4 0h1m-50 1h1m2 0h3m1 0h7m1 0h1m1 0h9m1 0h4m1 0h5m2 0h1m1 0h2m1 0h1m8 0h1m-52 1h3m1 0h5m1 0h26m2 0h4m2 0h1m8 0h1m-56 1h1m3 0h6m1 0h11m1 0h7m1 0h7m5 0h4m5 0h1m-53 1h1m4 0h6m1 0h1m1 0h1m1 0h10m1 0h8m2 0h2m3 0h1m3 0h1m2 0h1m-46 1h2m1 0h4m1 0h5m1 0h6m1 0h10m2 0h4m2 0h1m1 0h3m1 0h1m2 0h1m1 0h1m-52 1h1m1 0h8m2 0h4m1 0h12m3 0h2m1 0h1m1 0h1m2 0h1m1 0h2m-44 1h1m2 0h1m1 0h16m1 0h5m1 0h1m1 0h3m2 0h4m1 0h1m3 0h2m-41 1h15m1 0h12m1 0h3m2 0h1m11 0h1m-52 1h1m2 0h1m1 0h21m1 0h3m1 0h1m7 0h1m1 0h2m-43 1h1m2 0h1m1 0h1m1 0h5m1 0h14m3 0h1m1 0h1m1 0h4m3 0h3m2 0h1m-43 1h1m1 0h1m1 0h10m1 0h3m1 0h2m1 0h5m3 0h3m5 0h1m1 0h1m1 0h1m3 0h1m-44 1h3m1 0h10m1 0h1m1 0h1m2 0h6m1 0h1m1 0h2m1 0h1m4 0h1m-41 1h2m1 0h1m3 0h1m2 0h1m1 0h2m1 0h7m2 0h1m3 0h1m2 0h1m1 0h1m1 0h3m10 0h1m-51 1h1m3 0h1m1 0h1m2 0h1m1 0h5m1 0h1m1 0h1m6 0h4m8 0h1m2 0h1m3 0h1m4 0h1m-59 1h1m7 0h2m1 0h1m1 0h1m5 0h4m1 0h5m1 0h2m1 0h4m1 0h4m-29 1h1m2 0h1m2 0h1m1 0h2m5 0h1m4 0h6m4 0h1m1 0h1m8 0h1m-45 1h1m2 0h1m1 0h1m1 0h2m2 0h4m3 0h1m3 0h2m3 0h1m1 0h1m2 0h1m1 0h2m5 0h1m-45 1h2m2 0h1m1 0h2m4 0h2m1 0h4m1 0h1m1 0h1m1 0h1m1 0h2m1 0h2m1 0h3m1 0h1m1 0h2m1 0h1m4 0h1m-52 1h1m7 0h1m2 0h1m2 0h7m1 0h1m4 0h3m1 0h3m2 0h1m2 0h3m-47 1h1m12 0h1m1 0h1m1 0h2m2 0h1m1 0h1m2 0h2m1 0h2m1 0h1m1 0h1m6 0h2m5 0h1m-37 1h1m2 0h1m3 0h1m1 0h1m1 0h1m3 0h3m1 0h2m1 0h2m1 0h2m1 0h1m3 0h2m4 0h1m-36 1h1m4 0h1m2 0h3m1 0h1m1 0h2m1 0h1m2 0h1m2 0h2m1 0h2m1 0h1m2 0h3m2 0h1m-51 1h1m3 0h1m11 0h1m12 0h4m5 0h2m5 0h1m2 0h1m-51 1h1m11 0h1m1 0h1m4 0h1m1 0h1m2 0h1m1 0h1m1 0h2m2 0h2m1 0h1m2 0h1m1 0h3m3 0h1m10 0h1m-49 1h1m2 0h1m10 0h2m7 0h1m13 0h3m-40 1h1m25 0h1m4 0h1m2 0h1m3 0h1m10 0h1m-49 1h1m6 0h1m8 0h1m3 0h1m3 0h2m7 0h2m-19 1h1m7 0h1m10 1h1m5 0h1m-38 1h1m12 0h1m3 0h1m2 0h1m23 0h1m-39 1h1m25 0h1m5 0h1m-40 1h1m9 0h2m6 0h1m2 1h1m7 0h1m-16 1h1m3 0h1m3 0h1m5 0h2m-10 1h3m3 0h3m3 0h1m-13 1h2m1 0h4m-6 1h1m2 0h1m1 0h2m1 0h1m-9 1h1m1 0h8m16 0h1m-31 1h1m3 0h4m2 0h4m-10 1h2m1 0h6m2 0h3m-14 1h5m1 0h7m1 0h2m6 0h1m-22 1h5m4 0h3m2 0h1m-21 1h1m5 0h3m2 0h5m2 0h3m2 0h2m-20 1h2m2 0h2m1 0h2m1 0h4m-14 1h11m1 0h5m2 0h1m-20 1h11m2 0h1m1 0h1m-16 1h6m1 0h5m1 0h2m1 0h2m1 0h1m-20 1h4m1 0h3m1 0h4m1 0h3m1 0h1m23 0h1m-39 1h2m2 0h6m2 0h2m1 0h1m-46 1h1m4 0h1m21 0h3m2 0h7m1 0h1m1 0h3m-18 1h3m2 0h1m1 0h7m1 0h2m5 0h1m-51 1h1m5 0h1m20 0h3m1 0h5m1 0h3m1 0h2m1 0h1m1 0h1m-35 1h1m14 0h4m1 0h1m1 0h1m1 0h2m1 0h1m1 0h1m1 0h1m2 0h1m-20 1h10m1 0h1m1 0h2m1 0h1m1 0h2m-33 1h1m13 0h2m1 0h5m2 0h1m1 0h3m5 0h1m-52 1h1m29 0h3m1 0h1m3 0h1m1 0h7m-26 1h1m8 0h3m1 0h2m1 0h7m1 0h1m7 0h1m-49 1h1m24 0h1m1 0h3m1 0h1m2 0h1m1 0h6m1 0h1m-19 1h4m1 0h10m-15 1h2m1 0h2m1 0h3m2 0h2m1 0h1m1 0h2m-38 1h1m21 0h4m3 0h1m12 0h1m-31 1h1m8 0h1m1 0h1m1 0h1m1 0h2m2 0h2m-13 1h1m1 0h4m3 0h1m2 0h1m14 0h1m-38 1h1m10 0h2m1 0h3m4 0h1m1 0h1m-14 1h2m2 0h2m3 0h1m2 0h1m-12 1h1m4 0h1m11 0h1m-55 1h1m37 0h1m5 0h1m3 0h1m4 0h2m-16 2h1m1 0h1m-42 1h1m49 0h1m-11 3h1m16 0h1" stroke="#000" stroke-width="1" fill="none"/>
<path transform="translate(891.00 2815.85) scale(3.7)" d="M31 64h1m-21 1h1m3 0h1m16 0h1m-25 1h1m19 0h1m-18 1h1m2 0h1m16 0h1m-28 1h2m19 0h1m7 0h1m-21 1h1m13 0h1m1 0h1m2 0h1m-26 1h1m1 0h1m20 0h1m-22 1h1m8 0h1m7 0h1m-11 1h1m1 0h1m14 0h1m-3 1h1m4 0h1m-23 1h1m11 0h3m6 0h1m-28 1h1m3 0h1m15 0h1m4 0h1m-32 1h1m1 0h1m5 0h1m5 0h1m16 0h1m-29 1h1m25 0h1m-32 1h1m3 0h1m10 0h1m13 0h1m1 0h1m-21 1h1m3 0h1m15 0h2m-27 1h1m5 0h1m8 0h2m3 0h2m2 0h1m2 0h1m-16 1h1m2 0h1m3 0h1m4 0h3m2 0h1m-34 1h1m2 0h1m1 0h1m6 0h2m7 0h1m2 0h1m1 0h1m2 0h1m2 0h1m-30 1h1m2 0h1m9 0h1m6 0h2m-15 1h1m3 0h1m5 0h1m1 0h1m8 0h3m-24 1h2m3 0h1m2 0h1m1 0h1m5 0h1m1 0h1m-15 1h2m9 0h4m-21 1h1m1 0h1m2 0h3m2 0h1m2 0h2m9 0h1m-27 1h1m3 0h1m3 0h2m5 0h1m1 0h1m7 0h2m-25 1h1m1 0h1m2 0h1m3 0h1m3 0h1m3 0h1m-24 1h1m7 0h3m5 0h1m5 0h2m-16 1h1m5 0h1m3 0h3m-17 1h1m3 0h2m1 0h1m4 0h1m1 0h1m4 0h1m2 0h1m2 0h1m-26 1h1m3 0h1m7 0h1m5 0h1m-19 1h1m6 0h3m1 0h2m1 0h4m4 0h1m-22 1h1m4 0h3m2 0h2m-2 1h1m2 0h2m9 1h1m-18 1h2m16 0h1m-26 1h1m11 0h1m1 1h1m4 0h1m-15 2h1m2 1h1m7 1h1" stroke="#c040c0" stroke-width="1" fill="none"/>
<path transform="translate(891.00 2815.85) scale(3.7)" d="M2 64h2m4 0h1m2 0h1m4 0h3m2 0h1m1 0h3m3 0h1m-18 1h3m1 0h2m1 0h3m2 0h3m-22 1h1m1 0h1m1 0h1m1 0h1m1 0h4m2 0h1m1 0h4m-15 1h1m1 0h1m2 0h4m1 0h3m1 0h1m1 0h2m2 0h1m-20 1h2m1 0h11m1 0h1m1 0h1m1 0h1m1 0h1m-27 1h1m2 0h2m4 0h12m1 0h1m-18 1h1m1 0h2m1 0h10m1 0h3m3 0h1m-22 1h6m1 0h6m2 0h2m-26 1h2m5 0h1m1 0h3m2 0h1m1 0h8m1 0h1m-25 1h2m2 0h1m1 0h1m1 0h18m-22 1h1m1 0h4m1 0h11m3 0h1m2 0h1m-26 1h1m2 0h2m2 0h14m-16 1h3m2 0h1m1 0h5m1 0h2m2 0h3m-22 1h2m1 0h10m1 0h3m1 0h1m-20 1h6m1 0h9m1 0h1m3 0h1m-21 1h1m1 0h3m1 0h6m1 0h2m2 0h1m-19 1h3m1 0h8m2 0h1m1 0h1m2 0h1m3 0h1m-25 1h1m3 0h3m2 0h1m1 0h2m1 0h3m2 0h1m-22 1h1m2 0h5m2 0h4m1 0h2m1 0h2m1 0h1m1 0h2m-20 1h4m2 0h1m1 0h2m1 0h1m7 0h2m-19 1h3m1 0h3m3 0h1m1 0h3m-17 1h1m2 0h3m1 0h2m3 0h1m1 0h2m-14 1h1m4 0h4m-8 1h1m4 0h1m2 0h1m5 0h1m-18 1h1m1 0h1m4 0h2m1 0h1m-6 1h2m4 0h1m-15 1h1m6 0h1m5 0h2m4 3h1m-18 3h1" stroke="#f000f0" stroke-width="1" fill="none"/>
<rect x="891.0" y="2814.0" width="491.0" height="394.0" fill="none" stroke="#000" stroke-width="3.7"/>
<path d="M891.0 2913.8h-17.0M891.0 2898.1h-17.0M891.0 2887.0h-17.0M891.0 2878.4h-17.0M891.0 2871.3h-17.0M891.0 2865.4h-17.0M891.0 2860.2h-17.0M891.0 2855.7h-17.0M891.0 3004.7h-17.0M891.0 2988.5h-17.0M891.0 2977.1h-17.0M891.0 2968.2h-17.0M891.0 2960.9h-17.0M891.0 2954.8h-17.0M891.0 2949.5h-17.0M891.0 2944.8h-17.0M891.0 3038.0h-17.0M891.0 3040.0h-17.0M891.0 3049.0h-17.0M891.0 3051.0h-17.0M891.0 3053.0h-17.0M891.0 3065.0h-17.0M891.0 3068.0h-17.0M891.0 3072.5h-17.0M891.0 3087.0h-17.0M891.0 3102.0h-17.0M891.0 3194.0h-17.0" stroke="#000" stroke-width="3.7"/>
<path d="M891.0 2851.6h-31.0M891.0 2940.6h-31.0M891.0 3032.3h-31.0M891.0 3124.0h-31.0M891.0 3145.5h-31.0M891.0 3147.5h-31.0M891.0 3149.5h-31.0M891.0 3167.0h-31.0" stroke="#000" stroke-width="3.7"/>
<line x1="860.0" y1="3208.0" x2="1383.8" y2="3208.0" stroke="#000" stroke-width="3.7"/>
<path d="M909.0 3208.0v19.0M1029.5 3208.0v19.0M1050.3 3208.0v19.0M1065.0 3208.0v19.0M1076.5 3208.0v19.0M1085.8 3208.0v19.0M1093.7 3208.0v19.0M1100.6 3208.0v19.0M1106.6 3208.0v19.0M1145.3 3208.0v19.0M1164.7 3208.0v19.0M1178.5 3208.0v19.0M1189.2 3208.0v19.0M1198.0 3208.0v19.0M1205.4 3208.0v19.0M1211.8 3208.0v19.0M1217.4 3208.0v19.0M1255.8 3208.0v19.0M1275.2 3208.0v19.0M1289.0 3208.0v19.0M1299.7 3208.0v19.0M1308.5 3208.0v19.0M1315.9 3208.0v19.0M1322.3 3208.0v19.0M1327.9 3208.0v19.0" stroke="#000" stroke-width="3.7"/>
<path d="M891.0 3208.0v34.0M948.0 3208.0v34.0M951.5 3208.0v34.0M955.0 3208.0v34.0M994.0 3208.0v34.0M1112.0 3208.0v34.0M1222.5 3208.0v34.0M1333.0 3208.0v34.0" stroke="#000" stroke-width="3.7"/>
<text x="1029.0" y="3312.0" font-size="44" textLength="210.0" lengthAdjust="spacingAndGlyphs">IgM APC-A</text>
<rect x="1379.0" y="2922.0" width="4" height="3.7" fill="#000"/>
<text x="803.0" y="2997.5" font-size="45" textLength="177.0" lengthAdjust="spacingAndGlyphs" transform="rotate(-90 803.0 2997.5)" text-anchor="middle">IgD PE-A</text>
<rect x="892.0" y="3049.0" width="136.0" height="158.0" fill="none" stroke="#000" stroke-width="3.4"/>
<text x="1172.0" y="3144.0" font-size="38" textLength="68.0" lengthAdjust="spacingAndGlyphs">CS2</text>
<ellipse cx="545" cy="3560" rx="60" ry="55" fill="#fdfdd0" opacity="1" filter="url(#b8)"/>
<path transform="translate(173.00 3397.85) scale(3.7)" d="M109 27h1m-43 3h1m11 4h1m27 0h1m-44 2h1m25 0h1m2 1h1m-1 1h1m-24 1h1m13 0h1m3 0h1m30 0h1m-58 1h1m25 0h1m3 0h1m-29 4h1m23 1h2m7 0h1m-46 1h1m25 1h1m-3 1h1m2 0h1m1 0h1m5 0h1m4 0h1m-60 1h1m41 0h1m2 0h1m-58 1h1m45 0h1m2 0h1m-41 1h1m1 0h1m4 0h1m2 0h1m6 0h1m29 0h1m9 0h1m3 0h2m-75 1h1m6 0h1m30 0h1m9 0h1m4 0h1m2 0h1m-49 1h1m8 0h2m28 0h1m-66 1h1m13 0h1m7 0h1m3 0h1m3 0h1m1 0h1m1 0h1m4 0h1m1 0h1m27 0h2m1 0h1m22 0h2m1 0h1m-80 1h1m2 0h1m1 0h1m2 0h2m5 0h2m1 0h1m1 0h2m2 0h1m22 0h1m3 0h1m27 0h1m-75 1h1m1 0h1m1 0h1m2 0h2m1 0h1m1 0h1m5 0h1m1 0h1m2 0h1m1 0h1m2 0h1m5 0h1m4 0h1m4 0h1m10 0h1m1 0h1m20 0h1m4 0h1m1 0h1m-109 1h1m15 0h1m1 0h2m1 0h1m5 0h2m1 0h3m4 0h1m3 0h1m1 0h1m1 0h1m2 0h1m4 0h1m10 0h1m8 0h1m18 0h1m10 0h1m-90 1h1m7 0h1m3 0h1m3 0h1m2 0h1m4 0h1m2 0h1m1 0h3m1 0h2m1 0h1m12 0h1m2 0h1m9 0h1m3 0h1m17 0h1m-90 1h1m4 0h1m5 0h2m2 0h3m1 0h3m2 0h1m3 0h2m2 0h1m2 0h1m7 0h1m4 0h1m15 0h1m15 0h1m4 0h1m-95 1h1m8 0h2m1 0h1m2 0h2m1 0h1m1 0h1m1 0h2m1 0h1m2 0h1m1 0h2m1 0h1m2 0h3m1 0h2m6 0h1m13 0h1m2 0h1m5 0h1m1 0h2m-68 1h1m4 0h1m8 0h3m3 0h2m4 0h1m2 0h3m1 0h1m1 0h1m3 0h2m1 0h1m-50 1h1m6 0h1m4 0h2m1 0h2m1 0h1m1 0h2m4 0h2m1 0h4m1 0h3m4 0h1m4 0h1m3 0h1m4 0h1m30 0h1m-82 1h1m6 0h1m4 0h2m2 0h1m2 0h2m5 0h1m2 0h4m2 0h1m3 0h1m1 0h2m3 0h1m2 0h1m5 0h2m3 0h1m5 0h1m1 0h1m2 0h1m10 0h1m-89 1h2m5 0h1m1 0h4m3 0h1m2 0h2m2 0h2m2 0h1m1 0h3m1 0h2m1 0h2m2 0h3m1 0h1m3 0h2m3 0h2m6 0h1m10 0h1m29 0h1m-96 1h1m2 0h2m7 0h3m2 0h4m1 0h3m3 0h3m2 0h6m2 0h1m1 0h2m4 0h1m5 0h1m1 0h1m1 0h1m3 0h1m-64 1h1m1 0h2m4 0h2m3 0h4m1 0h1m8 0h2m2 0h1m1 0h2m1 0h1m2 0h2m2 0h1m2 0h1m1 0h1m3 0h1m4 0h1m1 0h2m12 0h2m6 0h1m1 0h1m-90 1h1m3 0h1m1 0h1m1 0h2m4 0h3m1 0h4m2 0h2m2 0h2m1 0h1m2 0h1m2 0h1m1 0h2m2 0h1m3 0h3m1 0h1m1 0h1m14 0h1m3 0h1m2 0h1m1 0h1m2 0h1m36 0h1m-118 1h1m3 0h1m5 0h2m1 0h3m3 0h4m1 0h2m1 0h4m1 0h3m3 0h2m3 0h3m5 0h1m1 0h1m1 0h1m22 0h1m-80 1h3m2 0h1m2 0h2m2 0h1m1 0h1m1 0h1m3 0h3m2 0h1m2 0h3m2 0h1m2 0h1m1 0h2m1 0h2m2 0h1m1 0h1m1 0h1m2 0h3m4 0h1m1 0h1m4 0h1m4 0h1m2 0h1m3 0h1m15 0h1m-93 1h1m8 0h1m1 0h1m1 0h2m1 0h2m1 0h1m2 0h3m1 0h2m1 0h5m1 0h1m2 0h1m1 0h1m2 0h1m1 0h2m3 0h1m3 0h1m2 0h2m2 0h3m3 0h1m1 0h1m5 0h1m1 0h2m4 0h1m-85 1h1m4 0h1m2 0h3m4 0h1m1 0h1m1 0h1m1 0h1m3 0h1m1 0h1m3 0h1m4 0h4m1 0h4m1 0h2m2 0h1m1 0h1m3 0h1m1 0h1m4 0h1m4 0h1m2 0h1m4 0h2m3 0h2m6 0h1m-91 1h2m5 0h1m3 0h1m2 0h2m5 0h2m1 0h3m1 0h2m1 0h1m1 0h1m1 0h3m4 0h4m6 0h1m1 0h2m1 0h3m2 0h1m3 0h1m1 0h1m2 0h2m2 0h1m1 0h1m11 0h1m-89 1h1m3 0h1m1 0h1m1 0h2m1 0h1m4 0h1m1 0h3m3 0h1m1 0h5m1 0h4m2 0h3m1 0h7m2 0h2m9 0h2m8 0h1m2 0h1m10 0h1m-88 1h1m1 0h1m3 0h1m1 0h1m2 0h1m2 0h1m3 0h3m1 0h3m1 0h2m2 0h6m1 0h4m1 0h4m2 0h4m6 0h2m10 0h1m1 0h1m3 0h1m1 0h1m7 0h1m8 0h1m2 0h2m-99 1h1m5 0h1m1 0h1m3 0h2m1 0h3m2 0h1m1 0h1m1 0h2m1 0h2m1 0h1m2 0h5m3 0h2m1 0h2m2 0h1m1 0h1m1 0h4m1 0h2m1 0h1m1 0h1m2 0h1m3 0h1m4 0h1m-76 1h2m3 0h2m4 0h1m3 0h3m1 0h1m4 0h3m2 0h1m1 0h2m1 0h2m1 0h2m2 0h1m2 0h3m2 0h1m1 0h1m1 0h1m3 0h1m27 0h1m11 0h1m-98 1h2m2 0h1m1 0h1m2 0h4m1 0h2m2 0h1m4 0h2m1 0h4m2 0h3m1 0h1m2 0h2m2 0h4m1 0h6m1 0h1m1 0h1m3 0h1m2 0h1m4 0h2m8 0h1m-79 1h1m3 0h1m1 0h1m1 0h9m1 0h2m1 0h1m1 0h2m2 0h1m1 0h1m1 0h3m1 0h7m1 0h1m1 0h4m1 0h3m4 0h1m1 0h1m1 0h1m1 0h1m2 0h1m5 0h1m1 0h1m4 0h2m3 0h2m45 0h1m-133 1h1m5 0h3m4 0h4m6 0h1m1 0h8m1 0h1m1 0h3m1 0h1m1 0h4m1 0h2m1 0h2m4 0h3m2 0h1m5 0h1m3 0h1m-72 1h2m2 0h1m1 0h1m1 0h2m2 0h2m1 0h1m1 0h4m2 0h1m1 0h2m1 0h2m1 0h1m1 0h2m1 0h3m1 0h1m1 0h1m1 0h2m2 0h1m1 0h3m2 0h1m2 0h1m2 0h1m12 0h3m3 0h1m4 0h1m-85 1h2m1 0h3m1 0h1m2 0h1m2 0h2m1 0h1m1 0h2m3 0h4m1 0h7m2 0h2m1 0h6m1 0h1m1 0h8m1 0h1m1 0h2m4 0h1m10 0h1m-79 1h2m2 0h2m1 0h2m2 0h2m1 0h3m3 0h11m2 0h1m3 0h4m2 0h1m1 0h3m1 0h4m3 0h1m2 0h2m4 0h1m17 0h1m5 0h1m9 0h1m-100 1h2m3 0h2m1 0h2m1 0h2m1 0h3m2 0h10m6 0h3m1 0h1m1 0h9m1 0h4m2 0h2m3 0h2m1 0h1m1 0h1m18 0h1m-87 1h2m6 0h1m3 0h3m5 0h3m1 0h1m1 0h5m1 0h8m1 0h2m1 0h3m1 0h1m1 0h3m2 0h1m1 0h3m3 0h2m2 0h1m18 0h1m-81 1h1m5 0h1m1 0h1m1 0h1m1 0h2m1 0h5m1 0h3m1 0h3m1 0h7m1 0h2m1 0h2m3 0h1m5 0h1m1 0h1m1 0h1m7 0h1m2 0h1m6 0h1m1 0h1m1 0h1m-84 1h2m1 0h2m3 0h3m2 0h1m1 0h2m1 0h2m2 0h1m1 0h1m2 0h4m1 0h3m1 0h2m1 0h1m2 0h1m1 0h1m1 0h1m1 0h1m1 0h1m1 0h4m2 0h3m5 0h1m4 0h1m2 0h1m1 0h1m12 0h1m3 0h1m-94 1h2m4 0h2m2 0h2m1 0h3m1 0h7m2 0h3m1 0h3m3 0h1m1 0h3m1 0h1m2 0h3m1 0h2m1 0h2m1 0h1m2 0h2m1 0h2m8 0h1m2 0h1m2 0h1m2 0h1m-81 1h1m10 0h1m4 0h1m1 0h1m1 0h1m2 0h5m2 0h1m1 0h5m1 0h9m1 0h2m3 0h3m4 0h1m2 0h1m3 0h1m2 0h1m1 0h1m5 0h1m9 0h1m-89 1h2m7 0h1m5 0h1m1 0h1m2 0h7m3 0h2m1 0h10m1 0h4m1 0h1m1 0h1m1 0h1m7 0h1m8 0h2m1 0h1m6 0h2m-82 1h1m7 0h1m1 0h1m3 0h2m4 0h1m2 0h5m2 0h19m3 0h1m1 0h2m22 0h1m1 0h2m1 0h1m-84 1h2m2 0h1m8 0h1m1 0h1m2 0h1m1 0h5m1 0h6m1 0h11m2 0h1m1 0h2m3 0h1m1 0h2m1 0h3m9 0h1m1 0h1m10 0h1m8 0h2m-94 1h2m1 0h1m2 0h7m1 0h1m1 0h4m1 0h2m1 0h13m1 0h2m1 0h1m1 0h1m1 0h1m2 0h1m3 0h1m3 0h1m1 0h1m15 0h1m1 0h1m2 0h1m3 0h1m-84 1h1m5 0h1m1 0h1m2 0h1m2 0h1m3 0h2m1 0h3m1 0h8m2 0h11m3 0h1m3 0h5m12 0h1m2 0h1m7 0h1m-82 1h1m1 0h1m3 0h2m4 0h1m6 0h2m1 0h2m2 0h3m2 0h1m1 0h4m2 0h2m1 0h1m1 0h4m1 0h1m6 0h1m1 0h1m46 0h1m-106 1h2m14 0h2m1 0h2m2 0h2m2 0h1m3 0h3m1 0h4m1 0h3m2 0h1m3 0h1m1 0h1m1 0h2m2 0h1m12 0h1m2 0h2m2 0h1m-78 1h2m6 0h2m1 0h2m5 0h4m1 0h4m3 0h3m1 0h2m1 0h2m1 0h4m1 0h1m1 0h2m1 0h1m1 0h1m8 0h1m9 0h1m-72 1h2m4 0h1m1 0h1m8 0h1m3 0h2m1 0h1m1 0h1m1 0h1m1 0h2m1 0h7m1 0h2m1 0h4m2 0h3m16 0h1m6 0h1m-77 1h2m8 0h2m1 0h2m3 0h5m1 0h1m2 0h5m1 0h4m1 0h4m1 0h1m1 0h1m4 0h2m4 0h1m29 0h1m-87 1h2m7 0h1m3 0h1m1 0h5m4 0h2m1 0h4m1 0h11m2 0h3m2 0h1m3 0h1m20 0h2m-76 1h1m13 0h1m5 0h4m2 0h4m2 0h2m1 0h1m1 0h7m2 0h1m3 0h2m2 0h1m12 0h1m5 0h1m6 0h1m-82 1h2m18 0h2m1 0h1m2 0h2m1 0h1m2 0h1m1 0h6m3 0h1m1 0h3m1 0h1m1 0h1m10 0h1m1 0h2m2 0h1m11 0h1m-80 1h1m5 0h1m6 0h1m2 0h2m2 0h1m1 0h4m2 0h2m2 0h2m1 0h2m2 0h1m2 0h2m7 0h1m3 0h1m25 0h1m2 0h1m-69 1h1m2 0h3m2 0h1m1 0h8m1 0h1m1 0h2m1 0h1m2 0h2m2 0h1m3 0h2m-54 1h2m11 0h1m4 0h1m2 0h1m1 0h1m2 0h1m1 0h4m1 0h9m1 0h2m1 0h1m19 0h1m-66 1h1m1 0h5m3 0h2m3 0h3m1 0h2m1 0h1m2 0h7m1 0h2m1 0h2m1 0h1m1 0h1m1 0h6m1 0h3m4 0h1m1 0h3m9 0h1m-67 1h2m6 0h1m4 0h3m2 0h2m3 0h6m1 0h2m1 0h1m1 0h4m4 0h1m1 0h1m8 0h1m6 0h1m10 0h1" stroke="#000" stroke-width="1" fill="none"/>
<path transform="translate(173.00 3397.85) scale(3.7)" d="M101 24h1m-1 2h1m2 0h1m-12 1h1m6 0h1m3 1h1m1 0h1m4 1h1m-14 1h1m1 0h1m4 0h1m10 0h1m-18 1h1m14 0h1m-20 1h1m2 0h1m2 0h1m1 0h1m1 0h1m1 0h2m2 0h1m1 0h1m-21 1h5m14 0h1m-25 1h1m8 0h1m1 0h1m14 1h1m-27 1h1m5 0h1m6 0h1m11 0h1m-22 1h1m23 0h1m-29 1h1m24 0h2m1 0h1m-28 1h1m1 0h2m21 0h1m-32 1h1m5 1h1m23 0h1m3 0h1m-33 1h1m3 0h1m26 0h1m-34 1h1m5 0h1m24 0h2m-30 2h1m28 0h1m1 0h1m-6 1h1m-25 1h1m1 0h1m19 0h1m1 1h1m-27 1h2m1 0h2m14 0h1m4 0h2m3 0h1m-30 1h1m2 0h1m2 0h1m14 0h1m1 0h1m1 0h1m-23 1h1m3 0h2m1 0h1m8 0h1m7 0h1m-27 1h1m3 0h1m7 0h2m1 0h1m2 0h2m1 0h1m1 0h1m1 0h1m-22 1h1m3 0h1m7 0h2m1 0h1m-23 1h1m1 0h1m1 0h1m8 0h1m3 0h3m1 0h1m9 0h1m-24 1h1m1 0h2m4 0h1m5 0h1m7 0h1m-30 1h1m3 0h1m3 0h1m1 0h1m3 0h1m3 0h2m3 0h1m1 0h1m-21 1h1m1 0h1m1 0h1m3 0h2m2 0h1m2 0h2m7 0h1m-30 1h1m6 0h1m3 0h2m4 0h1m8 0h1m-30 1h1m22 0h1m4 0h1m4 0h1m-14 1h1m4 0h1m7 0h1m-34 1h1m12 0h1m2 0h1m2 0h1m2 0h1m5 0h1m-16 1h1m8 0h1m-21 1h1m27 0h1m-28 1h1m12 0h2m1 0h1m8 0h2m-24 1h1m13 0h1" stroke="#f4f490" stroke-width="1" fill="none"/>
<path transform="translate(173.00 3397.85) scale(3.7)" d="M102 31h1m-3 1h1m1 0h1m3 0h1m3 0h1m-12 1h3m2 0h3m2 0h2m-11 1h7m1 0h1m1 0h2m-16 1h14m-17 1h1m1 0h6m1 0h10m-17 1h18m-19 1h1m1 0h16m-19 1h20m-22 1h1m1 0h21m-23 1h22m-23 1h23m-23 1h23m-25 1h1m2 0h22m-23 1h7m1 0h14m-22 1h21m-20 1h19m1 0h1m-21 1h1m1 0h10m1 0h6m1 0h1m-21 1h1m1 0h7m1 0h3m2 0h2m-15 1h13m2 0h1m-14 1h1m1 0h8m3 0h1m1 0h1m-14 1h1m3 0h1m2 0h1m-12 1h2m2 0h1m4 0h1m-3 1h1m3 0h1" stroke="#ffff00" stroke-width="1" fill="none"/>
<rect x="173.0" y="3396.0" width="491.0" height="395.0" fill="none" stroke="#000" stroke-width="3.7"/>
<path d="M173.0 3436.2h-16.0M173.0 3441.0h-16.0M173.0 3446.3h-16.0M173.0 3452.5h-16.0M173.0 3459.8h-16.0M173.0 3468.8h-16.0M173.0 3480.4h-16.0M173.0 3496.7h-16.0M173.0 3594.0h-16.0M173.0 3576.5h-16.0M173.0 3564.1h-16.0M173.0 3554.5h-16.0M173.0 3546.6h-16.0M173.0 3539.9h-16.0M173.0 3534.1h-16.0M173.0 3529.1h-16.0M173.0 3626.0h-16.0M173.0 3628.0h-16.0M173.0 3634.0h-16.0M173.0 3636.0h-16.0M173.0 3638.0h-16.0M173.0 3642.0h-16.0M173.0 3646.0h-16.0M173.0 3657.6h-16.0M173.0 3664.0h-16.0M173.0 3675.0h-16.0M173.0 3687.0h-16.0M173.0 3734.0h-16.0M173.0 3745.5h-16.0M173.0 3756.0h-16.0M173.0 3763.0h-16.0M173.0 3776.0h-16.0M173.0 3778.0h-16.0M173.0 3780.0h-16.0M173.0 3785.0h-16.0" stroke="#000" stroke-width="3.7"/>
<path d="M173.0 3432.0h-31.0M173.0 3524.5h-31.0M173.0 3624.0h-31.0M173.0 3698.0h-31.0M173.0 3708.0h-31.0M173.0 3711.0h-31.0M173.0 3714.0h-31.0M173.0 3724.0h-31.0" stroke="#000" stroke-width="3.7"/>
<line x1="142.0" y1="3791.0" x2="665.9" y2="3791.0" stroke="#000" stroke-width="3.7"/>
<path d="M178.7 3791.0v19.5M194.1 3791.0v19.5M206.0 3791.0v19.5M215.7 3791.0v19.5M223.9 3791.0v19.5M231.1 3791.0v19.5M237.4 3791.0v19.5M279.5 3791.0v19.5M280.0 3791.0v19.5M301.2 3791.0v19.5M301.7 3791.0v19.5M316.6 3791.0v19.5M317.1 3791.0v19.5M328.5 3791.0v19.5M329.0 3791.0v19.5M338.2 3791.0v19.5M338.7 3791.0v19.5M346.4 3791.0v19.5M346.9 3791.0v19.5M353.6 3791.0v19.5M354.1 3791.0v19.5M359.9 3791.0v19.5M360.4 3791.0v19.5M402.0 3791.0v19.5M402.5 3791.0v19.5M423.7 3791.0v19.5M424.2 3791.0v19.5M439.1 3791.0v19.5M439.6 3791.0v19.5M451.0 3791.0v19.5M451.5 3791.0v19.5M460.7 3791.0v19.5M461.2 3791.0v19.5M468.9 3791.0v19.5M469.4 3791.0v19.5M476.1 3791.0v19.5M476.6 3791.0v19.5M482.4 3791.0v19.5M482.9 3791.0v19.5M525.0 3791.0v19.5M526.0 3791.0v19.5M546.7 3791.0v19.5M547.7 3791.0v19.5M562.1 3791.0v19.5M563.1 3791.0v19.5M574.0 3791.0v19.5M575.0 3791.0v19.5M583.7 3791.0v19.5M584.7 3791.0v19.5M591.9 3791.0v19.5M592.9 3791.0v19.5M599.1 3791.0v19.5M600.1 3791.0v19.5M605.4 3791.0v19.5M606.4 3791.0v19.5M649.0 3791.0v19.5" stroke="#000" stroke-width="3.7"/>
<path d="M243.0 3791.0v34.5M365.5 3791.0v34.5M488.0 3791.0v34.5M612.0 3791.0v34.5" stroke="#000" stroke-width="3.7"/>
<text x="256.0" y="3895.0" font-size="44" textLength="320.0" lengthAdjust="spacingAndGlyphs">CD38 APC-H7-A</text>
<rect x="654.0" y="3426.0" width="3.7" height="3.7" fill="#000"/>
<text x="87.0" y="3577.5" font-size="45" textLength="419.0" lengthAdjust="spacingAndGlyphs" transform="rotate(-90 87.0 3577.5)" text-anchor="middle">CD27 PerCP-Cy5-5-A</text>
<rect x="475.0" y="3481.0" width="134.0" height="160.0" fill="none" stroke="#000" stroke-width="3.4"/>
<text x="520.0" y="3476.0" font-size="38" textLength="60.0" lengthAdjust="spacingAndGlyphs">PB1</text>
<ellipse cx="1040" cy="3715" rx="65" ry="65" fill="#fdfdd0" opacity="1" filter="url(#b8)"/>
<path transform="translate(880.00 3397.85) scale(3.7)" d="M47 1h1m6 0h1m0 3h1m-17 1h1m2 1h1m-3 2h1m10 0h2m-5 1h1m4 0h1m-26 1h1m22 0h1m-16 1h1m1 0h1m4 0h1m2 0h1m2 0h1m-16 1h1m15 0h1m10 0h1m-40 1h1m22 0h1m2 0h1m-27 1h2m16 0h2m8 0h1m1 0h1m4 0h1m-41 1h1m3 0h1m6 0h1m1 0h2m3 0h1m8 0h4m8 0h1m-40 1h1m2 0h1m2 0h5m1 0h1m1 0h3m2 0h1m7 0h1m2 0h1m1 0h1m3 0h1m-40 1h1m2 0h1m3 0h6m1 0h5m5 0h1m4 0h2m2 0h1m3 0h1m-40 1h1m3 0h2m4 0h2m1 0h2m1 0h3m1 0h4m1 0h1m1 0h2m2 0h2m1 0h2m3 0h4m-39 1h7m1 0h12m1 0h1m2 0h1m1 0h1m2 0h3m4 0h2m-42 1h1m2 0h7m1 0h2m1 0h13m1 0h2m2 0h2m2 0h1m3 0h1m-40 1h2m1 0h4m1 0h9m1 0h2m2 0h1m1 0h2m2 0h1m1 0h1m1 0h1m1 0h4m12 0h1m-52 1h10m1 0h13m1 0h2m1 0h1m6 0h2m1 0h1m2 0h1m4 0h1m-48 1h1m1 0h1m1 0h14m1 0h3m1 0h3m1 0h3m2 0h1m2 0h3m3 0h1m-45 1h1m2 0h2m1 0h3m1 0h25m1 0h2m1 0h3m2 0h1m1 0h1m3 0h1m-52 1h1m3 0h1m1 0h1m1 0h4m1 0h3m1 0h10m1 0h4m1 0h2m1 0h4m1 0h1m3 0h1m-43 1h5m1 0h1m2 0h2m1 0h4m1 0h20m3 0h2m3 0h1m4 0h1m-52 1h1m1 0h3m1 0h9m1 0h12m1 0h9m1 0h1m5 0h2m1 0h1m-50 1h1m3 0h9m2 0h20m1 0h2m1 0h1m2 0h3m7 0h1m-51 1h2m1 0h1m1 0h3m1 0h4m1 0h6m2 0h4m1 0h1m1 0h4m2 0h2m1 0h2m5 0h2m1 0h1m8 0h1m-60 1h1m2 0h7m1 0h3m1 0h2m1 0h1m2 0h17m2 0h1m1 0h2m1 0h1m6 0h1m2 0h1m-55 1h17m1 0h1m1 0h6m1 0h11m1 0h2m1 0h1m2 0h1m1 0h1m1 0h1m3 0h1m2 0h1m-56 1h1m1 0h4m2 0h13m1 0h3m1 0h13m1 0h2m5 0h1m-48 1h12m1 0h2m1 0h6m1 0h1m1 0h4m1 0h2m2 0h4m3 0h1m1 0h1m-44 1h5m1 0h3m1 0h4m1 0h1m1 0h9m2 0h6m1 0h1m1 0h4m6 0h1m-47 1h14m1 0h19m2 0h2m2 0h2m1 0h1m1 0h1m1 0h1m-46 1h2m1 0h7m1 0h7m1 0h13m1 0h1m3 0h4m2 0h1m3 0h1m-49 1h1m1 0h2m1 0h26m2 0h2m5 0h2m-43 1h1m2 0h4m1 0h6m1 0h2m1 0h10m1 0h3m1 0h1m1 0h1m2 0h2m3 0h1m10 0h1m-54 1h1m2 0h1m1 0h19m2 0h4m1 0h1m2 0h2m2 0h3m1 0h1m-41 1h2m1 0h1m1 0h1m1 0h4m3 0h3m2 0h6m1 0h1m2 0h6m-38 1h1m4 0h7m1 0h5m2 0h4m3 0h1m2 0h3m1 0h1m4 0h1m-35 1h1m1 0h1m1 0h7m1 0h5m1 0h6m2 0h1m1 0h1m1 0h1m4 0h1m1 0h1m4 0h1m-40 1h2m1 0h13m1 0h1m3 0h2m1 0h2m2 0h2m1 0h1m1 0h1m4 0h1m-40 1h2m2 0h1m4 0h3m4 0h1m1 0h1m1 0h2m2 0h1m1 0h1m3 0h4m2 0h1m-37 1h3m4 0h3m1 0h2m1 0h1m1 0h1m2 0h1m1 0h3m1 0h1m2 0h2m1 0h2m-45 1h2m6 0h1m5 0h2m1 0h2m2 0h2m2 0h2m1 0h1m2 0h3m1 0h2m1 0h1m1 0h2m5 0h1m2 0h1m-51 1h1m7 0h1m1 0h1m1 0h1m1 0h1m1 0h3m2 0h3m2 0h2m2 0h1m1 0h1m1 0h1m2 0h1m1 0h4m1 0h5m-50 1h1m5 0h1m1 0h1m4 0h1m2 0h3m1 0h2m3 0h1m3 0h2m2 0h1m2 0h1m1 0h1m11 0h1m3 0h1m-44 1h1m1 0h1m1 0h1m1 0h1m2 0h2m3 0h2m1 0h2m2 0h1m1 0h2m2 0h1m2 0h1m3 0h3m-42 1h2m2 0h1m2 0h1m2 0h3m1 0h2m1 0h2m1 0h4m2 0h1m1 0h1m1 0h3m2 0h4m1 0h1m9 0h1m-55 1h1m4 0h2m7 0h2m1 0h1m1 0h1m3 0h1m2 0h1m4 0h1m2 0h4m4 0h2m-34 1h5m4 0h1m4 0h2m1 0h1m3 0h1m1 0h1m2 0h1m1 0h1m4 0h2m1 0h1m-39 1h1m10 0h1m2 0h3m1 0h1m4 0h1m1 0h1m1 0h1m1 0h1m8 0h1m-37 1h2m6 0h1m5 0h5m1 0h2m1 0h1m5 0h2m11 0h1m-51 1h1m5 0h1m2 0h1m2 0h6m3 0h3m10 0h1m14 0h1m-46 1h1m12 0h1m1 0h1m1 0h1m2 0h1m2 0h1m7 0h1m4 0h1m1 0h1m-43 1h1m4 0h2m1 0h1m5 0h2m1 0h3m1 0h2m4 0h1m1 0h1m6 0h1m7 0h1m-32 1h2m2 0h1m3 0h2m5 0h1m1 0h1m1 0h1m7 0h1m-24 1h3m6 0h1m-25 1h1m1 0h1m3 1h1m6 0h1m6 0h1m8 0h1m-39 1h1m9 0h1m2 0h1m4 0h1m5 0h1m5 0h1m2 0h3m15 0h1m-45 1h1m8 1h1m1 0h1m8 0h1m1 0h1m1 0h1m5 0h1m5 0h1m-23 1h2m4 0h2m5 0h2m3 0h1m-20 1h1m1 0h2m6 0h1m-17 1h1m1 0h1m2 0h1m12 0h1m-20 1h1m4 0h4m1 0h1m22 0h1m-32 1h7m1 0h1m-13 1h1m3 0h2m1 0h6m-15 1h1m1 0h1m3 0h4m1 0h4m-15 1h8m1 0h6m-12 1h3m2 0h7m-17 1h2m1 0h1m1 0h1m1 0h2m3 0h3m1 0h1m6 0h1m-22 1h1m1 0h3m1 0h1m1 0h7m3 0h1m-26 1h1m3 0h1m2 0h16m-19 1h2m1 0h1m1 0h5m2 0h6m-18 1h15m2 0h1m2 0h1m33 0h1m-61 1h1m3 0h1m1 0h2m2 0h1m1 0h2m1 0h5m1 0h3m-23 1h1m6 0h1m1 0h3m1 0h2m1 0h6m-18 1h1m1 0h3m1 0h5m2 0h6m-19 1h1m2 0h1m1 0h1m1 0h1m2 0h9m-19 1h1m1 0h1m2 0h7m2 0h5m46 0h1m-66 1h5m1 0h1m1 0h4m1 0h3m-11 1h1m1 0h3m1 0h8m6 0h1m4 0h1m32 0h1m-62 1h5m1 0h2m1 0h3m2 0h1m1 0h1m-20 1h1m3 0h2m2 0h2m1 0h4m1 0h4m-13 1h2m1 0h1m1 0h2m1 0h5m-16 1h1m1 0h2m1 0h3m1 0h2m2 0h1m1 0h1m-15 1h1m3 0h11m3 0h1m-17 1h2m1 0h2m2 0h6m40 0h1m-53 1h1m1 0h1m2 0h1m1 0h2m21 0h1m-30 1h3m2 0h1m1 0h4m-11 1h2m1 0h1m1 0h3m2 0h1m42 0h1m-51 1h3m2 0h1m-7 1h1m1 0h1m2 0h1m1 0h1m6 0h1m-12 1h1m3 0h2m13 0h1m-23 1h1m3 0h1m-8 1h1m9 0h1m-17 2h1" stroke="#000" stroke-width="1" fill="none"/>
<path transform="translate(880.00 3397.85) scale(3.7)" d="M36 66h1m1 0h1m6 0h1m6 0h1m-25 1h1m21 0h1m-20 1h1m-2 1h1m19 2h1m1 0h1m5 0h1m-32 1h1m29 0h1m-9 1h1m13 0h2m-37 2h1m3 0h2m2 0h1m-8 1h1m27 0h1m7 1h1m-35 1h1m22 0h1m5 0h1m2 0h1m-12 1h1m1 0h1m4 0h1m-25 1h1m16 0h1m-19 1h2m21 0h1m-7 1h1m3 0h2m3 0h1m-8 1h1m6 0h2m-22 1h1m17 0h3m1 0h2m-38 1h1m8 0h1m24 0h1m4 0h1m-8 1h1m1 0h2m6 0h1m-36 1h1m13 0h1m1 0h1m7 0h1m1 1h1m1 0h1m-36 1h1m1 0h1m28 0h1m1 0h1m2 0h2m-30 1h1m4 0h1m4 0h1m11 0h1m1 0h1m4 0h1m-10 1h1m2 0h1m3 0h1m2 0h2m-24 1h1m14 0h2m8 0h1m-12 1h1m3 0h1m3 0h2m2 0h1m-42 1h1m15 0h1m19 0h1m-35 1h1m6 0h1m18 0h1m-5 1h1m4 0h1m2 0h1m-30 1h2m1 0h1m2 0h1m16 0h1m3 0h1m2 0h1m-33 1h1m4 0h1m1 0h1m13 0h2m4 0h1m5 0h1m4 0h1m-33 1h1m4 0h1m14 0h1m3 0h1m8 0h1m-16 1h1m9 0h1m-27 1h1m6 0h1m8 0h2m-19 1h1m6 0h1m6 0h1m-20 1h1m2 1h1m12 0h1m1 0h1m6 0h1m12 0h1m-13 1h1m-20 1h1m14 0h1m3 0h1" stroke="#f0f080" stroke-width="1" fill="none"/>
<path transform="translate(880.00 3397.85) scale(3.7)" d="M37 66h1m9 0h1m-12 1h1m-2 1h1m5 0h5m-9 1h3m1 0h4m1 0h1m5 0h1m-20 1h1m1 0h3m1 0h5m1 0h1m1 0h1m-13 1h1m1 0h4m1 0h8m-22 1h1m3 0h1m1 0h7m1 0h4m1 0h3m1 0h1m1 0h1m-25 1h1m2 0h4m1 0h6m2 0h2m1 0h1m2 0h2m1 0h1m-27 1h3m2 0h11m1 0h6m1 0h4m-30 1h1m3 0h2m2 0h2m1 0h1m1 0h15m1 0h1m-29 1h1m2 0h2m1 0h2m1 0h8m3 0h8m-27 1h15m1 0h11m-26 1h2m1 0h22m2 0h1m-30 1h3m1 0h10m1 0h10m1 0h1m-27 1h8m1 0h16m1 0h4m1 0h1m-31 1h6m2 0h3m1 0h3m1 0h13m1 0h1m-32 1h24m1 0h3m2 0h1m-31 1h17m1 0h2m1 0h5m1 0h2m1 0h1m-32 1h4m1 0h9m1 0h14m1 0h1m-30 1h2m2 0h1m1 0h2m1 0h1m1 0h1m1 0h3m1 0h4m1 0h5m-26 1h6m2 0h16m1 0h3m-29 1h2m2 0h2m1 0h3m1 0h8m2 0h1m1 0h3m1 0h2m-29 1h3m1 0h6m1 0h7m1 0h5m1 0h4m-29 1h1m1 0h12m1 0h14m-28 1h1m2 0h3m1 0h4m1 0h4m1 0h4m2 0h4m-26 1h12m1 0h12m1 0h1m-28 1h1m5 0h8m1 0h1m1 0h7m-21 1h12m1 0h10m-25 1h14m1 0h10m-23 1h5m1 0h16m-23 1h1m1 0h2m1 0h5m1 0h2m1 0h6m2 0h1m-21 1h1m1 0h1m2 0h1m2 0h9m1 0h2m-16 1h10m2 0h1m-7 1h4m2 0h1m1 0h1m-15 1h1m3 0h1m1 0h1m1 0h1m1 0h1m-5 1h1m7 0h1" stroke="#ffff00" stroke-width="1" fill="none"/>
<rect x="880.0" y="3396.0" width="491.0" height="399.0" fill="none" stroke="#000" stroke-width="3.7"/>
<path d="M880.0 3495.8h-17.0M880.0 3480.1h-17.0M880.0 3469.0h-17.0M880.0 3460.4h-17.0M880.0 3453.3h-17.0M880.0 3447.4h-17.0M880.0 3442.2h-17.0M880.0 3437.7h-17.0M880.0 3586.7h-17.0M880.0 3570.5h-17.0M880.0 3559.1h-17.0M880.0 3550.2h-17.0M880.0 3542.9h-17.0M880.0 3536.8h-17.0M880.0 3531.5h-17.0M880.0 3526.8h-17.0M880.0 3620.0h-17.0M880.0 3622.0h-17.0M880.0 3631.0h-17.0M880.0 3633.0h-17.0M880.0 3635.0h-17.0M880.0 3647.0h-17.0M880.0 3650.0h-17.0M880.0 3654.5h-17.0M880.0 3669.0h-17.0M880.0 3684.0h-17.0M880.0 3776.0h-17.0" stroke="#000" stroke-width="3.7"/>
<path d="M880.0 3433.6h-31.0M880.0 3522.6h-31.0M880.0 3614.3h-31.0M880.0 3706.0h-31.0M880.0 3727.5h-31.0M880.0 3729.5h-31.0M880.0 3731.5h-31.0M880.0 3749.0h-31.0" stroke="#000" stroke-width="3.7"/>
<line x1="849.0" y1="3795.0" x2="1372.8" y2="3795.0" stroke="#000" stroke-width="3.7"/>
<path d="M898.0 3795.0v19.0M1018.5 3795.0v19.0M1039.3 3795.0v19.0M1054.0 3795.0v19.0M1065.5 3795.0v19.0M1074.8 3795.0v19.0M1082.7 3795.0v19.0M1089.6 3795.0v19.0M1095.6 3795.0v19.0M1134.3 3795.0v19.0M1153.7 3795.0v19.0M1167.5 3795.0v19.0M1178.2 3795.0v19.0M1187.0 3795.0v19.0M1194.4 3795.0v19.0M1200.8 3795.0v19.0M1206.4 3795.0v19.0M1244.8 3795.0v19.0M1264.2 3795.0v19.0M1278.0 3795.0v19.0M1288.7 3795.0v19.0M1297.5 3795.0v19.0M1304.9 3795.0v19.0M1311.3 3795.0v19.0M1316.9 3795.0v19.0" stroke="#000" stroke-width="3.7"/>
<path d="M880.0 3795.0v34.0M937.0 3795.0v34.0M940.5 3795.0v34.0M944.0 3795.0v34.0M983.0 3795.0v34.0M1101.0 3795.0v34.0M1211.5 3795.0v34.0M1322.0 3795.0v34.0" stroke="#000" stroke-width="3.7"/>
<text x="1018.0" y="3899.0" font-size="44" textLength="210.0" lengthAdjust="spacingAndGlyphs">IgM APC-A</text>
<rect x="1368.0" y="3504.0" width="4" height="3.7" fill="#000"/>
<text x="792.0" y="3579.5" font-size="45" textLength="177.0" lengthAdjust="spacingAndGlyphs" transform="rotate(-90 792.0 3579.5)" text-anchor="middle">IgD PE-A</text>
<rect x="976.0" y="3640.0" width="159.0" height="153.0" fill="none" stroke="#000" stroke-width="3.4"/>
<text x="1187.0" y="3723.0" font-size="38" textLength="64.0" lengthAdjust="spacingAndGlyphs">PB2</text>
<ellipse cx="1950" cy="1520" rx="140" ry="80" fill="#e8f9ec" opacity="1" filter="url(#b10)"/>
<ellipse cx="1990" cy="1390" rx="120" ry="60" fill="#fcf0fa" opacity="1" filter="url(#b10)"/>
<ellipse cx="2158" cy="1500" rx="38" ry="65" fill="#fdf2f2" opacity="1" filter="url(#b10)"/>
<path transform="translate(1791.00 1012.85) scale(3.7)" d="M50 82h1m-30 3h1m-19 2h1m24 4h1m8 1h1m78 2h1m-87 1h1m3 0h1m-16 1h1m27 1h1m2 0h1m0 1h1m51 0h1m-79 2h1m1 0h1m2 0h1m28 0h1m16 0h1m-31 1h1m-31 1h1m10 0h1m47 0h1m-37 1h3m10 0h1m-37 1h2m17 0h1m7 0h1m5 0h1m3 0h2m12 0h1m11 0h1m-58 1h1m13 0h1m6 0h1m24 0h1m7 0h1m-63 1h2m18 0h1m15 0h1m1 0h1m8 0h1m-57 1h1m7 0h1m15 0h1m14 0h1m6 0h1m11 0h1m-58 1h1m2 0h1m3 0h1m3 0h1m1 0h1m2 0h1m7 0h1m20 0h1m2 0h1m3 0h1m4 0h1m2 0h1m-50 1h1m23 0h1m1 0h3m9 0h1m3 0h1m4 0h1m2 0h1m-50 1h1m1 0h1m10 0h1m3 0h1m15 0h1m5 0h1m3 0h1m2 0h1m-50 1h1m12 0h1m4 0h1m3 0h2m3 0h1m3 0h1m9 0h1m4 0h1m-41 1h1m10 0h1m14 0h1m-23 1h3m5 0h1m16 0h1m4 0h1m1 0h1m-54 1h1m10 0h1m2 0h1m23 0h1m5 0h1m1 0h2m18 0h1m-70 1h1m6 0h1m14 0h1m12 0h2m1 0h1m11 0h2m1 0h1m6 0h1m-57 1h1m5 0h1m6 0h1m8 0h1m8 0h1m3 0h1m19 0h1m14 0h1m18 0h1m-82 1h1m4 0h1m3 0h1m7 0h1m1 0h1m21 0h2m3 0h1m10 0h1m-62 1h1m15 0h1m7 0h1m3 0h1m8 0h2m6 0h1m2 0h1m8 0h1m2 0h1m-60 1h1m4 0h1m2 0h1m2 0h2m1 0h1m3 0h1m10 0h1m2 0h1m2 0h1m2 0h1m10 0h1m1 0h1m6 0h1m3 0h1m12 0h1m5 0h1m-85 1h1m4 0h1m1 0h1m6 0h1m4 0h1m3 0h1m1 0h1m7 0h1m4 0h1m1 0h1m3 0h1m13 0h1m1 0h1m26 0h1m-87 1h1m1 0h2m2 0h1m7 0h2m3 0h1m2 0h1m4 0h1m1 0h1m7 0h1m6 0h2m2 0h3m15 0h3m6 0h1m-81 1h2m6 0h1m6 0h3m4 0h3m5 0h1m3 0h1m5 0h1m1 0h1m1 0h1m3 0h1m1 0h1m5 0h1m5 0h1m5 0h2m2 0h2m-76 1h1m4 0h2m2 0h1m4 0h1m4 0h1m8 0h1m6 0h1m2 0h1m2 0h1m1 0h2m3 0h1m12 0h1m25 0h1m-83 1h1m4 0h1m5 0h1m2 0h1m5 0h1m4 0h4m1 0h1m1 0h1m2 0h2m5 0h1m2 0h2m14 0h1m8 0h1m3 0h1m23 0h1m-87 1h1m2 0h1m2 0h1m1 0h1m2 0h2m5 0h2m1 0h3m5 0h2m5 0h1m1 0h1m1 0h2m2 0h1m3 0h2m2 0h1m6 0h1m2 0h1m2 0h1m15 0h1m-100 1h1m7 0h1m8 0h1m6 0h2m3 0h2m1 0h1m1 0h1m18 0h1m2 0h1m2 0h1m1 0h1m2 0h1m14 0h1m-69 1h1m6 0h1m3 0h1m12 0h1m1 0h1m3 0h2m1 0h1m4 0h2m2 0h2m4 0h1m8 0h1m1 0h1m-65 1h1m3 0h1m4 0h1m1 0h1m8 0h3m5 0h1m5 0h1m2 0h1m2 0h1m1 0h1m2 0h1m2 0h2m3 0h1m5 0h1m12 0h1m-69 1h1m1 0h1m13 0h3m1 0h2m6 0h1m1 0h2m3 0h2m6 0h1m1 0h1m1 0h1m2 0h1m3 0h1m1 0h1m1 0h3m-65 1h1m6 0h1m3 0h1m4 0h1m2 0h1m3 0h1m2 0h1m8 0h1m5 0h1m8 0h1m9 0h1m1 0h1m8 0h2m-78 1h2m12 0h1m2 0h1m2 0h1m4 0h1m1 0h1m4 0h2m1 0h1m3 0h1m1 0h1m1 0h1m2 0h1m2 0h2m3 0h3m3 0h1m1 0h1m2 0h1m9 0h1m-75 1h1m7 0h1m2 0h1m1 0h2m6 0h1m1 0h2m4 0h1m4 0h1m5 0h1m8 0h1m3 0h1m9 0h2m3 0h1m3 0h2m1 0h1m16 0h1m-92 1h1m8 0h1m3 0h1m4 0h1m2 0h1m2 0h1m2 0h2m1 0h1m5 0h3m3 0h1m1 0h1m3 0h1m3 0h1m5 0h1m1 0h2m10 0h1m4 0h1m-67 1h1m3 0h2m1 0h1m10 0h1m2 0h1m7 0h2m3 0h1m2 0h1m2 0h1m1 0h1m3 0h1m3 0h1m3 0h1m11 0h1m11 0h1m10 0h1m-102 1h1m1 0h1m4 0h1m8 0h2m8 0h1m1 0h1m3 0h1m1 0h1m2 0h1m7 0h2m1 0h1m8 0h1m3 0h1m11 0h1m4 0h1m25 0h1m-104 1h1m2 0h1m5 0h1m8 0h2m2 0h1m7 0h1m1 0h2m1 0h3m10 0h1m9 0h2m3 0h1m1 0h1m1 0h1m3 0h3m2 0h2m2 0h1m1 0h1m-82 1h1m20 0h1m1 0h1m22 0h1m2 0h1m6 0h2m4 0h1m2 0h1m2 0h2m7 0h2m6 0h1m1 0h1m-86 1h1m1 0h1m3 0h1m6 0h1m1 0h1m1 0h2m6 0h1m2 0h2m1 0h1m4 0h1m2 0h1m12 0h1m1 0h1m1 0h1m2 0h1m6 0h1m1 0h1m9 0h1m34 0h1m-104 1h1m1 0h1m1 0h1m6 0h1m3 0h1m5 0h1m2 0h2m10 0h1m6 0h1m1 0h1m15 0h1m2 0h1m6 0h1m-81 1h1m2 0h1m10 0h1m3 0h1m2 0h1m7 0h1m3 0h1m8 0h1m11 0h1m2 0h1m2 0h1m12 0h1m14 0h1m-95 1h1m5 0h1m9 0h1m10 0h3m2 0h2m2 0h1m4 0h1m9 0h1m7 0h1m5 0h1m-63 1h1m14 0h1m1 0h1m2 0h1m6 0h2m25 0h1m9 0h1m2 0h1m6 0h1m7 0h1m4 0h1m-85 1h1m5 0h1m1 0h1m6 0h1m3 0h1m3 0h1m1 0h1m1 0h1m8 0h1m1 0h1m1 0h1m4 0h1m6 0h1m3 0h1m2 0h1m2 0h1m3 0h1m2 0h1m-76 1h1m2 0h1m3 0h1m1 0h1m1 0h1m2 0h1m10 0h1m10 0h1m3 0h1m5 0h1m6 0h1m4 0h1m3 0h1m13 0h2m4 0h1m3 0h1m-78 1h1m7 0h1m4 0h2m3 0h1m1 0h2m1 0h1m1 0h1m4 0h1m12 0h1m7 0h1m14 0h1m5 0h1m9 0h1m5 0h1m-97 1h1m15 0h1m5 0h1m4 0h2m3 0h1m7 0h1m1 0h2m15 0h1m3 0h1m1 0h1m4 0h2m14 0h1m11 0h1m-85 1h1m7 0h1m11 0h1m1 0h1m13 0h1m1 0h2m7 0h1m20 0h1m11 0h1m7 0h1m-87 1h1m4 0h1m8 0h1m1 0h1m10 0h2m7 0h1m11 0h1m8 0h1m8 0h1m10 0h1m-90 1h1m12 0h1m1 0h1m2 0h2m5 0h3m5 0h1m3 0h1m16 0h1m3 0h1m4 0h3m13 0h1m-84 1h1m1 0h1m2 0h1m2 0h1m5 0h2m10 0h1m10 0h1m3 0h2m6 0h1m2 0h1m1 0h1m1 0h1m6 0h1m21 0h1m-85 1h1m3 0h1m10 0h1m14 0h2m12 0h1m14 0h1m2 0h1m5 0h1m3 0h1m21 0h1m-75 1h1m1 0h1m3 0h1m18 0h1m2 0h1m1 0h1m3 0h1m5 0h1m2 0h1m7 0h2m3 0h1m-70 1h1m7 0h1m5 0h1m7 0h1m3 0h1m2 0h1m2 0h1m6 0h1m6 0h2m3 0h1m2 0h1m9 0h1m1 0h1m-71 1h1m9 0h1m8 0h2m1 0h1m7 0h1m15 0h1m8 0h1m2 0h1m16 0h1m2 0h1m-66 1h1m3 0h4m3 0h1m6 0h1m27 0h1m4 0h1m-68 1h1m4 0h1m14 0h1m45 0h1m16 0h1" stroke="#10c050" stroke-width="1" fill="none"/>
<path transform="translate(1791.00 1012.85) scale(3.7)" d="M39 117h1m-2 3h1m5 0h1m1 0h1m-4 1h1m10 0h1m-6 1h1m-15 2h1m4 0h1m3 0h1m-1 1h2m3 0h1m-13 1h2m6 0h1m-17 1h1m4 0h1m8 0h1m1 0h2m4 0h1m6 0h1m-37 1h1m6 0h2m6 0h1m6 0h2m7 0h1m2 0h1m1 0h1m2 0h1m7 0h1m-35 1h1m6 0h1m4 0h2m3 0h1m1 0h1m3 0h1m8 0h1m-44 1h1m3 0h1m8 0h1m2 0h1m3 0h1m1 0h1m1 0h1m6 0h1m2 0h1m6 0h1m1 0h1m-57 1h1m11 0h1m11 0h1m3 0h1m3 0h1m2 0h1m1 0h1m15 0h1m7 0h1m-43 1h1m3 0h2m1 0h1m6 0h1m5 0h1m5 0h1m-34 1h1m1 0h1m2 0h1m3 0h1m2 0h1m8 0h1m4 0h1m3 0h1m2 0h2m2 0h1m-37 1h1m1 0h2m6 0h1m2 0h2m11 0h1m10 0h1m4 0h1m2 0h1m-70 1h1m26 0h1m9 0h2m1 0h5m1 0h1m2 0h1m4 0h1m7 0h1m1 0h1m7 0h2m-58 1h1m11 0h1m5 0h1m7 0h4m1 0h2m1 0h1m1 0h3m1 0h1m1 0h2m-42 1h1m10 0h1m2 0h2m1 0h1m2 0h3m1 0h6m1 0h1m1 0h1m2 0h1m3 0h2m2 0h2m1 0h1m2 0h1m1 0h1m-45 1h1m3 0h1m5 0h1m1 0h1m2 0h1m1 0h2m3 0h4m1 0h2m1 0h1m6 0h1m5 0h1m12 0h1m-54 1h1m3 0h3m2 0h2m2 0h1m2 0h1m1 0h1m1 0h1m1 0h1m4 0h1m9 0h3m12 0h1m-52 1h6m1 0h3m2 0h4m1 0h2m1 0h2m4 0h3m3 0h2m1 0h1m4 0h1m5 0h1m-56 1h1m3 0h1m12 0h4m2 0h5m1 0h2m1 0h3m2 0h2m1 0h1m3 0h1m1 0h1m9 0h1m-66 1h1m16 0h1m3 0h1m2 0h2m1 0h1m1 0h2m1 0h1m1 0h1m1 0h4m5 0h1m2 0h2m1 0h1m1 0h1m4 0h1m-44 1h1m1 0h1m1 0h1m1 0h1m1 0h5m1 0h2m1 0h1m1 0h1m1 0h1m4 0h1m1 0h1m2 0h1m5 0h2m2 0h1m1 0h1m9 0h1m-52 1h3m1 0h1m4 0h1m1 0h1m1 0h3m1 0h1m2 0h5m2 0h1m1 0h1m1 0h1m3 0h3m1 0h2m2 0h1m-54 1h1m6 0h1m2 0h1m2 0h1m3 0h3m4 0h3m1 0h2m5 0h3m1 0h3m3 0h4m6 0h1m-52 1h1m7 0h3m4 0h3m2 0h1m2 0h4m1 0h8m1 0h1m2 0h2m1 0h1m-50 1h1m5 0h1m9 0h1m3 0h1m1 0h2m2 0h5m1 0h3m1 0h1m2 0h1m1 0h1m1 0h1m-39 1h1m8 0h1m4 0h1m1 0h1m1 0h2m5 0h4m2 0h1m1 0h2m1 0h3m1 0h2m4 0h2m1 0h1m-57 1h1m2 0h1m3 0h1m5 0h1m6 0h3m4 0h1m1 0h1m4 0h2m1 0h1m3 0h3m2 0h1m3 0h2m5 0h1m-59 1h1m3 0h1m8 0h1m5 0h1m7 0h1m4 0h3m3 0h1m2 0h1m3 0h2m3 0h1m6 0h1m2 0h1m-50 1h1m2 0h1m2 0h2m4 0h1m1 0h1m3 0h1m1 0h2m3 0h2m1 0h3m3 0h1m3 0h1m9 0h1m6 0h1m-57 1h1m6 0h3m3 0h1m6 0h1m9 0h3m5 0h1m1 0h2m3 0h1m7 0h1m-48 1h2m2 0h1m5 0h2m2 0h5m3 0h3m5 0h1m1 0h2m-24 1h1m1 0h1m1 0h1m2 0h2m2 0h1m4 0h1m2 0h1m3 0h1m-33 1h1m3 0h1m3 0h1m1 0h1m1 0h2m2 0h2m4 0h1m1 0h2m2 0h1m-56 1h1m38 0h1m1 0h1m8 0h1" stroke="#00d840" stroke-width="1" fill="none"/>
<path transform="translate(1791.00 1012.85) scale(3.7)" d="M23 100h1m37 1h1m-32 2h2m5 0h1m-1 1h1m9 0h1m16 0h1m-25 2h1m-21 1h1m10 0h1m2 0h1m21 0h1m-33 1h1m2 0h1m6 0h1m27 0h1m4 0h1m-32 1h1m5 0h1m-17 1h2m17 0h1m14 0h1m10 0h1m-33 1h1m19 0h1m-47 1h1m22 0h1m7 0h1m-7 1h1m-19 1h1m7 0h1m10 0h1m-11 1h1m19 0h1m24 0h1m-55 1h1m11 0h1m1 0h1m15 1h2m-33 1h1m18 0h1m6 0h1m7 0h1m8 0h1m4 0h1m4 0h1m-42 1h1m23 0h1m-31 1h1m38 0h1m10 0h1m-58 1h2m5 0h1m2 0h1m5 0h1m7 0h1m17 0h1m-26 1h1m4 0h1m-27 1h1m3 0h1m8 0h1m18 0h1m6 0h2m-40 1h1m7 0h1m38 0h1m-30 2h1m8 0h1m5 0h1m-24 1h1m2 0h1m10 0h2m16 0h1m3 0h1m-42 1h1m28 0h1m-35 1h2m19 0h1m13 0h1m-21 1h1m11 0h1m31 0h1m-22 1h1m-47 1h1m24 0h2m-8 1h1m10 0h1m-2 1h1m10 0h1m-17 1h1m32 1h1m-13 1h1m-49 2h1m38 0h1m6 0h1m-35 3h1" stroke="#508868" stroke-width="1" fill="none"/>
<path transform="translate(1791.00 1012.85) scale(3.7)" d="M28 39h1m19 21h1m1 0h1m0 1h1m32 2h1m-31 1h1m31 1h1m-27 1h1m2 0h1m-25 1h1m13 0h1m-7 1h1m13 0h1m24 2h1m-73 1h1m37 0h1m12 0h1m29 1h1m-55 1h1m6 0h1m5 0h1m10 0h1m-18 1h1m9 0h1m7 0h1m9 0h1m-36 1h2m3 0h1m6 0h1m32 0h1m-37 1h1m6 0h1m6 0h1m2 0h1m-32 1h1m5 0h2m5 0h1m9 0h2m21 0h1m8 0h1m-71 1h1m6 0h1m11 0h1m14 0h1m15 0h1m-60 1h1m36 0h1m25 0h2m6 0h1m1 0h1m-38 1h1m8 0h2m7 0h1m-38 1h2m4 0h1m1 0h1m15 0h1m1 0h1m8 0h1m16 0h1m16 0h1m-78 1h1m5 0h1m2 0h1m2 0h1m15 0h1m4 0h1m-27 1h1m25 0h2m11 0h1m8 0h1m12 0h1m-63 1h1m18 0h2m4 0h1m13 0h1m1 0h1m1 0h2m4 0h1m23 0h1m9 0h1m-66 1h1m10 0h1m6 0h1m12 0h1m11 0h1m-48 1h1m13 0h1m10 0h1m17 0h1m-54 1h1m7 0h1m9 0h1m4 0h1m3 0h1m8 0h1m1 0h1m1 0h2m1 0h1m27 0h1m-70 1h1m6 0h1m27 0h1m8 0h1m8 0h1m1 0h2m-55 1h1m9 0h1m1 0h1m7 0h1m13 0h1m3 0h1m8 0h1m4 0h1m8 0h1m7 0h1m-65 1h1m5 0h2m3 0h1m1 0h1m3 0h1m13 0h1m1 0h1m22 0h1m-68 1h1m6 0h1m6 0h1m4 0h1m1 0h1m1 0h1m13 0h1m11 0h2m12 0h1m-74 1h1m27 0h1m4 0h1m4 0h1m3 0h1m7 0h4m4 0h1m15 0h1m-51 1h1m4 0h1m10 0h1m3 0h1m1 0h1m1 0h2m1 0h1m29 0h1m-65 1h1m2 0h1m23 0h1m5 0h1m4 0h1m15 0h1m23 0h1m-88 1h1m5 0h1m6 0h1m7 0h1m3 0h2m5 0h1m9 0h1m2 0h1m3 0h1m11 0h1m22 0h1m-79 1h1m11 0h1m7 0h1m9 0h1m1 0h1m5 0h2m29 0h1m3 0h1m-72 1h1m8 0h1m8 0h1m1 0h1m2 0h1m1 0h1m2 0h1m-50 1h1m3 0h1m11 0h1m2 0h1m1 0h2m9 0h1m10 0h1m4 0h1m5 0h1m7 0h2m4 0h1m4 0h1m4 0h1m5 0h1m7 0h1m-72 1h1m3 0h2m5 0h1m7 0h1m16 0h1m3 0h1m9 0h1m-64 1h1m11 0h1m5 0h1m21 0h1m4 0h2m11 0h1m2 0h1m14 0h2m16 0h1m-110 1h1m20 0h1m3 0h1m7 0h1m7 0h1m3 0h1m1 0h1m1 0h1m2 0h1m20 0h1m4 0h1m1 0h1m10 0h1m24 0h1m-98 1h1m4 0h1m10 0h1m1 0h2m1 0h1m8 0h3m5 0h1m29 0h1m-70 1h1m16 0h2m5 0h1m3 0h1m10 0h1m4 0h1m3 0h1m4 0h1m5 0h1m3 0h1m2 0h2m-68 1h1m3 0h1m4 0h1m7 0h1m12 0h1m1 0h1m1 0h1m1 0h1m3 0h1m11 0h1m-59 1h1m13 0h1m5 0h1m6 0h1m1 0h1m2 0h1m7 0h1m23 0h1m4 0h1m8 0h1m16 0h1m-94 1h1m3 0h1m22 0h1m2 0h1m8 0h1m5 0h3m1 0h1m11 0h1m15 0h1m11 0h1m-79 1h1m19 0h1m4 0h1m4 0h1m5 0h2m3 0h1m1 0h1m-43 1h1m6 0h1m15 0h1m3 0h1m29 0h1m-77 1h1m3 0h1m30 0h1m1 0h1m1 0h1m3 0h1m11 0h1m5 0h1m-62 1h1m29 0h1m3 0h1m3 0h1m6 0h1m15 0h1m1 0h1m9 0h1m13 0h1m-86 1h1m12 0h1m13 0h1m3 0h1m3 0h1m8 0h1m8 0h1m-43 1h1m7 0h1m6 0h1m26 0h1m5 0h1m-39 1h1m22 0h1m3 0h1m2 0h1m4 0h1m3 0h1m15 0h1m5 0h1m-68 1h1m21 0h3m1 0h1m1 0h1m5 0h1m3 0h1m12 0h1m-50 1h1m23 0h2m20 0h1m14 0h1m-69 1h1m6 0h1m12 0h1m10 0h1m1 0h1m4 0h1m19 0h1m-40 1h1m12 0h1m16 0h1m3 0h1m4 0h1m20 0h1m-57 1h1m1 0h1m6 0h1m32 0h1m-76 1h1m15 0h1m10 0h1m12 0h1m20 0h1m12 0h1m-64 1h1m33 0h1m10 0h1m4 0h1m11 0h1m-59 1h1m1 0h1m10 0h1m10 0h1m23 0h1m10 0h1m-36 1h1m1 0h2m4 0h1m20 0h1m-42 1h1m22 0h1m-43 1h1m2 0h1m9 0h1m70 0h1m-109 1h1m32 0h1m21 0h1m4 0h1m3 0h1m-15 1h1m69 0h1m-66 1h1m9 0h1m6 0h1m-39 2h1m53 1h1m-58 1h1m26 0h1m-2 1h1m-8 1h1m11 0h1m-8 2h1m2 0h1m54 0h1m-65 1h1m34 0h1m-5 2h1m-24 1h1m36 0h1m-67 3h1m33 1h1m24 0h1" stroke="#a838a8" stroke-width="1" fill="none"/>
<path transform="translate(1791.00 1012.85) scale(3.7)" d="M34 83h1m3 1h1m-21 3h1m13 0h1m-1 1h1m-5 1h1m-18 1h1m14 0h1m6 0h1m21 0h1m-42 1h1m6 0h1m4 0h1m17 1h1m11 1h1m-38 1h1m6 0h1m2 0h1m-10 1h1m37 0h1m-52 1h1m24 0h1m-8 1h1m11 0h1m2 0h1m14 1h1m-46 1h2m2 0h1m5 1h1m5 0h1m2 0h1m7 0h1m4 0h1m4 0h1m-27 1h1m1 0h1m6 0h2m1 0h1m-19 1h1m2 0h1m11 0h1m-7 1h1m3 0h1m4 0h1m11 0h2m-34 1h1m4 0h1m12 0h1m4 0h1m0 1h1m3 0h1m2 0h2m-41 1h1m2 0h1m17 0h1m2 0h2m4 0h1m-27 1h1m11 0h1m16 0h1m1 0h1m-36 1h1m49 2h1m-36 1h1m15 0h1m-22 1h1m2 0h1m5 0h2m13 0h1m-12 3h1m15 0h1m6 1h1m-31 1h1m4 0h1m24 2h1m-24 3h1" stroke="#c0a040" stroke-width="1" fill="none"/>
<path transform="translate(1791.00 1012.85) scale(3.7)" d="M57 86h1m-12 3h1m6 2h1m-47 1h1m31 3h1m2 0h1m6 0h1m-7 2h1m22 1h1m-52 1h1m9 0h1m12 1h1m21 0h1m-42 1h1m-3 1h1m31 0h1m-23 1h1m16 0h1m-35 2h1m42 0h1m1 0h1m-32 2h1m17 0h1m-34 2h1m12 0h1m7 0h1m2 0h1m20 0h1m-25 1h1m3 0h1m1 0h1m-20 3h1m16 0h1m14 0h1m8 0h1m-21 2h1m-27 1h1m7 1h1" stroke="#e0a040" stroke-width="1" fill="none"/>
<path transform="translate(1791.00 1012.85) scale(3.7)" d="M102 102h1m3 4h1m-10 1h1m-9 1h1m9 1h1m1 0h1m-6 3h1m5 1h1m-17 1h1m5 0h1m4 0h1m-7 1h1m5 0h1m3 0h1m4 2h1m8 0h1m-30 1h1m2 0h1m18 0h1m-23 1h1m13 0h2m2 0h1m6 0h1m-16 1h1m-15 1h1m6 0h1m7 0h3m3 0h1m-13 1h1m3 0h1m7 0h1m7 0h1m1 0h1m-4 1h2m7 0h1m-4 1h1m-20 1h1m2 0h2m-9 1h1m1 0h2m1 0h2m2 0h1m2 0h1m5 0h1m-19 1h1m5 0h1m-8 1h1m1 0h3m2 0h1m-10 1h1m3 0h1m11 0h1m4 0h1m5 0h1m-24 1h2m-7 1h2m16 0h1m-22 1h1m13 0h1m4 0h1m7 0h1m-23 1h1m6 0h1m1 0h2m10 0h1m-24 1h1m10 0h1m-12 1h1m3 0h2m-3 1h2m4 1h1m6 0h1m-17 1h1m4 0h1m2 0h1m2 0h1m-16 1h1m13 0h1m9 0h1m1 0h2m-7 1h1m1 0h1m-21 1h1m10 0h1m3 0h1m9 0h1m-19 1h1m1 0h1m2 0h1m1 0h1m-3 1h1m-6 1h1m-5 2h1m10 0h3m-11 1h1m8 1h1m-3 2h1m1 1h1m-4 1h1m-14 2h1m12 0h1" stroke="#a02828" stroke-width="1" fill="none"/>
<path transform="translate(1791.00 1012.85) scale(3.7)" d="M0 64h1m-1 1h2m-2 2h2m-2 1h2m-2 2h2m-2 1h1m-1 1h1m-1 1h2m-2 2h2m-2 1h2m-2 1h2m-2 1h2m-2 1h1m-1 1h1m-1 1h2m-2 1h1m-1 1h2m-1 1h1m-1 3h1m-2 1h1m-1 1h1m-1 1h2m-2 4h2m-2 2h1m-1 1h1m0 1h1m-2 1h2m-2 1h2m-2 1h2m-1 1h1m-2 1h1m-1 1h2m-1 1h1m-2 1h1m-1 1h1m-1 1h1m-1 1h1m-1 3h1m-1 1h1m-1 1h1m-1 1h1m0 1h1m-2 1h2m-2 1h1m-1 2h1m-1 1h1m-1 1h1m-1 1h1" stroke="#600060" stroke-width="1" fill="none"/>
<path transform="translate(1791.00 1012.85) scale(3.7)" d="M0 124h1m0 2h1m-1 1h1m-2 1h2m-2 1h1m-1 1h2m-2 1h1m-1 1h1m-1 1h1m0 2h1m-2 1h2m-2 2h2m-1 1h1m-2 1h1m-1 3h1m-1 1h1m-1 1h1m-1 1h2m-2 2h2m-2 1h1m-1 1h1m-1 1h2m-1 1h1m-1 2h1m-2 1h1m-1 1h1" stroke="#109040" stroke-width="1" fill="none"/>
<path transform="translate(1791.00 1012.85) scale(3.7)" d="M6 155h1m54 0h1m-60 1h1m2 0h1m1 0h1m2 0h1m2 0h3m3 0h1m1 0h2m1 0h1m2 0h16m1 0h1m1 0h1m3 0h1m1 0h1m2 0h5m1 0h1m1 0h1m2 0h2m2 0h3m1 0h1" stroke="#00c050" stroke-width="1" fill="none"/>
<path transform="translate(1791.00 1012.85) scale(3.7)" d="M120 39h1m7 4h1m28 3h1m-38 1h1m-13 2h1m4 2h1m8 0h1m-4 1h1m-4 1h1m-9 1h1m1 0h1m19 0h1m-10 2h1m-7 1h1m5 0h1m-21 3h1m10 0h2m1 1h1m1 0h1m-6 2h1m-4 1h2m1 0h1m1 0h1m27 0h1m-31 1h1m1 0h1m26 0h1m-30 1h1m3 0h1m23 0h1m-23 1h1m-8 1h3m1 0h1m9 0h1m-16 2h1m2 0h1m6 0h1m-23 1h1m6 0h1m5 0h1m3 0h1m18 0h1m3 0h1m-31 1h1m9 0h1m-2 1h1m2 0h1m6 0h1m6 0h1m-18 1h1m6 0h1m5 0h1m6 0h1m1 0h1m-31 1h1m15 0h1m-9 1h1m5 0h1m3 0h1m9 0h1m2 0h1m-27 1h1m7 0h1m2 0h1m4 0h1m7 0h2m-23 1h1m6 0h1m3 0h1m-14 1h1m1 0h2m8 0h1m5 0h1m1 0h1m-19 1h1m9 0h1m5 0h1m-26 1h1m10 0h1m4 0h1m2 0h1m12 0h1m2 0h1m-26 1h1m2 0h2m1 0h1m1 0h1m2 0h2m4 0h1m4 0h1m-26 1h1m13 0h1m4 0h1m2 0h1m-22 1h1m8 0h3m5 0h2m-18 1h1m9 0h1m7 0h1m-13 1h1m1 0h1m8 0h1m-18 1h1m6 0h1m4 0h1m2 0h1m-11 1h1m5 0h2m6 0h1m-13 1h1m4 0h1m1 0h2m-20 1h1m10 0h1m2 0h1m11 0h1m3 0h1m-14 2h1m-12 2h1m8 1h1m6 0h1m-10 1h1m12 3h1" stroke="#ecec98" stroke-width="1" fill="none"/>
<path transform="translate(1791.00 1012.85) scale(3.7)" d="M128 45h1m-11 2h1m9 1h1m3 0h1m-1 1h1m-15 1h1m22 0h1m-16 1h1m1 0h4m2 0h1m-19 1h1m6 0h1m4 0h1m1 0h1m1 0h2m-15 1h1m4 0h3m2 0h1m3 0h1m-17 1h1m3 0h1m1 0h3m1 0h3m2 0h1m1 0h2m5 0h1m-22 1h1m1 0h2m3 0h1m1 0h2m1 0h1m1 0h1m2 0h3m1 0h1m1 0h1m-25 1h1m4 0h12m2 0h1m4 0h1m-30 1h1m4 0h2m2 0h1m1 0h1m2 0h1m1 0h6m1 0h1m1 0h1m2 0h1m-32 1h1m5 0h1m1 0h2m1 0h9m1 0h5m1 0h2m7 0h1m-34 1h2m1 0h21m1 0h1m4 0h1m-28 1h1m1 0h1m1 0h14m1 0h4m1 0h3m3 0h1m-35 1h1m5 0h4m3 0h10m1 0h1m1 0h3m-27 1h1m2 0h2m1 0h17m1 0h1m1 0h3m-30 1h1m2 0h1m1 0h1m1 0h21m-29 1h1m3 0h4m1 0h18m1 0h1m5 0h1m-30 1h19m1 0h2m-26 1h2m2 0h22m1 0h1m-28 1h1m1 0h2m1 0h21m1 0h1m4 0h1m-31 1h9m1 0h16m1 0h1m-31 1h1m1 0h2m1 0h23m-30 1h1m2 0h1m2 0h1m1 0h1m1 0h17m1 0h2m1 0h1m-33 1h1m7 0h16m1 0h3m5 0h4m-28 1h1m1 0h17m1 0h1m2 0h1m-25 1h2m1 0h6m1 0h4m1 0h1m1 0h4m3 0h2m-28 1h1m1 0h6m1 0h5m1 0h6m1 0h1m-22 1h1m4 0h3m1 0h2m2 0h7m4 0h1m-24 1h1m1 0h1m1 0h1m2 0h2m1 0h6m1 0h2m-24 1h1m9 0h2m1 0h4m2 0h3m5 0h1m-21 1h1m2 0h1m2 0h2m1 0h1m-7 1h2m3 0h1m1 0h1m1 0h1m-15 1h1m3 0h1m2 0h1m2 0h1m2 0h2m2 0h1m-7 1h1m3 0h1m7 0h1m-25 1h1m4 1h1m15 0h1m-18 1h1m17 0h1m-16 2h1" stroke="#ffff00" stroke-width="1" fill="none"/>
<rect x="1791.0" y="1011.0" width="630.0" height="582.0" fill="none" stroke="#000" stroke-width="3.7"/>
<path d="M1791.0 1030.6h-16.0M1791.0 1159.4h-16.0M1791.0 1136.0h-16.0M1791.0 1119.3h-16.0M1791.0 1106.4h-16.0M1791.0 1095.8h-16.0M1791.0 1086.9h-16.0M1791.0 1079.1h-16.0M1791.0 1072.3h-16.0M1791.0 1302.6h-16.0M1791.0 1276.7h-16.0M1791.0 1258.3h-16.0M1791.0 1244.0h-16.0M1791.0 1232.3h-16.0M1791.0 1222.4h-16.0M1791.0 1213.9h-16.0M1791.0 1206.3h-16.0M1791.0 1355.6h-16.0M1791.0 1365.5h-16.0M1791.0 1373.4h-16.0M1791.0 1383.3h-16.0M1791.0 1395.2h-16.0M1791.0 1410.0h-16.0M1791.0 1425.0h-16.0M1791.0 1442.9h-16.0M1791.0 1513.0h-16.0M1791.0 1531.0h-16.0M1791.0 1546.0h-16.0M1791.0 1557.5h-16.0M1791.0 1571.0h-16.0M1791.0 1578.0h-16.0M1791.0 1582.0h-16.0M1791.0 1589.0h-16.0" stroke="#000" stroke-width="3.7"/>
<path d="M1791.0 1066.2h-32.0M1791.0 1199.6h-32.0M1791.0 1347.0h-32.0M1791.0 1458.0h-32.0M1791.0 1476.5h-32.0M1791.0 1478.6h-32.0M1791.0 1480.7h-32.0M1791.0 1495.4h-32.0" stroke="#000" stroke-width="3.7"/>
<text x="1759.0" y="1073.2" font-size="34" textLength="29.0" lengthAdjust="spacingAndGlyphs" transform="rotate(-90 1759.0 1073.2)" text-anchor="middle">10</text>
<text x="1741.0" y="1047.2" font-size="30" textLength="15.0" lengthAdjust="spacingAndGlyphs" transform="rotate(-90 1741.0 1047.2)" text-anchor="middle">5</text>
<text x="1759.0" y="1206.6" font-size="34" textLength="29.0" lengthAdjust="spacingAndGlyphs" transform="rotate(-90 1759.0 1206.6)" text-anchor="middle">10</text>
<text x="1741.0" y="1180.6" font-size="30" textLength="15.0" lengthAdjust="spacingAndGlyphs" transform="rotate(-90 1741.0 1180.6)" text-anchor="middle">4</text>
<text x="1759.0" y="1354.0" font-size="34" textLength="29.0" lengthAdjust="spacingAndGlyphs" transform="rotate(-90 1759.0 1354.0)" text-anchor="middle">10</text>
<text x="1741.0" y="1328.0" font-size="30" textLength="15.0" lengthAdjust="spacingAndGlyphs" transform="rotate(-90 1741.0 1328.0)" text-anchor="middle">3</text>
<text x="1756.0" y="1478.6" font-size="34" textLength="14.0" lengthAdjust="spacingAndGlyphs" transform="rotate(-90 1756.0 1478.6)" text-anchor="middle">0</text>
<text x="1722.0" y="1594.5" font-size="34" textLength="61.0" lengthAdjust="spacingAndGlyphs" transform="rotate(-90 1722.0 1594.5)" text-anchor="middle">-819</text>
<line x1="1760.0" y1="1593.0" x2="2422.8" y2="1593.0" stroke="#000" stroke-width="3.7"/>
<path d="M1796.4 1593.0v20.0M1816.2 1593.0v20.0M1831.5 1593.0v20.0M1844.1 1593.0v20.0M1854.7 1593.0v20.0M1863.8 1593.0v20.0M1872.0 1593.0v20.0M1926.9 1593.0v20.0M1954.8 1593.0v20.0M1974.6 1593.0v20.0M1989.9 1593.0v20.0M2002.5 1593.0v20.0M2013.1 1593.0v20.0M2022.2 1593.0v20.0M2030.4 1593.0v20.0M2085.3 1593.0v20.0M2113.2 1593.0v20.0M2133.0 1593.0v20.0M2148.3 1593.0v20.0M2160.9 1593.0v20.0M2171.5 1593.0v20.0M2180.6 1593.0v20.0M2188.8 1593.0v20.0M2243.7 1593.0v20.0M2271.6 1593.0v20.0M2291.4 1593.0v20.0M2306.7 1593.0v20.0M2319.3 1593.0v20.0M2329.9 1593.0v20.0M2339.0 1593.0v20.0M2347.2 1593.0v20.0M2402.1 1593.0v20.0" stroke="#000" stroke-width="3.7"/>
<path d="M1879.2 1593.0v34.0M2037.6 1593.0v34.0M2196.0 1593.0v34.0M2354.4 1593.0v34.0" stroke="#000" stroke-width="3.7"/>
<text x="1854.2" y="1662.0" font-size="34" textLength="30.0" lengthAdjust="spacingAndGlyphs">10</text>
<text x="1888.2" y="1644.0" font-size="30" textLength="15.0" lengthAdjust="spacingAndGlyphs">2</text>
<text x="2012.6" y="1662.0" font-size="34" textLength="30.0" lengthAdjust="spacingAndGlyphs">10</text>
<text x="2046.6" y="1644.0" font-size="30" textLength="15.0" lengthAdjust="spacingAndGlyphs">3</text>
<text x="2171.0" y="1662.0" font-size="34" textLength="30.0" lengthAdjust="spacingAndGlyphs">10</text>
<text x="2205.0" y="1644.0" font-size="30" textLength="15.0" lengthAdjust="spacingAndGlyphs">4</text>
<text x="2329.4" y="1662.0" font-size="34" textLength="30.0" lengthAdjust="spacingAndGlyphs">10</text>
<text x="2363.4" y="1644.0" font-size="30" textLength="15.0" lengthAdjust="spacingAndGlyphs">5</text>
<text x="1942.0" y="1698.0" font-size="44" textLength="322.0" lengthAdjust="spacingAndGlyphs">CD38 APC-H7-A</text>
<text x="1704.0" y="1288.5" font-size="45" textLength="420.0" lengthAdjust="spacingAndGlyphs" transform="rotate(-90 1704.0 1288.5)" text-anchor="middle">CD27 PerCP-Cy5-5-A</text>
<ellipse cx="1920" cy="2010" rx="100" ry="120" fill="#e4f9ea" opacity="1" filter="url(#b10)"/>
<ellipse cx="2010" cy="2090" rx="70" ry="70" fill="#fff6e6" opacity="1" filter="url(#b10)"/>
<ellipse cx="1890" cy="2255" rx="55" ry="85" fill="#fce8fb" opacity="1" filter="url(#b10)"/>
<ellipse cx="1995" cy="2270" rx="75" ry="85" fill="#fffde0" opacity="1" filter="url(#b10)"/>
<path transform="translate(1791.00 1819.85) scale(3.7)" d="M44 17h1m3 1h1m-26 1h2m-11 2h1m11 0h1m-12 4h1m8 0h1m14 0h1m-29 1h1m58 0h1m-56 1h1m33 0h1m3 0h1m12 0h1m-26 2h1m-10 1h1m4 0h1m8 0h1m9 0h1m-45 1h1m10 0h1m5 0h1m8 0h1m11 0h1m-16 1h1m-4 1h1m2 0h1m11 0h1m-19 1h2m14 0h1m7 0h1m6 0h1m-45 1h1m4 0h1m5 0h2m10 0h1m8 0h1m3 0h1m9 0h1m-53 1h1m29 0h1m3 0h1m9 0h2m-17 1h1m-33 1h1m1 0h1m5 0h1m7 0h1m5 0h1m4 0h1m8 0h1m3 0h1m1 0h1m3 0h1m1 0h1m2 0h1m-38 1h2m17 0h2m3 0h1m1 0h1m-20 1h1m17 0h1m8 0h1m-40 1h1m22 0h1m1 0h2m2 0h1m1 0h1m-40 1h1m15 0h1m3 0h1m1 0h1m8 0h1m4 0h1m2 0h2m-37 1h1m4 0h1m22 0h1m2 0h1m4 0h2m1 0h2m2 0h1m4 0h1m-53 1h1m38 0h1m1 0h1m1 0h1m3 0h1m10 0h1m4 0h1m-59 1h1m28 0h1m2 0h1m9 0h2m-57 1h1m17 0h1m7 0h1m5 0h1m7 0h1m10 0h2m2 0h1m11 0h1m-66 1h1m1 0h1m8 0h1m3 0h1m1 0h2m3 0h1m1 0h1m1 0h1m13 0h1m1 0h2m4 0h3m1 0h1m4 0h1m7 0h1m-54 1h1m3 0h1m22 0h2m1 0h2m4 0h3m1 0h1m1 0h1m2 0h1m3 0h1m1 0h1m-55 1h1m1 0h1m1 0h1m2 0h1m4 0h1m1 0h2m12 0h1m3 0h1m12 0h2m4 0h1m-55 1h1m3 0h1m2 0h1m29 0h1m4 0h2m2 0h1m8 0h2m-54 1h1m4 0h1m16 0h1m14 0h1m4 0h1m3 0h1m-57 1h1m3 0h1m3 0h1m3 0h2m11 0h1m17 0h1m9 0h1m17 0h1m-58 1h1m5 0h1m6 0h2m6 0h1m6 0h1m3 0h1m1 0h1m3 0h3m6 0h1m1 0h1m-52 1h1m2 0h1m5 0h1m11 0h3m4 0h1m3 0h1m1 0h2m1 0h3m2 0h1m-38 1h1m8 0h1m4 0h1m2 0h1m3 0h1m3 0h1m1 0h1m1 0h1m1 0h1m4 0h1m5 0h1m-55 1h1m6 0h1m7 0h1m9 0h1m13 0h1m1 0h1m4 0h3m12 0h1m-61 1h1m1 0h1m3 0h2m5 0h1m2 0h1m11 0h2m9 0h1m16 0h1m-56 1h1m3 0h1m2 0h1m2 0h1m5 0h3m2 0h3m5 0h2m2 0h1m13 0h1m4 0h1m4 0h1m1 0h1m-60 1h1m5 0h1m2 0h2m2 0h2m1 0h3m2 0h1m4 0h1m3 0h1m2 0h1m6 0h1m2 0h1m-47 1h1m2 0h1m5 0h1m6 0h2m7 0h2m1 0h1m12 0h1m1 0h1m1 0h1m-35 1h1m8 0h1m5 0h1m1 0h1m3 0h1m1 0h1m2 0h1m4 0h1m2 0h1m3 0h1m1 0h2m-50 1h1m5 0h1m3 0h2m2 0h1m1 0h1m4 0h2m2 0h1m5 0h1m2 0h2m2 0h1m1 0h2m1 0h1m5 0h1m2 0h1m-43 1h2m4 0h1m1 0h1m4 0h1m1 0h4m2 0h1m4 0h1m2 0h1m5 0h2m2 0h1m8 0h1m-60 1h1m19 0h1m4 0h1m1 0h1m5 0h1m6 0h1m1 0h1m14 0h1m5 0h1m9 0h1m-80 1h1m11 0h2m8 0h1m7 0h1m1 0h2m2 0h2m6 0h1m4 0h2m7 0h1m-43 1h2m8 0h3m2 0h1m1 0h2m3 0h2m1 0h3m1 0h1m3 0h1m5 0h1m8 0h1m-62 1h1m6 0h1m2 0h1m5 0h1m1 0h3m3 0h1m6 0h1m1 0h1m1 0h2m1 0h3m6 0h1m5 0h1m1 0h1m5 0h1m10 0h1m-58 1h1m1 0h1m4 0h1m3 0h2m3 0h2m1 0h2m2 0h1m3 0h1m7 0h1m3 0h2m-51 1h1m7 0h1m2 0h1m2 0h1m2 0h2m2 0h1m5 0h2m3 0h1m2 0h2m4 0h1m8 0h1m8 0h1m-57 1h1m2 0h1m5 0h1m3 0h1m3 0h2m1 0h1m4 0h4m8 0h1m-45 1h1m21 0h1m1 0h1m1 0h1m3 0h1m2 0h3m-18 1h1m4 0h1m12 0h2m1 0h1m1 0h1m1 0h1m8 0h1m4 0h1m-46 1h1m10 0h2m4 0h1m2 0h2m3 0h1m6 0h1m4 0h1m1 0h1m-39 1h1m2 0h1m2 0h1m4 0h1m5 0h1m3 0h1m10 0h1m9 0h1m-43 1h1m11 0h1m2 0h1m9 0h1m3 0h1m6 0h1m2 0h1m-39 1h2m4 0h1m1 0h2m1 0h1m1 0h1m2 0h1m7 0h3m1 0h1m1 0h1m-35 1h1m11 0h3m1 0h1m2 0h1m2 0h1m2 0h1m5 0h1m4 0h2m-33 1h1m5 0h1m9 0h1m6 0h1m24 0h1m-47 1h1m3 0h1m5 0h1m1 0h1m1 0h1m2 0h1m30 0h1m-50 1h1m14 0h1m5 0h2m4 0h1m-29 1h1m8 0h1m4 0h1m19 0h1m-26 1h1m3 0h1m1 0h1m6 0h1m8 0h1m-41 1h1m6 0h1m11 0h1m-1 1h1m3 0h1m9 0h1m14 0h1m-29 2h1m2 1h1m1 0h1m6 0h1m-5 3h1m26 1h1m-41 3h1m20 1h1m-8 1h1m5 0h1m-4 1h1" stroke="#10c060" stroke-width="1" fill="none"/>
<path transform="translate(1791.00 1819.85) scale(3.7)" d="M21 9h1m18 9h1m-4 1h1m1 1h1m12 1h1m-36 1h1m7 0h1m10 0h1m7 0h1m-20 1h2m15 0h1m-21 1h2m3 0h1m-8 1h1m-5 1h1m4 0h1m1 0h1m4 0h1m3 0h1m2 0h1m8 0h1m-15 1h3m2 0h1m3 0h1m8 0h1m-21 1h1m5 0h1m6 0h2m1 0h2m-23 1h1m1 0h1m4 0h2m1 0h2m2 0h2m7 0h2m7 0h1m-47 1h1m6 0h1m3 0h3m3 0h2m1 0h2m3 0h1m5 0h1m2 0h1m5 0h2m-31 1h1m1 0h1m5 0h1m1 0h1m3 0h1m1 0h2m1 0h2m1 0h1m1 0h1m2 0h1m3 0h2m-28 1h1m1 0h3m3 0h1m2 0h3m1 0h1m1 0h1m2 0h1m6 0h1m4 0h1m-41 1h1m1 0h2m5 0h1m1 0h2m1 0h1m1 0h1m2 0h8m-36 1h1m6 0h1m1 0h1m5 0h2m3 0h1m3 0h2m1 0h7m4 0h2m13 0h1m-48 1h2m3 0h2m2 0h2m5 0h1m2 0h1m1 0h1m1 0h1m5 0h1m1 0h1m4 0h1m4 0h1m-44 1h1m2 0h5m3 0h3m2 0h3m2 0h4m2 0h1m5 0h1m1 0h2m-36 1h1m4 0h1m2 0h3m2 0h3m1 0h4m4 0h1m1 0h2m1 0h5m7 0h1m4 0h1m-45 1h1m2 0h4m2 0h4m2 0h3m1 0h4m2 0h2m3 0h1m1 0h1m-36 1h1m4 0h1m1 0h1m2 0h2m2 0h3m1 0h1m2 0h6m2 0h2m2 0h1m6 0h1m1 0h1m-42 1h1m2 0h1m3 0h5m1 0h1m1 0h8m1 0h2m2 0h4m2 0h1m-31 1h3m2 0h1m2 0h1m1 0h1m1 0h4m1 0h3m8 0h1m1 0h2m3 0h1m-43 1h1m4 0h1m1 0h2m1 0h3m3 0h1m3 0h1m1 0h3m1 0h2m3 0h2m2 0h1m3 0h1m5 0h1m2 0h1m-41 1h1m1 0h19m4 0h1m1 0h2m-39 1h1m3 0h1m3 0h1m1 0h1m1 0h3m1 0h8m1 0h10m1 0h2m5 0h1m1 0h1m-48 1h1m4 0h1m4 0h1m2 0h13m1 0h8m1 0h2m2 0h2m1 0h1m-49 1h1m12 0h2m4 0h5m1 0h5m1 0h7m1 0h1m1 0h6m-34 1h1m2 0h1m3 0h2m1 0h1m1 0h1m1 0h4m1 0h8m1 0h1m2 0h4m-42 1h1m4 0h1m3 0h1m1 0h1m2 0h10m1 0h7m3 0h1m3 0h1m-39 1h1m7 0h1m1 0h4m1 0h1m2 0h6m1 0h5m1 0h1m1 0h1m1 0h1m1 0h1m1 0h3m2 0h1m-38 1h2m1 0h1m1 0h5m1 0h14m1 0h3m2 0h2m-32 1h1m1 0h1m3 0h10m1 0h5m1 0h8m4 0h1m-43 1h1m4 0h1m2 0h3m1 0h2m3 0h5m1 0h4m1 0h4m1 0h1m1 0h2m1 0h1m-37 1h1m3 0h1m5 0h6m2 0h1m1 0h4m1 0h1m1 0h4m1 0h1m3 0h1m1 0h1m1 0h1m-38 1h1m2 0h1m1 0h1m2 0h1m2 0h1m1 0h6m3 0h4m1 0h1m1 0h1m9 0h1m10 0h1m-53 1h1m3 0h1m1 0h2m2 0h1m1 0h2m1 0h3m2 0h2m1 0h2m6 0h1m14 0h1m-44 1h1m2 0h2m1 0h6m1 0h2m1 0h4m1 0h4m1 0h3m1 0h1m1 0h1m-34 1h1m2 0h1m7 0h5m1 0h3m2 0h1m5 0h3m3 0h2m6 0h1m-58 1h1m10 0h1m1 0h1m2 0h1m2 0h4m5 0h1m3 0h1m1 0h3m2 0h1m2 0h1m1 0h1m1 0h1m1 0h1m1 0h3m3 0h1m-46 1h1m1 0h1m6 0h1m6 0h2m2 0h2m2 0h3m1 0h2m1 0h3m-35 1h1m8 0h1m3 0h1m1 0h5m2 0h1m1 0h3m1 0h2m1 0h2m-29 1h1m4 0h1m2 0h1m3 0h5m1 0h1m1 0h2m5 0h1m1 0h3m-30 1h2m3 0h1m1 0h1m1 0h1m2 0h1m5 0h2m1 0h2m-19 1h1m7 0h3m1 0h1m5 0h1m4 0h1m-25 1h2m1 0h2m1 0h1m2 0h2m1 0h1m1 0h1m1 0h1m1 0h1m6 0h1m-28 1h3m4 0h3m5 0h1m2 0h2m2 0h2m5 0h1m-28 1h1m3 0h1m1 0h1m10 0h1m1 0h1m10 0h1m-24 1h2m2 0h2m2 0h1m3 0h1m2 0h1m3 0h1m-19 1h2m8 0h1m12 0h1m5 0h1m-35 1h1m6 0h1m1 0h1m8 0h1m-7 1h1m1 0h1m5 0h1m-18 1h1m4 0h1m1 0h1m4 0h1m4 0h1m2 0h1m-20 1h1m2 0h1m13 0h1m5 0h1m-19 1h1m4 0h1m-15 1h2m2 0h1m5 0h1m-4 1h1m7 0h1m-4 1h1m-23 1h1m11 2h1m2 2h1m14 0h1m-12 8h1" stroke="#00e800" stroke-width="1" fill="none"/>
<path transform="translate(1791.00 1819.85) scale(3.7)" d="M66 40h1m-13 1h1m13 4h1m17 1h1m-6 1h1m-9 1h1m-22 2h1m-14 1h1m11 0h1m-3 1h1m8 0h1m3 0h2m4 0h1m5 0h1m6 0h1m8 0h1m-30 1h1m23 0h2m-44 1h1m5 0h1m6 0h1m9 0h1m10 0h1m-37 1h2m5 0h1m13 0h1m-5 1h2m1 0h1m19 0h1m-40 1h1m9 0h1m1 0h1m7 0h1m-20 1h1m5 0h1m11 0h2m11 0h1m1 0h1m1 0h1m-32 1h1m9 0h1m3 0h2m3 0h1m-14 1h1m7 0h2m2 0h1m1 0h1m4 0h1m5 0h1m-30 1h1m5 0h1m4 0h1m1 0h1m2 0h1m2 0h1m-6 1h1m4 0h1m5 0h1m5 0h1m-41 1h1m1 0h1m18 0h3m3 0h1m1 0h2m3 0h1m-33 1h1m9 0h1m1 0h1m1 0h1m1 0h1m3 0h1m3 0h3m6 0h1m-24 1h2m1 0h1m5 0h1m8 0h2m1 0h1m-43 1h1m13 0h1m2 0h1m3 0h2m17 0h1m-25 1h1m1 0h1m2 0h3m1 0h1m4 0h1m1 0h2m5 0h1m10 0h1m-33 1h1m1 0h1m5 0h1m7 0h3m5 0h1m1 0h1m-42 1h1m11 0h1m8 0h1m11 0h1m-14 1h4m1 0h1m3 0h1m1 0h1m2 0h3m1 0h1m2 0h1m-17 1h1m7 0h1m3 0h1m-20 1h2m2 0h1m1 0h1m-24 1h1m3 0h1m3 0h1m11 0h1m1 0h1m1 0h1m4 0h1m10 0h2m-37 1h1m5 0h1m1 0h1m4 0h1m4 0h1m6 0h1m3 0h1m1 0h2m3 0h1m-36 1h2m13 0h1m3 0h1m2 0h1m6 0h1m1 0h1m-34 1h1m12 0h1m5 0h1m5 0h1m1 0h6m-22 1h1m7 0h1m1 0h1m3 0h1m2 0h1m3 0h1m10 0h1m1 0h1m-30 1h1m8 0h1m10 0h1m-29 1h1m4 0h1m3 0h1m3 0h1m1 0h2m1 0h1m8 0h1m-21 1h1m7 0h1m1 0h1m1 0h1m-35 1h1m11 0h1m7 0h1m3 0h1m3 0h2m1 0h2m2 0h1m4 0h1m-33 1h1m14 0h2m3 0h1m1 0h3m4 0h1m-17 1h1m7 0h1m7 0h1m-28 1h1m6 0h1m6 0h1m9 0h1m6 0h1m-28 1h1m2 0h2m2 0h1m3 0h1m3 0h3m3 0h1m1 0h1m-18 1h1m9 0h1m8 0h1m3 0h1m5 0h1m10 0h1m-45 1h1m2 0h1m2 0h3m1 0h1m7 0h2m1 0h1m12 0h1m-21 1h1m4 0h1m3 0h1m-24 1h1m5 1h1m4 0h1m7 0h1m13 0h1m-24 1h1m5 0h1m2 1h1m-20 1h1m10 1h1m1 1h1m19 0h1m-48 1h1m16 0h1m13 2h1m-3 1h1m-4 1h1m12 2h1" stroke="#d0a060" stroke-width="1" fill="none"/>
<path transform="translate(1791.00 1819.85) scale(3.7)" d="M51 40h1m-8 1h1m9 8h2m-5 4h1m1 1h1m11 1h1m-30 1h1m12 0h1m1 1h1m8 0h1m-16 1h1m12 0h1m4 0h1m-19 1h1m3 0h1m2 0h1m1 0h2m-5 1h1m12 0h1m-19 1h1m4 0h1m7 0h1m7 0h1m-16 1h1m11 0h1m5 0h1m-21 1h1m4 0h1m-5 1h1m3 0h1m15 0h1m-16 1h2m8 0h1m-12 1h1m1 0h5m4 0h1m-21 1h1m1 0h1m6 0h1m2 0h1m16 0h1m-28 1h1m12 0h1m6 0h1m-27 1h1m5 0h1m4 0h2m3 0h1m2 0h1m1 0h1m11 0h1m-35 1h1m5 0h1m3 0h1m1 0h1m-7 1h1m1 0h1m3 0h2m2 0h1m3 0h1m6 0h1m-15 1h1m14 0h1m-22 1h1m2 0h1m6 0h1m-8 1h2m2 0h1m-8 1h1m3 0h1m11 0h1m2 0h1m3 0h1m-12 1h1m1 0h1m2 0h1m-17 1h1m12 0h2m1 0h1m-16 1h1m16 0h1m-15 1h3m3 0h1m1 0h1m15 0h1m-28 1h2m3 0h1m2 0h1m0 2h1m-15 1h1m13 0h1m-2 1h1m-19 2h1m6 4h1m2 3h1m6 3h1" stroke="#f09020" stroke-width="1" fill="none"/>
<path transform="translate(1791.00 1819.85) scale(3.7)" d="M76 32h1m-19 2h1m-3 1h1m6 2h1m6 6h2m8 3h1m-3 2h1m7 0h1m-24 1h1m16 2h1m-22 1h1m18 0h1m-12 2h1m-7 1h1m23 0h1m-4 1h1m5 0h1m-33 1h1m9 1h1m-7 1h1m-1 1h1m10 0h1m-9 1h1m-11 1h1m4 0h1m12 0h1m3 0h1m-16 1h1m12 0h1m-14 2h1m19 0h1m-9 2h1m-9 2h1m-22 2h1m2 0h1m27 0h1m1 0h1m-4 3h1m-13 2h1m15 1h1m-5 6h1m-6 2h1m6 5h1" stroke="#902020" stroke-width="1" fill="none"/>
<path transform="translate(1791.00 1819.85) scale(3.7)" d="M26 75h1m6 10h1m-17 2h1m19 0h1m-13 1h1m9 0h1m-21 1h1m16 1h1m0 1h1m6 0h1m-11 1h1m-16 1h1m28 0h1m-34 1h1m11 1h1m6 0h1m-12 1h1m4 0h1m4 0h1m1 0h1m-7 1h1m-18 1h1m6 0h1m15 0h1m3 0h1m-15 1h1m2 0h1m-10 1h2m4 0h1m-1 1h1m2 0h1m14 0h1m-26 1h1m4 0h1m17 0h2m-19 1h1m8 0h1m-20 1h1m5 0h2m2 0h1m16 0h1m-21 1h1m4 0h2m2 0h1m3 0h1m3 0h1m1 0h1m1 0h1m-4 1h1m-23 1h1m3 0h1m3 0h1m10 0h1m-8 1h1m3 0h1m4 0h1m-20 1h1m-6 1h1m5 0h1m2 0h1m-7 1h1m4 0h1m2 0h1m5 0h1m1 0h1m1 0h1m1 0h1m-16 1h1m1 0h1m2 0h3m16 0h1m-25 1h1m4 0h1m13 0h2m-22 1h1m3 0h2m13 0h1m-22 1h1m1 0h1m11 0h2m4 0h1m1 0h1m-28 1h1m4 0h1m6 0h1m7 0h1m11 0h1m-27 1h2m1 0h1m1 0h1m3 0h1m2 0h1m8 0h1m-35 1h1m13 0h1m10 0h1m7 0h1m1 0h1m-5 1h2m-19 1h1m1 0h1m8 0h1m5 0h1m2 0h1m-32 1h1m13 0h1m5 0h1m8 0h1m-24 1h1m6 0h2m5 0h1m5 0h2m-4 1h1m1 0h1m-14 1h2m2 0h1m1 0h1m2 0h1m1 0h1m5 0h3m4 0h1m-30 1h1m4 0h1m2 0h2m2 0h3m2 0h1m2 0h1m-20 1h1m4 0h1m2 0h1m4 0h1m2 0h2m2 0h1m1 0h2m-25 1h1m1 0h1m10 0h1m2 0h2m-17 1h1m3 0h1m1 0h4m6 0h2m1 0h1m-18 1h1m3 0h1m7 0h1m3 0h1m-11 1h2m6 0h1m3 0h2m-21 1h1m2 0h1m2 0h2m2 0h1m2 0h1m4 0h1m1 0h1m-28 1h1m4 0h1m4 0h1m3 0h3m-8 1h1m1 0h1m1 0h1m4 0h1m3 0h1m11 0h1m-33 1h1m5 0h1m4 0h1m2 0h1m2 0h1m7 0h1m-16 1h1m5 0h1m1 0h2m-13 1h1m9 0h1m8 0h1m1 0h1m-16 1h1m5 0h2m5 0h1m-10 1h1m-15 1h1m1 0h1m7 0h1m-5 1h1m2 0h1m18 0h1m-24 4h1m13 0h1m-12 1h1m10 1h1m-10 8h1" stroke="#b030b0" stroke-width="1" fill="none"/>
<path transform="translate(1791.00 1819.85) scale(3.7)" d="M33 86h1m-10 2h1m-5 1h1m6 1h1m0 1h1m0 1h1m-6 2h1m8 0h1m-15 1h1m1 0h2m2 0h2m6 0h1m-13 1h1m3 0h3m11 0h1m-27 1h1m4 0h1m5 0h1m1 0h1m1 0h1m2 0h1m1 0h1m-18 1h1m2 0h1m1 0h2m10 0h1m2 0h1m-19 1h1m4 0h1m2 0h1m2 0h2m1 0h1m-21 1h1m4 0h2m5 0h5m5 0h1m-16 1h1m2 0h2m1 0h4m1 0h1m3 0h1m1 0h1m-24 1h1m2 0h3m1 0h1m2 0h2m2 0h3m2 0h2m-20 1h1m1 0h1m1 0h2m1 0h1m1 0h6m1 0h2m-10 1h2m1 0h1m1 0h2m2 0h3m1 0h2m-22 1h1m3 0h1m4 0h2m1 0h3m1 0h3m-16 1h1m1 0h6m1 0h2m2 0h1m1 0h1m-24 1h1m5 0h1m1 0h2m2 0h3m1 0h3m1 0h2m2 0h2m-23 1h1m4 0h1m1 0h4m2 0h3m1 0h2m1 0h1m-22 1h1m4 0h1m1 0h5m1 0h5m1 0h2m-18 1h1m2 0h1m1 0h1m2 0h8m1 0h1m2 0h2m-22 1h3m1 0h2m1 0h5m1 0h1m1 0h1m-17 1h2m5 0h2m3 0h1m2 0h1m1 0h2m-14 1h4m1 0h6m1 0h1m4 0h1m-24 1h1m4 0h1m1 0h1m2 0h5m1 0h7m2 0h1m-29 1h1m7 0h4m1 0h3m1 0h2m2 0h1m2 0h1m5 0h1m-25 1h6m3 0h5m1 0h2m1 0h2m-27 1h1m2 0h1m7 0h1m3 0h1m2 0h1m1 0h3m3 0h1m7 0h1m-26 1h1m1 0h6m1 0h1m1 0h2m1 0h4m-25 1h1m1 0h1m4 0h1m2 0h2m2 0h1m1 0h2m1 0h1m1 0h1m-17 1h1m4 0h3m1 0h3m2 0h3m-15 1h1m2 0h1m1 0h1m1 0h1m1 0h2m-12 1h2m5 0h2m1 0h2m2 0h1m4 0h1m-19 1h1m1 0h1m1 0h1m1 0h6m1 0h1m-11 1h2m1 0h1m1 0h1m7 0h1m-23 1h1m7 0h2m3 0h1m4 0h1m-17 1h1m7 0h1m1 0h1m1 0h2m-9 1h1m1 0h1m3 0h1m2 0h2m4 0h1m-7 1h3m-16 1h1m11 0h1m3 0h1m3 0h1m-18 2h1m7 1h1m1 0h1m-14 3h1" stroke="#f000f0" stroke-width="1" fill="none"/>
<path transform="translate(1791.00 1819.85) scale(3.7)" d="M56 94h1m-3 1h1m-7 1h1m-9 1h1m4 0h1m2 0h1m5 0h1m8 0h1m-9 1h1m-14 2h1m3 0h2m18 0h1m6 1h1m-35 2h1m2 0h1m14 0h1m5 0h1m-21 1h1m1 0h1m22 0h1m3 0h1m-24 1h2m4 0h1m-24 1h1m9 0h1m21 0h1m4 0h1m-26 1h2m-10 1h1m4 0h1m8 0h1m5 0h1m-14 1h1m2 0h1m7 0h1m10 0h1m-20 1h2m7 0h1m-20 1h1m1 0h1m1 0h1m19 0h1m6 0h1m3 0h1m-31 1h1m25 0h1m4 0h2m4 0h1m-38 1h1m5 0h1m17 0h1m1 0h2m-10 1h1m4 0h2m1 0h1m1 0h2m1 0h1m3 0h1m-44 1h1m28 0h1m17 0h1m-48 1h1m4 0h1m4 0h1m5 0h1m6 0h1m8 0h1m2 0h1m8 0h1m-39 1h1m1 0h1m-3 1h1m16 0h1m5 0h1m-25 1h1m-6 1h1m9 0h1m9 0h1m6 0h1m2 0h1m3 0h1m2 0h1m3 0h1m-45 1h1m10 0h1m8 0h1m11 0h1m-12 1h1m13 0h1m2 0h1m1 0h1m3 0h1m-38 1h1m4 0h1m11 0h1m11 0h1m-32 1h1m9 0h3m4 0h1m9 0h2m2 0h1m7 0h1m-43 1h1m25 0h1m19 0h1m-45 1h1m8 0h1m4 0h1m21 0h1m2 0h2m-37 1h2m22 0h1m8 0h1m-13 1h2m10 0h1m-35 1h1m1 0h1m1 0h1m8 0h1m2 0h2m17 0h2m-33 1h1m3 0h1m9 0h1m1 0h2m2 0h2m7 0h2m-12 1h1m1 0h1m3 0h1m8 0h1m-31 2h1m2 0h1m3 0h1m1 0h1m11 0h1m9 0h1m-33 1h1m1 0h2m2 0h1m9 0h2m4 0h1m1 0h1m14 0h1m-44 1h1m13 0h1m6 0h1m9 0h1m-32 1h1m6 0h1m7 0h1m9 0h1m3 0h1m-27 1h1m5 0h1m21 0h1m-34 1h1m1 0h1m11 0h1m2 0h1m-10 1h1m3 0h1m14 0h1m-33 1h1m11 0h1m20 0h1m5 0h1m-18 1h4m1 0h3m-21 1h1m17 0h1m7 0h1m-17 1h1m3 1h1m13 0h1m-39 1h1m12 0h1m1 0h1m8 0h1m7 0h1m8 0h1m-29 1h1m4 0h1m2 0h1m4 0h1m8 0h1m-7 1h1m-1 1h1m-28 2h1m8 0h1m21 0h1m-19 5h1m17 1h1" stroke="#eeee88" stroke-width="1" fill="none"/>
<path transform="translate(1791.00 1819.85) scale(3.7)" d="M59 87h1m-2 7h1m0 1h1m6 0h1m-13 1h1m-5 1h1m13 1h1m-14 1h1m2 0h1m5 0h1m-18 2h1m1 0h1m1 0h1m4 0h1m8 0h1m1 0h1m-24 1h1m10 0h4m5 0h1m5 0h1m-27 1h1m5 0h1m5 0h2m2 0h1m1 0h1m-7 1h2m1 0h1m2 0h1m-11 1h1m2 0h4m1 0h1m3 0h1m1 0h1m2 0h1m3 0h1m-33 1h4m3 0h2m1 0h1m1 0h1m2 0h1m1 0h1m1 0h1m1 0h1m2 0h1m-24 1h1m8 0h6m1 0h1m1 0h2m1 0h1m1 0h1m3 0h1m1 0h1m-22 1h4m1 0h4m3 0h1m1 0h1m1 0h2m-19 1h1m1 0h7m1 0h4m3 0h3m6 0h1m-31 1h2m1 0h1m3 0h3m2 0h2m2 0h2m1 0h3m3 0h1m3 0h1m-32 1h1m2 0h2m2 0h3m1 0h3m1 0h2m2 0h2m1 0h4m1 0h1m-30 1h1m1 0h2m3 0h1m1 0h1m1 0h2m1 0h3m1 0h9m1 0h1m2 0h1m1 0h1m-28 1h1m2 0h1m2 0h5m1 0h4m3 0h1m3 0h1m5 0h1m3 0h1m-34 1h1m3 0h1m1 0h1m2 0h1m1 0h1m1 0h2m3 0h2m3 0h1m-25 1h3m1 0h1m1 0h3m2 0h5m2 0h2m1 0h2m3 0h2m-26 1h1m2 0h2m1 0h1m1 0h1m1 0h2m1 0h2m1 0h2m1 0h2m1 0h1m4 0h1m1 0h1m-41 1h1m4 0h1m7 0h1m1 0h1m1 0h4m1 0h2m1 0h8m4 0h1m-34 1h1m3 0h1m1 0h1m1 0h5m1 0h5m1 0h5m1 0h1m1 0h3m-35 1h1m6 0h1m3 0h16m1 0h3m1 0h1m1 0h2m1 0h1m4 0h1m-32 1h2m1 0h1m2 0h2m2 0h5m2 0h2m1 0h1m1 0h1m2 0h1m-25 1h2m2 0h1m1 0h10m2 0h1m1 0h1m-27 1h2m3 0h1m1 0h5m1 0h11m1 0h1m1 0h2m-34 1h1m10 0h1m2 0h4m1 0h1m1 0h11m5 0h1m-33 1h1m1 0h1m7 0h3m1 0h7m1 0h1m5 0h4m-29 1h1m1 0h1m1 0h1m2 0h2m1 0h4m1 0h1m1 0h1m1 0h1m1 0h2m1 0h3m12 0h1m-40 1h1m3 0h1m2 0h2m1 0h8m1 0h2m1 0h1m1 0h3m10 0h1m-47 1h1m7 0h1m1 0h4m3 0h1m2 0h6m1 0h1m2 0h1m3 0h4m8 0h1m-39 1h1m1 0h3m1 0h12m2 0h2m1 0h1m2 0h1m-28 1h1m3 0h1m1 0h1m1 0h2m1 0h2m2 0h6m3 0h1m-17 1h1m2 0h2m1 0h1m4 0h2m2 0h1m4 0h1m-39 1h1m6 0h1m5 0h4m1 0h2m1 0h1m1 0h1m1 0h5m3 0h1m-22 1h1m6 0h5m1 0h2m2 0h2m1 0h1m2 0h3m-28 1h1m8 0h3m1 0h1m2 0h6m1 0h1m1 0h1m5 0h1m-30 1h1m11 0h2m2 0h2m-15 1h1m4 0h2m5 0h1m5 0h1m3 0h1m-17 1h2m1 0h1m5 0h2m2 0h1m-27 1h1m15 0h1m2 0h1m2 0h1m-13 1h1m-1 1h1m3 0h1m2 0h1m-9 1h1m3 0h1m9 0h1m1 0h1m-15 1h1m-2 1h1m5 0h1m7 0h1m-5 1h1m-6 1h1m9 4h1m0 2h1" stroke="#ffff00" stroke-width="1" fill="none"/>
<rect x="1791.0" y="1818.0" width="630.0" height="582.0" fill="none" stroke="#000" stroke-width="3.7"/>
<path d="M1791.0 1837.4h-16.0M1791.0 1964.2h-16.0M1791.0 1941.5h-16.0M1791.0 1925.4h-16.0M1791.0 1912.9h-16.0M1791.0 1902.6h-16.0M1791.0 1894.0h-16.0M1791.0 1886.5h-16.0M1791.0 1879.9h-16.0M1791.0 2101.2h-16.0M1791.0 2076.5h-16.0M1791.0 2058.9h-16.0M1791.0 2045.3h-16.0M1791.0 2034.2h-16.0M1791.0 2024.8h-16.0M1791.0 2016.7h-16.0M1791.0 2009.5h-16.0M1791.0 2146.5h-16.0M1791.0 2149.0h-16.0M1791.0 2152.0h-16.0M1791.0 2169.0h-16.0M1791.0 2185.8h-16.0M1791.0 2202.6h-16.0M1791.0 2219.4h-16.0M1791.0 2247.4h-16.0M1791.0 2275.4h-16.0M1791.0 2379.0h-16.0" stroke="#000" stroke-width="3.7"/>
<path d="M1791.0 1874.0h-32.0M1791.0 2003.1h-32.0M1791.0 2143.4h-32.0M1791.0 2311.5h-32.0M1791.0 2313.9h-32.0M1791.0 2316.3h-32.0M1791.0 2349.6h-32.0" stroke="#000" stroke-width="3.7"/>
<text x="1759.0" y="1881.0" font-size="34" textLength="29.0" lengthAdjust="spacingAndGlyphs" transform="rotate(-90 1759.0 1881.0)" text-anchor="middle">10</text>
<text x="1741.0" y="1855.0" font-size="30" textLength="15.0" lengthAdjust="spacingAndGlyphs" transform="rotate(-90 1741.0 1855.0)" text-anchor="middle">5</text>
<text x="1759.0" y="2010.1" font-size="34" textLength="29.0" lengthAdjust="spacingAndGlyphs" transform="rotate(-90 1759.0 2010.1)" text-anchor="middle">10</text>
<text x="1741.0" y="1984.1" font-size="30" textLength="15.0" lengthAdjust="spacingAndGlyphs" transform="rotate(-90 1741.0 1984.1)" text-anchor="middle">4</text>
<text x="1759.0" y="2150.4" font-size="34" textLength="29.0" lengthAdjust="spacingAndGlyphs" transform="rotate(-90 1759.0 2150.4)" text-anchor="middle">10</text>
<text x="1741.0" y="2124.4" font-size="30" textLength="15.0" lengthAdjust="spacingAndGlyphs" transform="rotate(-90 1741.0 2124.4)" text-anchor="middle">3</text>
<text x="1756.0" y="2313.9" font-size="34" textLength="14.0" lengthAdjust="spacingAndGlyphs" transform="rotate(-90 1756.0 2313.9)" text-anchor="middle">0</text>
<text x="1722.0" y="2401.0" font-size="34" textLength="62.0" lengthAdjust="spacingAndGlyphs" transform="rotate(-90 1722.0 2401.0)" text-anchor="middle">-275</text>
<line x1="1760.0" y1="2400.0" x2="2422.8" y2="2400.0" stroke="#000" stroke-width="3.7"/>
<path d="M1819.0 2400.0v20.0M1822.0 2400.0v20.0M1825.0 2400.0v20.0M1828.0 2400.0v20.0M1834.0 2400.0v20.0M1837.0 2400.0v20.0M1840.0 2400.0v20.0M1845.0 2400.0v20.0M1848.0 2400.0v20.0M1851.0 2400.0v20.0M1879.5 2400.0v20.0M1887.0 2400.0v20.0M1890.0 2400.0v20.0M1897.0 2400.0v20.0M1900.0 2400.0v20.0M1903.0 2400.0v20.0M1908.0 2400.0v20.0M1911.0 2400.0v20.0M1914.0 2400.0v20.0M1917.0 2400.0v20.0M1969.2 2400.0v20.0M1995.9 2400.0v20.0M2014.9 2400.0v20.0M2029.6 2400.0v20.0M2041.6 2400.0v20.0M2051.8 2400.0v20.0M2060.6 2400.0v20.0M2068.4 2400.0v20.0M2118.0 2400.0v20.0M2143.2 2400.0v20.0M2161.0 2400.0v20.0M2174.9 2400.0v20.0M2186.2 2400.0v20.0M2195.8 2400.0v20.0M2204.1 2400.0v20.0M2211.4 2400.0v20.0M2261.1 2400.0v20.0M2286.4 2400.0v20.0M2304.3 2400.0v20.0M2318.2 2400.0v20.0M2329.6 2400.0v20.0M2339.2 2400.0v20.0M2347.5 2400.0v20.0M2354.8 2400.0v20.0M2404.6 2400.0v20.0" stroke="#000" stroke-width="3.7"/>
<path d="M1791.0 2400.0v34.0M1813.0 2400.0v34.0M1860.0 2400.0v34.0M1867.5 2400.0v34.0M1875.5 2400.0v34.0M1923.5 2400.0v34.0M2075.0 2400.0v34.0M2217.9 2400.0v34.0M2361.4 2400.0v34.0" stroke="#000" stroke-width="3.7"/>
<text x="1898.5" y="2469.0" font-size="34" textLength="30.0" lengthAdjust="spacingAndGlyphs">10</text>
<text x="1932.5" y="2451.0" font-size="30" textLength="15.0" lengthAdjust="spacingAndGlyphs">2</text>
<text x="2050.0" y="2469.0" font-size="34" textLength="30.0" lengthAdjust="spacingAndGlyphs">10</text>
<text x="2084.0" y="2451.0" font-size="30" textLength="15.0" lengthAdjust="spacingAndGlyphs">3</text>
<text x="2192.9" y="2469.0" font-size="34" textLength="30.0" lengthAdjust="spacingAndGlyphs">10</text>
<text x="2226.9" y="2451.0" font-size="30" textLength="15.0" lengthAdjust="spacingAndGlyphs">4</text>
<text x="2336.4" y="2469.0" font-size="34" textLength="30.0" lengthAdjust="spacingAndGlyphs">10</text>
<text x="2370.4" y="2451.0" font-size="30" textLength="15.0" lengthAdjust="spacingAndGlyphs">5</text>
<text x="1863.0" y="2468.0" font-size="34" textLength="14.0" lengthAdjust="spacingAndGlyphs" text-anchor="middle">0</text>
<text x="1756.0" y="2490.0" font-size="34" textLength="62.0" lengthAdjust="spacingAndGlyphs">-157</text>
<text x="1999.0" y="2505.0" font-size="44" textLength="209.0" lengthAdjust="spacingAndGlyphs">IgM APC-A</text>
<text x="1704.0" y="2099.0" font-size="45" textLength="181.0" lengthAdjust="spacingAndGlyphs" transform="rotate(-90 1704.0 2099.0)" text-anchor="middle">IgD PE-A</text>
</svg></body></html>
